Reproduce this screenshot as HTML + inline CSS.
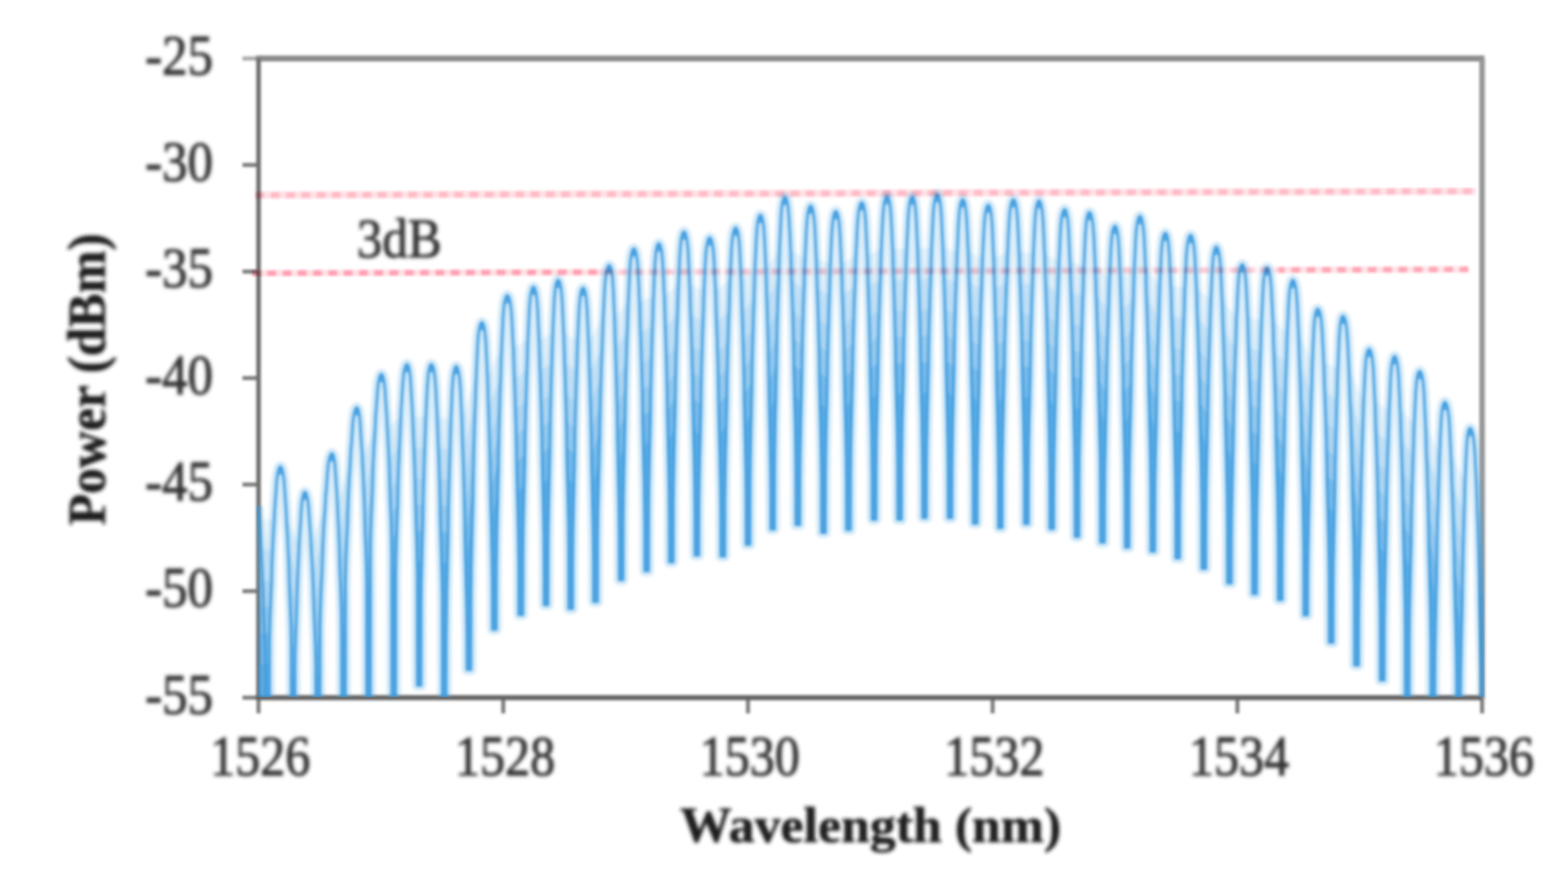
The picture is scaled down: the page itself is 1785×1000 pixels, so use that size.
<!DOCTYPE html>
<html><head><meta charset="utf-8"><title>Spectrum</title>
<style>
html,body{margin:0;padding:0;background:#fff;}
body{width:1785px;height:1000px;overflow:hidden;}
svg{display:block;}
text{font-family:"Liberation Serif",serif;fill:#333;stroke:#333;stroke-width:1px;stroke-linejoin:round;}
.b{font-weight:bold;fill:#1c1c1c;stroke:#1c1c1c;stroke-width:0.6px;}
</style></head><body>
<svg width="1785" height="1000" viewBox="0 0 1785 1000">
<defs>
<clipPath id="cp"><rect x="292" y="60" width="1398" height="733.8"/></clipPath>
<filter id="bl" x="-5%" y="-5%" width="110%" height="110%"><feGaussianBlur stdDeviation="1.6"/></filter>
<filter id="bw" x="-5%" y="-5%" width="110%" height="110%"><feGaussianBlur stdDeviation="1.5"/></filter>
<filter id="br" x="-5%" y="-50%" width="110%" height="200%" filterUnits="objectBoundingBox"><feGaussianBlur stdDeviation="1.6"/></filter>
<filter id="bt" x="-5%" y="-20%" width="110%" height="140%"><feGaussianBlur stdDeviation="2.0"/></filter>
</defs>
<rect width="1785" height="1000" fill="#fff"/>

<g filter="url(#bl)" fill="none" stroke-linecap="butt">
<line x1="276" x2="294.3" y1="794.6" y2="794.6" stroke="#7a7a7a" stroke-width="4.5"/>
<line x1="276" x2="294.3" y1="673.3" y2="673.3" stroke="#7a7a7a" stroke-width="4.5"/>
<line x1="276" x2="294.3" y1="551.9" y2="551.9" stroke="#7a7a7a" stroke-width="4.5"/>
<line x1="276" x2="294.3" y1="430.6" y2="430.6" stroke="#7a7a7a" stroke-width="4.5"/>
<line x1="276" x2="294.3" y1="309.3" y2="309.3" stroke="#7a7a7a" stroke-width="4.5"/>
<line x1="276" x2="294.3" y1="187.9" y2="187.9" stroke="#7a7a7a" stroke-width="4.5"/>
<line x1="276" x2="294.3" y1="66.6" y2="66.6" stroke="#a8a8a8" stroke-width="4.5"/>
<line x1="294.3" x2="294.3" y1="794.6" y2="812.5" stroke="#7a7a7a" stroke-width="4.5"/>
<line x1="572.9" x2="572.9" y1="794.6" y2="812.5" stroke="#7a7a7a" stroke-width="4.5"/>
<line x1="851.5" x2="851.5" y1="794.6" y2="812.5" stroke="#7a7a7a" stroke-width="4.5"/>
<line x1="1130.0" x2="1130.0" y1="794.6" y2="812.5" stroke="#7a7a7a" stroke-width="4.5"/>
<line x1="1408.6" x2="1408.6" y1="794.6" y2="812.5" stroke="#7a7a7a" stroke-width="4.5"/>
<line x1="1687.2" x2="1687.2" y1="794.6" y2="812.5" stroke="#7a7a7a" stroke-width="4.5"/>
<line x1="291.3" x2="1689.8" y1="66.6" y2="66.6" stroke="#8a8a8a" stroke-width="6.6"/>
<line x1="1687.2" x2="1687.2" y1="66.6" y2="796.6" stroke="#969696" stroke-width="6.4"/>
<line x1="294.3" x2="294.3" y1="66.6" y2="796.6" stroke="#6e6e6e" stroke-width="5.2"/>
<line x1="291.3" x2="1687.2" y1="794.6" y2="794.6" stroke="#626262" stroke-width="5.6"/>
</g>
<g clip-path="url(#cp)"><g filter="url(#bw)" fill="none" stroke-linejoin="round" stroke-linecap="butt"><path d="M294.0 576.5 L294.3 584.0 L295.0 593.5 L295.8 605.7 L296.7 617.7 L297.4 633.3 L298.3 649.5 L299.2 669.3 L299.7 681.9 L300.1 700.5 L300.8 717.3 L301.5 733.5 L302.0 748.5 L302.3 766.5 L302.4 828.0 L306.8 828.0 L306.9 729.5 L307.3 711.5 L307.8 696.5 L308.5 680.3 L309.2 663.5 L309.6 644.9 L310.1 632.3 L311.0 612.5 L312.0 596.3 L312.7 580.7 L313.6 568.7 L314.4 556.5 L315.1 547.0 L316.0 540.5 L317.0 535.5 L318.1 532.5 L319.2 531.5 L320.3 532.5 L321.4 535.5 L322.4 540.5 L323.3 547.0 L324.0 556.5 L324.8 568.7 L325.7 580.7 L326.4 596.3 L327.4 612.5 L328.3 632.3 L328.8 644.9 L329.2 663.5 L329.9 680.3 L330.6 696.5 L331.1 711.5 L331.5 729.5 L331.6 828.0 L335.8 828.0 L335.9 758.5 L336.2 740.5 L336.7 725.5 L337.3 709.3 L337.9 692.5 L338.3 673.9 L338.8 661.3 L339.6 641.5 L340.4 625.3 L341.1 609.7 L342.0 597.7 L342.7 585.5 L343.3 576.0 L344.1 569.5 L345.0 564.5 L346.0 561.5 L347.0 560.5 L348.1 561.5 L349.3 564.5 L350.3 569.5 L351.1 576.0 L351.8 585.5 L352.7 597.7 L353.6 609.7 L354.3 625.3 L355.3 641.5 L356.2 661.3 L356.7 673.9 L357.2 692.5 L357.9 709.3 L358.6 725.5 L359.1 740.5 L359.4 758.5 L359.5 828.0 L364.3 828.0 L364.4 714.5 L364.8 696.5 L365.3 681.5 L366.0 665.3 L366.8 648.5 L367.3 629.9 L367.8 617.3 L368.8 597.5 L369.9 581.3 L370.7 565.7 L371.8 553.7 L372.6 541.5 L373.4 532.0 L374.3 525.5 L375.4 520.5 L376.7 517.5 L377.9 516.5 L378.9 517.5 L379.9 520.5 L380.8 525.5 L381.5 532.0 L382.1 541.5 L382.9 553.7 L383.7 565.7 L384.4 581.3 L385.2 597.5 L386.0 617.3 L386.4 629.9 L386.8 648.5 L387.5 665.3 L388.1 681.5 L388.5 696.5 L388.8 714.5 L388.9 828.0 L393.2 828.0 L393.3 662.3 L393.7 644.3 L394.2 629.3 L394.9 613.1 L395.7 596.3 L396.2 577.7 L396.6 565.1 L397.6 545.3 L398.6 529.1 L399.4 513.5 L400.4 501.5 L401.2 489.3 L401.9 479.8 L402.8 473.3 L403.9 468.3 L405.0 465.3 L406.2 464.3 L407.2 465.3 L408.2 468.3 L409.1 473.3 L409.9 479.8 L410.5 489.3 L411.2 501.5 L412.1 513.5 L412.8 529.1 L413.6 545.3 L414.4 565.1 L414.9 577.7 L415.3 596.3 L415.9 613.1 L416.5 629.3 L417.0 644.3 L417.3 662.3 L417.4 828.0 L421.7 828.0 L421.8 624.2 L422.1 606.2 L422.6 591.2 L423.3 575.0 L424.0 558.2 L424.5 539.6 L424.9 527.0 L425.9 507.2 L426.9 491.0 L427.6 475.4 L428.5 463.4 L429.4 451.2 L430.1 441.7 L430.9 435.2 L431.9 430.2 L433.1 427.2 L434.2 426.2 L435.3 427.2 L436.3 430.2 L437.3 435.2 L438.1 441.7 L438.7 451.2 L439.5 463.4 L440.4 475.4 L441.1 491.0 L442.0 507.2 L442.9 527.0 L443.3 539.6 L443.8 558.2 L444.4 575.0 L445.1 591.2 L445.5 606.2 L445.9 624.2 L446.0 803.0 L450.4 803.0 L450.5 655.0 L450.9 632.5 L451.4 613.8 L452.1 593.5 L452.9 572.5 L453.3 549.2 L453.8 533.5 L454.8 508.8 L455.8 488.5 L456.5 469.0 L457.5 454.0 L458.3 440.0 L459.1 430.5 L459.9 424.0 L461.0 419.0 L462.1 416.0 L463.3 415.0 L464.4 416.0 L465.4 419.0 L466.4 424.0 L467.2 430.5 L467.8 440.0 L468.6 454.0 L469.5 469.0 L470.2 488.5 L471.1 508.8 L472.0 533.5 L472.4 549.2 L472.9 572.5 L473.5 593.5 L474.2 613.8 L474.6 632.5 L475.0 655.0 L475.1 780.6 L479.3 780.6 L479.4 691.4 L479.7 665.0 L480.2 643.0 L480.8 619.2 L481.5 594.6 L481.9 567.3 L482.4 548.8 L483.2 519.8 L484.1 496.0 L484.9 473.2 L485.7 455.6 L486.5 440.0 L487.2 430.5 L487.9 424.0 L488.9 419.0 L489.9 416.0 L491.0 415.0 L492.1 416.0 L493.3 419.0 L494.3 424.0 L495.1 430.5 L495.9 440.0 L496.7 455.6 L497.6 473.2 L498.4 496.0 L499.4 519.8 L500.3 548.8 L500.8 567.3 L501.2 594.6 L502.0 619.2 L502.6 643.0 L503.2 665.0 L503.5 691.4 L503.6 808.0 L507.9 808.0 L508.0 727.2 L508.4 697.2 L508.8 672.2 L509.4 645.2 L510.1 617.2 L510.5 586.2 L510.9 565.2 L511.8 532.2 L512.6 505.2 L513.3 479.2 L514.2 459.2 L514.9 442.2 L515.6 432.7 L516.3 426.2 L517.3 421.2 L518.3 418.2 L519.3 417.2 L520.4 418.2 L521.5 421.2 L522.5 426.2 L523.4 432.7 L524.1 442.2 L524.9 459.2 L525.8 479.2 L526.5 505.2 L527.5 532.2 L528.4 565.2 L528.9 586.2 L529.3 617.2 L530.0 645.2 L530.7 672.2 L531.2 697.2 L531.6 727.2 L531.7 762.7 L536.1 762.7 L536.2 677.2 L536.6 647.2 L537.1 622.2 L537.8 595.2 L538.5 567.2 L539.0 536.2 L539.4 515.2 L540.3 482.2 L541.3 455.2 L542.1 429.2 L543.0 409.2 L543.8 392.2 L544.5 382.7 L545.3 376.2 L546.4 371.2 L547.5 368.2 L548.6 367.2 L549.7 368.2 L550.8 371.2 L551.8 376.2 L552.5 382.7 L553.2 392.2 L554.0 409.2 L554.9 429.2 L555.7 455.2 L556.6 482.2 L557.5 515.2 L557.9 536.2 L558.4 567.2 L559.1 595.2 L559.7 622.2 L560.2 647.2 L560.5 677.2 L560.6 716.8 L565.0 716.8 L565.1 646.5 L565.5 616.5 L566.0 591.5 L566.7 564.5 L567.4 536.5 L567.9 505.5 L568.3 484.5 L569.2 451.5 L570.2 424.5 L571.0 398.5 L571.9 378.5 L572.7 361.5 L573.4 352.0 L574.2 345.5 L575.3 340.5 L576.4 337.5 L577.5 336.5 L578.7 337.5 L579.9 340.5 L580.9 345.5 L581.8 352.0 L582.6 361.5 L583.4 378.5 L584.4 398.5 L585.2 424.5 L586.2 451.5 L587.2 484.5 L587.7 505.5 L588.2 536.5 L588.9 564.5 L589.6 591.5 L590.1 616.5 L590.5 646.5 L590.6 700.0 L595.2 700.0 L595.3 636.9 L595.6 606.9 L596.1 581.9 L596.8 554.9 L597.5 526.9 L597.9 495.9 L598.4 474.9 L599.3 441.9 L600.2 414.9 L600.9 388.9 L601.8 368.9 L602.6 351.9 L603.3 342.4 L604.1 335.9 L605.1 330.9 L606.2 327.9 L607.3 326.9 L608.4 327.9 L609.5 330.9 L610.5 335.9 L611.3 342.4 L612.0 351.9 L612.8 368.9 L613.7 388.9 L614.5 414.9 L615.4 441.9 L616.3 474.9 L616.8 495.9 L617.2 526.9 L617.9 554.9 L618.6 581.9 L619.1 606.9 L619.4 636.9 L619.5 688.8 L623.8 688.8 L623.9 629.0 L624.2 599.0 L624.7 574.0 L625.3 547.0 L626.0 519.0 L626.4 488.0 L626.8 467.0 L627.6 434.0 L628.5 407.0 L629.3 381.0 L630.1 361.0 L630.9 344.0 L631.5 334.5 L632.3 328.0 L633.2 323.0 L634.3 320.0 L635.3 319.0 L636.4 320.0 L637.5 323.0 L638.5 328.0 L639.3 334.5 L640.0 344.0 L640.8 361.0 L641.7 381.0 L642.5 407.0 L643.4 434.0 L644.3 467.0 L644.8 488.0 L645.2 519.0 L645.9 547.0 L646.6 574.0 L647.1 599.0 L647.4 629.0 L647.5 693.2 L651.9 693.2 L652.0 638.0 L652.3 608.0 L652.8 583.0 L653.4 556.0 L654.1 528.0 L654.5 497.0 L655.0 476.0 L655.9 443.0 L656.8 416.0 L657.5 390.0 L658.4 370.0 L659.2 353.0 L659.9 343.5 L660.7 337.0 L661.6 332.0 L662.7 329.0 L663.8 328.0 L664.9 329.0 L665.9 332.0 L666.9 337.0 L667.7 343.5 L668.4 353.0 L669.1 370.0 L670.0 390.0 L670.8 416.0 L671.7 443.0 L672.5 476.0 L673.0 497.0 L673.4 528.0 L674.1 556.0 L674.7 583.0 L675.2 608.0 L675.6 638.0 L675.7 685.2 L680.2 685.2 L680.3 612.2 L680.7 582.2 L681.3 557.2 L682.0 530.2 L682.7 502.2 L683.2 471.2 L683.7 450.2 L684.7 417.2 L685.8 390.2 L686.6 364.2 L687.6 344.2 L688.4 327.2 L689.2 317.7 L690.1 311.2 L691.2 306.2 L692.4 303.2 L693.6 302.2 L694.6 303.2 L695.7 306.2 L696.6 311.2 L697.4 317.7 L698.0 327.2 L698.8 344.2 L699.6 364.2 L700.3 390.2 L701.2 417.2 L702.0 450.2 L702.5 471.2 L702.9 502.2 L703.5 530.2 L704.1 557.2 L704.6 582.2 L704.9 612.2 L705.0 660.3 L709.3 660.3 L709.4 593.2 L709.8 563.2 L710.3 538.2 L710.9 511.2 L711.6 483.2 L712.1 452.2 L712.5 431.2 L713.4 398.2 L714.4 371.2 L715.2 345.2 L716.1 325.2 L716.9 308.2 L717.6 298.7 L718.4 292.2 L719.4 287.2 L720.5 284.2 L721.6 283.2 L722.7 284.2 L723.8 287.2 L724.8 292.2 L725.7 298.7 L726.4 308.2 L727.2 325.2 L728.1 345.2 L728.8 371.2 L729.8 398.2 L730.7 431.2 L731.2 452.2 L731.6 483.2 L732.3 511.2 L733.0 538.2 L733.5 563.2 L733.9 593.2 L734.0 650.2 L738.3 650.2 L738.4 587.5 L738.7 557.5 L739.2 532.5 L739.8 505.5 L740.5 477.5 L740.9 446.5 L741.4 425.5 L742.2 392.5 L743.1 365.5 L743.9 339.5 L744.7 319.5 L745.5 302.5 L746.2 293.0 L746.9 286.5 L747.9 281.5 L748.9 278.5 L750.0 277.5 L751.1 278.5 L752.2 281.5 L753.2 286.5 L753.9 293.0 L754.6 302.5 L755.4 319.5 L756.3 339.5 L757.1 365.5 L758.0 392.5 L758.9 425.5 L759.3 446.5 L759.8 477.5 L760.5 505.5 L761.1 532.5 L761.6 557.5 L761.9 587.5 L762.0 640.1 L766.4 640.1 L766.5 574.1 L766.9 544.1 L767.4 519.1 L768.0 492.1 L768.7 464.1 L769.2 433.1 L769.6 412.1 L770.5 379.1 L771.5 352.1 L772.3 326.1 L773.2 306.1 L774.0 289.1 L774.7 279.6 L775.5 273.1 L776.5 268.1 L777.6 265.1 L778.7 264.1 L779.8 265.1 L780.9 268.1 L781.9 273.1 L782.8 279.6 L783.5 289.1 L784.3 306.1 L785.2 326.1 L785.9 352.1 L786.9 379.1 L787.8 412.1 L788.3 433.1 L788.7 464.1 L789.4 492.1 L790.1 519.1 L790.6 544.1 L791.0 574.1 L791.1 632.3 L795.5 632.3 L795.6 580.8 L796.0 550.8 L796.5 525.8 L797.2 498.8 L797.9 470.8 L798.3 439.8 L798.8 418.8 L799.7 385.8 L800.7 358.8 L801.4 332.8 L802.3 312.8 L803.1 295.8 L803.8 286.3 L804.7 279.8 L805.7 274.8 L806.8 271.8 L807.9 270.8 L809.0 271.8 L810.2 274.8 L811.2 279.8 L812.1 286.3 L812.8 295.8 L813.6 312.8 L814.6 332.8 L815.3 358.8 L816.3 385.8 L817.3 418.8 L817.7 439.8 L818.2 470.8 L818.9 498.8 L819.6 525.8 L820.1 550.8 L820.5 580.8 L820.6 633.4 L825.1 633.4 L825.2 569.5 L825.6 539.5 L826.1 514.5 L826.8 487.5 L827.5 459.5 L827.9 428.5 L828.4 407.5 L829.3 374.5 L830.3 347.5 L831.0 321.5 L831.9 301.5 L832.7 284.5 L833.4 275.0 L834.3 268.5 L835.3 263.5 L836.4 260.5 L837.5 259.5 L838.6 260.5 L839.7 263.5 L840.6 268.5 L841.4 275.0 L842.1 284.5 L842.9 301.5 L843.8 321.5 L844.5 347.5 L845.4 374.5 L846.3 407.5 L846.8 428.5 L847.2 459.5 L847.9 487.5 L848.5 514.5 L849.0 539.5 L849.3 569.5 L849.4 620.0 L853.8 620.0 L853.9 555.1 L854.2 525.1 L854.7 500.1 L855.3 473.1 L856.0 445.1 L856.4 414.1 L856.9 393.1 L857.8 360.1 L858.7 333.1 L859.4 307.1 L860.3 287.1 L861.1 270.1 L861.8 260.6 L862.6 254.1 L863.5 249.1 L864.6 246.1 L865.7 245.1 L866.8 246.1 L867.8 249.1 L868.8 254.1 L869.6 260.6 L870.2 270.1 L871.0 287.1 L871.9 307.1 L872.6 333.1 L873.5 360.1 L874.4 393.1 L874.8 414.1 L875.3 445.1 L875.9 473.1 L876.6 500.1 L877.0 525.1 L877.4 555.1 L877.5 602.7 L881.7 602.7 L881.8 534.5 L882.2 504.5 L882.6 479.5 L883.3 452.5 L883.9 424.5 L884.4 393.5 L884.8 372.5 L885.7 339.5 L886.6 312.5 L887.3 286.5 L888.2 266.5 L889.0 249.5 L889.6 240.0 L890.4 233.5 L891.4 228.5 L892.4 225.5 L893.5 224.5 L894.6 225.5 L895.8 228.5 L896.8 233.5 L897.6 240.0 L898.3 249.5 L899.2 266.5 L900.1 286.5 L900.8 312.5 L901.8 339.5 L902.8 372.5 L903.2 393.5 L903.7 424.5 L904.4 452.5 L905.1 479.5 L905.6 504.5 L905.9 534.5 L906.0 597.6 L910.5 597.6 L910.6 544.5 L911.0 514.5 L911.5 489.5 L912.1 462.5 L912.8 434.5 L913.3 403.5 L913.7 382.5 L914.6 349.5 L915.6 322.5 L916.4 296.5 L917.3 276.5 L918.1 259.5 L918.8 250.0 L919.6 243.5 L920.6 238.5 L921.7 235.5 L922.8 234.5 L923.9 235.5 L925.0 238.5 L926.0 243.5 L926.9 250.0 L927.6 259.5 L928.4 276.5 L929.3 296.5 L930.0 322.5 L931.0 349.5 L931.9 382.5 L932.4 403.5 L932.8 434.5 L933.5 462.5 L934.2 489.5 L934.7 514.5 L935.1 544.5 L935.2 606.5 L939.6 606.5 L939.7 550.8 L940.0 520.8 L940.5 495.8 L941.1 468.8 L941.8 440.8 L942.2 409.8 L942.7 388.8 L943.6 355.8 L944.5 328.8 L945.2 302.8 L946.1 282.8 L946.9 265.8 L947.6 256.3 L948.4 249.8 L949.3 244.8 L950.4 241.8 L951.5 240.8 L952.6 241.8 L953.7 244.8 L954.7 249.8 L955.5 256.3 L956.2 265.8 L957.0 282.8 L957.9 302.8 L958.6 328.8 L959.6 355.8 L960.5 388.8 L960.9 409.8 L961.4 440.8 L962.1 468.8 L962.8 495.8 L963.2 520.8 L963.6 550.8 L963.7 603.2 L968.2 603.2 L968.3 540.7 L968.7 510.7 L969.2 485.7 L969.9 458.7 L970.6 430.7 L971.1 399.7 L971.6 378.7 L972.5 345.7 L973.6 318.7 L974.3 292.7 L975.3 272.7 L976.1 255.7 L976.9 246.2 L977.7 239.7 L978.8 234.7 L979.9 231.7 L981.1 230.7 L982.2 231.7 L983.2 234.7 L984.2 239.7 L985.0 246.2 L985.6 255.7 L986.4 272.7 L987.3 292.7 L988.0 318.7 L988.9 345.7 L989.8 378.7 L990.2 399.7 L990.7 430.7 L991.3 458.7 L992.0 485.7 L992.4 510.7 L992.8 540.7 L992.9 591.5 L997.3 591.5 L997.4 533.5 L997.7 503.5 L998.2 478.5 L998.9 451.5 L999.6 423.5 L1000.1 392.5 L1000.5 371.5 L1001.5 338.5 L1002.5 311.5 L1003.2 285.5 L1004.1 265.5 L1005.0 248.5 L1005.7 239.0 L1006.5 232.5 L1007.5 227.5 L1008.7 224.5 L1009.8 223.5 L1010.9 224.5 L1012.0 227.5 L1013.0 232.5 L1013.8 239.0 L1014.5 248.5 L1015.3 265.5 L1016.2 285.5 L1016.9 311.5 L1017.8 338.5 L1018.7 371.5 L1019.2 392.5 L1019.6 423.5 L1020.3 451.5 L1021.0 478.5 L1021.5 503.5 L1021.8 533.5 L1021.9 591.5 L1026.3 591.5 L1026.4 534.0 L1026.8 504.0 L1027.2 479.0 L1027.9 452.0 L1028.6 424.0 L1029.0 393.0 L1029.5 372.0 L1030.4 339.0 L1031.3 312.0 L1032.1 286.0 L1033.0 266.0 L1033.8 249.0 L1034.5 239.5 L1035.3 233.0 L1036.3 228.0 L1037.4 225.0 L1038.5 224.0 L1039.6 225.0 L1040.6 228.0 L1041.6 233.0 L1042.4 239.5 L1043.0 249.0 L1043.8 266.0 L1044.7 286.0 L1045.4 312.0 L1046.3 339.0 L1047.2 372.0 L1047.6 393.0 L1048.1 424.0 L1048.7 452.0 L1049.4 479.0 L1049.8 504.0 L1050.2 534.0 L1050.3 589.5 L1054.6 589.5 L1054.7 531.5 L1055.1 501.5 L1055.6 476.5 L1056.3 449.5 L1057.0 421.5 L1057.4 390.5 L1057.9 369.5 L1058.8 336.5 L1059.8 309.5 L1060.5 283.5 L1061.4 263.5 L1062.2 246.5 L1062.9 237.0 L1063.8 230.5 L1064.8 225.5 L1065.9 222.5 L1067.0 221.5 L1068.1 222.5 L1069.2 225.5 L1070.2 230.5 L1071.0 237.0 L1071.7 246.5 L1072.5 263.5 L1073.4 283.5 L1074.2 309.5 L1075.2 336.5 L1076.1 369.5 L1076.5 390.5 L1077.0 421.5 L1077.7 449.5 L1078.3 476.5 L1078.8 501.5 L1079.2 531.5 L1079.3 589.7 L1083.7 589.7 L1083.8 537.3 L1084.2 507.3 L1084.7 482.3 L1085.3 455.3 L1086.0 427.3 L1086.5 396.3 L1086.9 375.3 L1087.8 342.3 L1088.8 315.3 L1089.6 289.3 L1090.5 269.3 L1091.3 252.3 L1092.0 242.8 L1092.8 236.3 L1093.8 231.3 L1094.9 228.3 L1096.0 227.3 L1097.1 228.3 L1098.2 231.3 L1099.1 236.3 L1099.9 242.8 L1100.6 252.3 L1101.4 269.3 L1102.3 289.3 L1103.0 315.3 L1103.9 342.3 L1104.8 375.3 L1105.3 396.3 L1105.7 427.3 L1106.4 455.3 L1107.0 482.3 L1107.5 507.3 L1107.8 537.3 L1107.9 596.0 L1112.4 596.0 L1112.5 543.6 L1112.9 513.6 L1113.4 488.6 L1114.1 461.6 L1114.8 433.6 L1115.3 402.6 L1115.8 381.6 L1116.7 348.6 L1117.7 321.6 L1118.5 295.6 L1119.4 275.6 L1120.3 258.6 L1121.0 249.1 L1121.8 242.6 L1122.9 237.6 L1124.0 234.6 L1125.2 233.6 L1126.2 234.6 L1127.2 237.6 L1128.2 242.6 L1128.9 249.1 L1129.6 258.6 L1130.3 275.6 L1131.2 295.6 L1131.9 321.6 L1132.7 348.6 L1133.6 381.6 L1134.0 402.6 L1134.4 433.6 L1135.1 461.6 L1135.7 488.6 L1136.1 513.6 L1136.5 543.6 L1136.6 601.0 L1140.9 601.0 L1141.0 537.3 L1141.4 507.3 L1141.9 482.3 L1142.6 455.3 L1143.3 427.3 L1143.8 396.3 L1144.3 375.3 L1145.2 342.3 L1146.2 315.3 L1147.0 289.3 L1147.9 269.3 L1148.8 252.3 L1149.5 242.8 L1150.3 236.3 L1151.4 231.3 L1152.5 228.3 L1153.7 227.3 L1154.8 228.3 L1155.9 231.3 L1157.0 236.3 L1157.8 242.8 L1158.5 252.3 L1159.3 269.3 L1160.2 289.3 L1161.0 315.3 L1162.0 342.3 L1162.9 375.3 L1163.3 396.3 L1163.8 427.3 L1164.5 455.3 L1165.2 482.3 L1165.7 507.3 L1166.1 537.3 L1166.2 596.4 L1170.6 596.4 L1170.7 538.5 L1171.0 508.5 L1171.5 483.5 L1172.2 456.5 L1172.9 428.5 L1173.4 397.5 L1173.8 376.5 L1174.7 343.5 L1175.7 316.5 L1176.4 290.5 L1177.3 270.5 L1178.1 253.5 L1178.8 244.0 L1179.6 237.5 L1180.6 232.5 L1181.7 229.5 L1182.8 228.5 L1183.9 229.5 L1185.0 232.5 L1186.0 237.5 L1186.8 244.0 L1187.5 253.5 L1188.3 270.5 L1189.2 290.5 L1190.0 316.5 L1191.0 343.5 L1191.9 376.5 L1192.3 397.5 L1192.8 428.5 L1193.5 456.5 L1194.1 483.5 L1194.6 508.5 L1195.0 538.5 L1195.1 602.0 L1199.5 602.0 L1199.6 548.5 L1200.0 518.5 L1200.5 493.5 L1201.2 466.5 L1201.9 438.5 L1202.4 407.5 L1202.8 386.5 L1203.7 353.5 L1204.7 326.5 L1205.5 300.5 L1206.4 280.5 L1207.2 263.5 L1207.9 254.0 L1208.7 247.5 L1209.8 242.5 L1210.9 239.5 L1212.0 238.5 L1213.1 239.5 L1214.1 242.5 L1215.1 247.5 L1215.9 254.0 L1216.6 263.5 L1217.3 280.5 L1218.2 300.5 L1219.0 326.5 L1219.9 353.5 L1220.8 386.5 L1221.2 407.5 L1221.6 438.5 L1222.3 466.5 L1222.9 493.5 L1223.4 518.5 L1223.8 548.5 L1223.9 611.0 L1228.2 611.0 L1228.3 551.9 L1228.6 521.9 L1229.1 496.9 L1229.7 469.9 L1230.4 441.9 L1230.9 410.9 L1231.3 389.9 L1232.2 356.9 L1233.1 329.9 L1233.9 303.9 L1234.8 283.9 L1235.6 266.9 L1236.3 257.4 L1237.0 250.9 L1238.0 245.9 L1239.1 242.9 L1240.2 241.9 L1241.3 242.9 L1242.5 245.9 L1243.5 250.9 L1244.3 257.4 L1245.1 266.9 L1245.9 283.9 L1246.8 303.9 L1247.6 329.9 L1248.6 356.9 L1249.5 389.9 L1250.0 410.9 L1250.4 441.9 L1251.2 469.9 L1251.8 496.9 L1252.4 521.9 L1252.7 551.9 L1252.8 617.7 L1257.3 617.7 L1257.4 567.5 L1257.7 537.5 L1258.2 512.5 L1258.8 485.5 L1259.5 457.5 L1260.0 426.5 L1260.4 405.5 L1261.3 372.5 L1262.2 345.5 L1263.0 319.5 L1263.9 299.5 L1264.7 282.5 L1265.4 273.0 L1266.1 266.5 L1267.1 261.5 L1268.2 258.5 L1269.3 257.5 L1270.4 258.5 L1271.4 261.5 L1272.4 266.5 L1273.1 273.0 L1273.8 282.5 L1274.6 299.5 L1275.4 319.5 L1276.2 345.5 L1277.1 372.5 L1277.9 405.5 L1278.4 426.5 L1278.8 457.5 L1279.5 485.5 L1280.1 512.5 L1280.6 537.5 L1280.9 567.5 L1281.0 623.3 L1285.3 623.3 L1285.4 556.2 L1285.8 526.2 L1286.3 501.2 L1287.0 474.2 L1287.7 446.2 L1288.1 415.2 L1288.6 394.2 L1289.5 361.2 L1290.5 334.2 L1291.2 308.2 L1292.1 288.2 L1292.9 271.2 L1293.6 261.7 L1294.5 255.2 L1295.5 250.2 L1296.6 247.2 L1297.7 246.2 L1298.8 247.2 L1299.9 250.2 L1300.9 255.2 L1301.8 261.7 L1302.5 271.2 L1303.3 288.2 L1304.2 308.2 L1304.9 334.2 L1305.9 361.2 L1306.8 394.2 L1307.3 415.2 L1307.7 446.2 L1308.4 474.2 L1309.1 501.2 L1309.6 526.2 L1310.0 556.2 L1310.1 627.8 L1314.5 627.8 L1314.6 575.5 L1314.9 545.5 L1315.4 520.5 L1316.1 493.5 L1316.8 465.5 L1317.2 434.5 L1317.7 413.5 L1318.6 380.5 L1319.5 353.5 L1320.2 327.5 L1321.1 307.5 L1321.9 290.5 L1322.6 281.0 L1323.4 274.5 L1324.4 269.5 L1325.5 266.5 L1326.6 265.5 L1327.7 266.5 L1328.8 269.5 L1329.7 274.5 L1330.5 281.0 L1331.2 290.5 L1332.0 307.5 L1332.9 327.5 L1333.6 353.5 L1334.5 380.5 L1335.4 413.5 L1335.9 434.5 L1336.3 465.5 L1337.0 493.5 L1337.6 520.5 L1338.1 545.5 L1338.4 575.5 L1338.5 635.6 L1342.9 635.6 L1343.0 577.9 L1343.4 547.9 L1343.9 522.9 L1344.6 495.9 L1345.3 467.9 L1345.7 436.9 L1346.2 415.9 L1347.1 382.9 L1348.1 355.9 L1348.8 329.9 L1349.7 309.9 L1350.5 292.9 L1351.2 283.4 L1352.1 276.9 L1353.1 271.9 L1354.2 268.9 L1355.3 267.9 L1356.5 268.9 L1357.6 271.9 L1358.7 276.9 L1359.5 283.4 L1360.3 292.9 L1361.1 309.9 L1362.1 329.9 L1362.8 355.9 L1363.8 382.9 L1364.8 415.9 L1365.3 436.9 L1365.8 467.9 L1366.5 495.9 L1367.2 522.9 L1367.7 547.9 L1368.1 577.9 L1368.2 647.5 L1372.7 647.5 L1372.8 591.3 L1373.1 561.3 L1373.6 536.3 L1374.2 509.3 L1374.9 481.3 L1375.4 450.3 L1375.8 429.3 L1376.7 396.3 L1377.6 369.3 L1378.4 343.3 L1379.3 323.3 L1380.1 306.3 L1380.8 296.8 L1381.5 290.3 L1382.5 285.3 L1383.6 282.3 L1384.7 281.3 L1385.8 282.3 L1387.0 285.3 L1388.0 290.3 L1388.8 296.8 L1389.6 306.3 L1390.4 323.3 L1391.3 343.3 L1392.1 369.3 L1393.1 396.3 L1394.0 429.3 L1394.5 450.3 L1394.9 481.3 L1395.7 509.3 L1396.3 536.3 L1396.9 561.3 L1397.2 591.3 L1397.3 664.0 L1401.8 664.0 L1401.9 611.3 L1402.3 581.3 L1402.8 556.3 L1403.4 529.3 L1404.1 501.3 L1404.6 470.3 L1405.0 449.3 L1405.9 416.3 L1406.9 389.3 L1407.7 363.3 L1408.6 343.3 L1409.4 326.3 L1410.1 316.8 L1410.9 310.3 L1411.9 305.3 L1413.0 302.3 L1414.1 301.3 L1415.2 302.3 L1416.3 305.3 L1417.2 310.3 L1418.0 316.8 L1418.7 326.3 L1419.5 343.3 L1420.4 363.3 L1421.1 389.3 L1422.0 416.3 L1422.9 449.3 L1423.4 470.3 L1423.8 501.3 L1424.5 529.3 L1425.1 556.3 L1425.6 581.3 L1425.9 611.3 L1426.0 676.2 L1430.4 676.2 L1430.5 614.9 L1430.8 584.9 L1431.3 559.9 L1431.9 532.9 L1432.6 504.9 L1433.1 473.9 L1433.5 452.9 L1434.4 419.9 L1435.3 392.9 L1436.1 366.9 L1437.0 346.9 L1437.8 329.9 L1438.5 320.4 L1439.2 313.9 L1440.2 308.9 L1441.3 305.9 L1442.4 304.9 L1443.5 305.9 L1444.7 308.9 L1445.7 313.9 L1446.6 320.4 L1447.3 329.9 L1448.1 346.9 L1449.1 366.9 L1449.8 392.9 L1450.8 419.9 L1451.8 452.9 L1452.2 473.9 L1452.7 504.9 L1453.4 532.9 L1454.1 559.9 L1454.6 584.9 L1455.0 614.9 L1455.1 683.0 L1459.6 683.0 L1459.7 629.0 L1460.0 599.0 L1460.5 574.0 L1461.2 547.0 L1461.9 519.0 L1462.4 488.0 L1462.8 467.0 L1463.7 434.0 L1464.7 407.0 L1465.4 381.0 L1466.3 361.0 L1467.1 344.0 L1467.8 334.5 L1468.6 328.0 L1469.6 323.0 L1470.7 320.0 L1471.8 319.0 L1472.9 320.0 L1474.0 323.0 L1475.1 328.0 L1475.9 334.5 L1476.6 344.0 L1477.4 361.0 L1478.3 381.0 L1479.1 407.0 L1480.1 434.0 L1481.0 467.0 L1481.4 488.0 L1481.9 519.0 L1482.6 547.0 L1483.3 574.0 L1483.8 599.0 L1484.2 629.0 L1484.3 700.4 L1488.6 700.4 L1488.7 661.9 L1489.0 631.9 L1489.5 606.9 L1490.1 579.9 L1490.7 551.9 L1491.1 520.9 L1491.6 499.9 L1492.4 466.9 L1493.3 439.9 L1494.0 413.9 L1494.8 393.9 L1495.6 376.9 L1496.2 367.4 L1497.0 360.9 L1497.9 355.9 L1499.0 352.9 L1500.0 351.9 L1501.2 352.9 L1502.4 355.9 L1503.5 360.9 L1504.3 367.4 L1505.1 376.9 L1506.0 393.9 L1506.9 413.9 L1507.7 439.9 L1508.8 466.9 L1509.8 499.9 L1510.2 520.9 L1510.7 551.9 L1511.5 579.9 L1512.2 606.9 L1512.7 631.9 L1513.1 661.9 L1513.2 731.7 L1517.6 731.7 L1517.7 670.1 L1518.0 640.1 L1518.5 615.1 L1519.1 588.1 L1519.7 560.1 L1520.1 529.1 L1520.5 508.1 L1521.4 475.1 L1522.2 448.1 L1522.9 422.1 L1523.8 402.1 L1524.5 385.1 L1525.1 375.6 L1525.9 369.1 L1526.8 364.1 L1527.8 361.1 L1528.8 360.1 L1530.0 361.1 L1531.2 364.1 L1532.3 369.1 L1533.1 375.6 L1533.9 385.1 L1534.8 402.1 L1535.7 422.1 L1536.5 448.1 L1537.6 475.1 L1538.5 508.1 L1539.0 529.1 L1539.5 560.1 L1540.3 588.1 L1541.0 615.1 L1541.5 640.1 L1541.9 670.1 L1542.0 757.5 L1546.6 757.5 L1546.7 707.8 L1547.0 677.8 L1547.5 652.8 L1548.1 625.8 L1548.8 597.8 L1549.3 566.8 L1549.7 545.8 L1550.6 512.8 L1551.5 485.8 L1552.3 459.8 L1553.2 439.8 L1554.0 422.8 L1554.7 413.3 L1555.4 406.8 L1556.4 401.8 L1557.5 398.8 L1558.6 397.8 L1559.7 398.8 L1560.9 401.8 L1561.9 406.8 L1562.8 413.3 L1563.5 422.8 L1564.3 439.8 L1565.3 459.8 L1566.0 485.8 L1567.0 512.8 L1568.0 545.8 L1568.4 566.8 L1568.9 597.8 L1569.6 625.8 L1570.3 652.8 L1570.8 677.8 L1571.2 707.8 L1571.3 774.6 L1575.7 774.6 L1575.8 715.9 L1576.2 685.9 L1576.7 660.9 L1577.3 633.9 L1578.0 605.9 L1578.4 574.9 L1578.8 553.9 L1579.7 520.9 L1580.6 493.9 L1581.4 467.9 L1582.3 447.9 L1583.0 430.9 L1583.7 421.4 L1584.5 414.9 L1585.5 409.9 L1586.5 406.9 L1587.6 405.9 L1588.7 406.9 L1589.8 409.9 L1590.8 414.9 L1591.6 421.4 L1592.3 430.9 L1593.1 447.9 L1594.0 467.9 L1594.8 493.9 L1595.7 520.9 L1596.6 553.9 L1597.0 574.9 L1597.5 605.9 L1598.2 633.9 L1598.8 660.9 L1599.3 685.9 L1599.7 715.9 L1599.8 813.0 L1604.2 813.0 L1604.3 732.8 L1604.6 702.8 L1605.1 677.8 L1605.7 650.8 L1606.4 622.8 L1606.9 591.8 L1607.3 570.8 L1608.2 537.8 L1609.1 510.8 L1609.9 484.8 L1610.8 464.8 L1611.6 447.8 L1612.3 438.3 L1613.0 431.8 L1614.0 426.8 L1615.1 423.8 L1616.2 422.8 L1617.3 423.8 L1618.5 426.8 L1619.5 431.8 L1620.4 438.3 L1621.1 447.8 L1621.9 464.8 L1622.9 484.8 L1623.6 510.8 L1624.6 537.8 L1625.6 570.8 L1626.0 591.8 L1626.5 622.8 L1627.2 650.8 L1627.9 677.8 L1628.4 702.8 L1628.8 732.8 L1628.9 828.0 L1633.3 828.0 L1633.4 768.1 L1633.7 738.1 L1634.2 713.1 L1634.8 686.1 L1635.5 658.1 L1635.9 627.1 L1636.3 606.1 L1637.2 573.1 L1638.0 546.1 L1638.8 520.1 L1639.6 500.1 L1640.4 483.1 L1641.0 473.6 L1641.8 467.1 L1642.7 462.1 L1643.8 459.1 L1644.8 458.1 L1646.0 459.1 L1647.2 462.1 L1648.3 467.1 L1649.2 473.6 L1650.0 483.1 L1650.8 500.1 L1651.8 520.1 L1652.6 546.1 L1653.7 573.1 L1654.7 606.1 L1655.2 627.1 L1655.7 658.1 L1656.4 686.1 L1657.1 713.1 L1657.7 738.1 L1658.1 768.1 L1658.2 828.0 L1662.6 828.0 L1662.7 797.8 L1663.0 767.8 L1663.4 742.8 L1664.0 715.8 L1664.7 687.8 L1665.1 656.8 L1665.5 635.8 L1666.3 602.8 L1667.1 575.8 L1667.8 549.8 L1668.6 529.8 L1669.4 512.8 L1670.0 503.3 L1670.7 496.8 L1671.6 491.8 L1672.6 488.8 L1673.6 487.8 L1674.8 488.8 L1676.0 491.8 L1677.1 496.8 L1678.0 503.3 L1678.8 512.8 L1679.7 529.8 L1680.7 549.8 L1681.5 575.8 L1682.5 602.8 L1683.5 635.8 L1684.0 656.8 L1684.5 687.8 L1685.3 715.8 L1686.0 742.8 L1686.6 767.8 L1687.0 797.8 L1687.1 828.0" stroke="#5aaee6" stroke-opacity="0.2" stroke-width="13"/><path d="M294.0 576.5 L294.3 584.0 L295.0 593.5 L295.8 605.7 L296.7 617.7 L297.4 633.3 L298.3 649.5 L299.2 669.3 L299.7 681.9 L300.1 700.5 L300.8 717.3 L301.5 733.5 L302.0 748.5 L302.3 766.5 L302.4 828.0 L306.8 828.0 L306.9 729.5 L307.3 711.5 L307.8 696.5 L308.5 680.3 L309.2 663.5 L309.6 644.9 L310.1 632.3 L311.0 612.5 L312.0 596.3 L312.7 580.7 L313.6 568.7 L314.4 556.5 L315.1 547.0 L316.0 540.5 L317.0 535.5 L318.1 532.5 L319.2 531.5 L320.3 532.5 L321.4 535.5 L322.4 540.5 L323.3 547.0 L324.0 556.5 L324.8 568.7 L325.7 580.7 L326.4 596.3 L327.4 612.5 L328.3 632.3 L328.8 644.9 L329.2 663.5 L329.9 680.3 L330.6 696.5 L331.1 711.5 L331.5 729.5 L331.6 828.0 L335.8 828.0 L335.9 758.5 L336.2 740.5 L336.7 725.5 L337.3 709.3 L337.9 692.5 L338.3 673.9 L338.8 661.3 L339.6 641.5 L340.4 625.3 L341.1 609.7 L342.0 597.7 L342.7 585.5 L343.3 576.0 L344.1 569.5 L345.0 564.5 L346.0 561.5 L347.0 560.5 L348.1 561.5 L349.3 564.5 L350.3 569.5 L351.1 576.0 L351.8 585.5 L352.7 597.7 L353.6 609.7 L354.3 625.3 L355.3 641.5 L356.2 661.3 L356.7 673.9 L357.2 692.5 L357.9 709.3 L358.6 725.5 L359.1 740.5 L359.4 758.5 L359.5 828.0 L364.3 828.0 L364.4 714.5 L364.8 696.5 L365.3 681.5 L366.0 665.3 L366.8 648.5 L367.3 629.9 L367.8 617.3 L368.8 597.5 L369.9 581.3 L370.7 565.7 L371.8 553.7 L372.6 541.5 L373.4 532.0 L374.3 525.5 L375.4 520.5 L376.7 517.5 L377.9 516.5 L378.9 517.5 L379.9 520.5 L380.8 525.5 L381.5 532.0 L382.1 541.5 L382.9 553.7 L383.7 565.7 L384.4 581.3 L385.2 597.5 L386.0 617.3 L386.4 629.9 L386.8 648.5 L387.5 665.3 L388.1 681.5 L388.5 696.5 L388.8 714.5 L388.9 828.0 L393.2 828.0 L393.3 662.3 L393.7 644.3 L394.2 629.3 L394.9 613.1 L395.7 596.3 L396.2 577.7 L396.6 565.1 L397.6 545.3 L398.6 529.1 L399.4 513.5 L400.4 501.5 L401.2 489.3 L401.9 479.8 L402.8 473.3 L403.9 468.3 L405.0 465.3 L406.2 464.3 L407.2 465.3 L408.2 468.3 L409.1 473.3 L409.9 479.8 L410.5 489.3 L411.2 501.5 L412.1 513.5 L412.8 529.1 L413.6 545.3 L414.4 565.1 L414.9 577.7 L415.3 596.3 L415.9 613.1 L416.5 629.3 L417.0 644.3 L417.3 662.3 L417.4 828.0 L421.7 828.0 L421.8 624.2 L422.1 606.2 L422.6 591.2 L423.3 575.0 L424.0 558.2 L424.5 539.6 L424.9 527.0 L425.9 507.2 L426.9 491.0 L427.6 475.4 L428.5 463.4 L429.4 451.2 L430.1 441.7 L430.9 435.2 L431.9 430.2 L433.1 427.2 L434.2 426.2 L435.3 427.2 L436.3 430.2 L437.3 435.2 L438.1 441.7 L438.7 451.2 L439.5 463.4 L440.4 475.4 L441.1 491.0 L442.0 507.2 L442.9 527.0 L443.3 539.6 L443.8 558.2 L444.4 575.0 L445.1 591.2 L445.5 606.2 L445.9 624.2 L446.0 803.0 L450.4 803.0 L450.5 655.0 L450.9 632.5 L451.4 613.8 L452.1 593.5 L452.9 572.5 L453.3 549.2 L453.8 533.5 L454.8 508.8 L455.8 488.5 L456.5 469.0 L457.5 454.0 L458.3 440.0 L459.1 430.5 L459.9 424.0 L461.0 419.0 L462.1 416.0 L463.3 415.0 L464.4 416.0 L465.4 419.0 L466.4 424.0 L467.2 430.5 L467.8 440.0 L468.6 454.0 L469.5 469.0 L470.2 488.5 L471.1 508.8 L472.0 533.5 L472.4 549.2 L472.9 572.5 L473.5 593.5 L474.2 613.8 L474.6 632.5 L475.0 655.0 L475.1 780.6 L479.3 780.6 L479.4 691.4 L479.7 665.0 L480.2 643.0 L480.8 619.2 L481.5 594.6 L481.9 567.3 L482.4 548.8 L483.2 519.8 L484.1 496.0 L484.9 473.2 L485.7 455.6 L486.5 440.0 L487.2 430.5 L487.9 424.0 L488.9 419.0 L489.9 416.0 L491.0 415.0 L492.1 416.0 L493.3 419.0 L494.3 424.0 L495.1 430.5 L495.9 440.0 L496.7 455.6 L497.6 473.2 L498.4 496.0 L499.4 519.8 L500.3 548.8 L500.8 567.3 L501.2 594.6 L502.0 619.2 L502.6 643.0 L503.2 665.0 L503.5 691.4 L503.6 808.0 L507.9 808.0 L508.0 727.2 L508.4 697.2 L508.8 672.2 L509.4 645.2 L510.1 617.2 L510.5 586.2 L510.9 565.2 L511.8 532.2 L512.6 505.2 L513.3 479.2 L514.2 459.2 L514.9 442.2 L515.6 432.7 L516.3 426.2 L517.3 421.2 L518.3 418.2 L519.3 417.2 L520.4 418.2 L521.5 421.2 L522.5 426.2 L523.4 432.7 L524.1 442.2 L524.9 459.2 L525.8 479.2 L526.5 505.2 L527.5 532.2 L528.4 565.2 L528.9 586.2 L529.3 617.2 L530.0 645.2 L530.7 672.2 L531.2 697.2 L531.6 727.2 L531.7 762.7 L536.1 762.7 L536.2 677.2 L536.6 647.2 L537.1 622.2 L537.8 595.2 L538.5 567.2 L539.0 536.2 L539.4 515.2 L540.3 482.2 L541.3 455.2 L542.1 429.2 L543.0 409.2 L543.8 392.2 L544.5 382.7 L545.3 376.2 L546.4 371.2 L547.5 368.2 L548.6 367.2 L549.7 368.2 L550.8 371.2 L551.8 376.2 L552.5 382.7 L553.2 392.2 L554.0 409.2 L554.9 429.2 L555.7 455.2 L556.6 482.2 L557.5 515.2 L557.9 536.2 L558.4 567.2 L559.1 595.2 L559.7 622.2 L560.2 647.2 L560.5 677.2 L560.6 716.8 L565.0 716.8 L565.1 646.5 L565.5 616.5 L566.0 591.5 L566.7 564.5 L567.4 536.5 L567.9 505.5 L568.3 484.5 L569.2 451.5 L570.2 424.5 L571.0 398.5 L571.9 378.5 L572.7 361.5 L573.4 352.0 L574.2 345.5 L575.3 340.5 L576.4 337.5 L577.5 336.5 L578.7 337.5 L579.9 340.5 L580.9 345.5 L581.8 352.0 L582.6 361.5 L583.4 378.5 L584.4 398.5 L585.2 424.5 L586.2 451.5 L587.2 484.5 L587.7 505.5 L588.2 536.5 L588.9 564.5 L589.6 591.5 L590.1 616.5 L590.5 646.5 L590.6 700.0 L595.2 700.0 L595.3 636.9 L595.6 606.9 L596.1 581.9 L596.8 554.9 L597.5 526.9 L597.9 495.9 L598.4 474.9 L599.3 441.9 L600.2 414.9 L600.9 388.9 L601.8 368.9 L602.6 351.9 L603.3 342.4 L604.1 335.9 L605.1 330.9 L606.2 327.9 L607.3 326.9 L608.4 327.9 L609.5 330.9 L610.5 335.9 L611.3 342.4 L612.0 351.9 L612.8 368.9 L613.7 388.9 L614.5 414.9 L615.4 441.9 L616.3 474.9 L616.8 495.9 L617.2 526.9 L617.9 554.9 L618.6 581.9 L619.1 606.9 L619.4 636.9 L619.5 688.8 L623.8 688.8 L623.9 629.0 L624.2 599.0 L624.7 574.0 L625.3 547.0 L626.0 519.0 L626.4 488.0 L626.8 467.0 L627.6 434.0 L628.5 407.0 L629.3 381.0 L630.1 361.0 L630.9 344.0 L631.5 334.5 L632.3 328.0 L633.2 323.0 L634.3 320.0 L635.3 319.0 L636.4 320.0 L637.5 323.0 L638.5 328.0 L639.3 334.5 L640.0 344.0 L640.8 361.0 L641.7 381.0 L642.5 407.0 L643.4 434.0 L644.3 467.0 L644.8 488.0 L645.2 519.0 L645.9 547.0 L646.6 574.0 L647.1 599.0 L647.4 629.0 L647.5 693.2 L651.9 693.2 L652.0 638.0 L652.3 608.0 L652.8 583.0 L653.4 556.0 L654.1 528.0 L654.5 497.0 L655.0 476.0 L655.9 443.0 L656.8 416.0 L657.5 390.0 L658.4 370.0 L659.2 353.0 L659.9 343.5 L660.7 337.0 L661.6 332.0 L662.7 329.0 L663.8 328.0 L664.9 329.0 L665.9 332.0 L666.9 337.0 L667.7 343.5 L668.4 353.0 L669.1 370.0 L670.0 390.0 L670.8 416.0 L671.7 443.0 L672.5 476.0 L673.0 497.0 L673.4 528.0 L674.1 556.0 L674.7 583.0 L675.2 608.0 L675.6 638.0 L675.7 685.2 L680.2 685.2 L680.3 612.2 L680.7 582.2 L681.3 557.2 L682.0 530.2 L682.7 502.2 L683.2 471.2 L683.7 450.2 L684.7 417.2 L685.8 390.2 L686.6 364.2 L687.6 344.2 L688.4 327.2 L689.2 317.7 L690.1 311.2 L691.2 306.2 L692.4 303.2 L693.6 302.2 L694.6 303.2 L695.7 306.2 L696.6 311.2 L697.4 317.7 L698.0 327.2 L698.8 344.2 L699.6 364.2 L700.3 390.2 L701.2 417.2 L702.0 450.2 L702.5 471.2 L702.9 502.2 L703.5 530.2 L704.1 557.2 L704.6 582.2 L704.9 612.2 L705.0 660.3 L709.3 660.3 L709.4 593.2 L709.8 563.2 L710.3 538.2 L710.9 511.2 L711.6 483.2 L712.1 452.2 L712.5 431.2 L713.4 398.2 L714.4 371.2 L715.2 345.2 L716.1 325.2 L716.9 308.2 L717.6 298.7 L718.4 292.2 L719.4 287.2 L720.5 284.2 L721.6 283.2 L722.7 284.2 L723.8 287.2 L724.8 292.2 L725.7 298.7 L726.4 308.2 L727.2 325.2 L728.1 345.2 L728.8 371.2 L729.8 398.2 L730.7 431.2 L731.2 452.2 L731.6 483.2 L732.3 511.2 L733.0 538.2 L733.5 563.2 L733.9 593.2 L734.0 650.2 L738.3 650.2 L738.4 587.5 L738.7 557.5 L739.2 532.5 L739.8 505.5 L740.5 477.5 L740.9 446.5 L741.4 425.5 L742.2 392.5 L743.1 365.5 L743.9 339.5 L744.7 319.5 L745.5 302.5 L746.2 293.0 L746.9 286.5 L747.9 281.5 L748.9 278.5 L750.0 277.5 L751.1 278.5 L752.2 281.5 L753.2 286.5 L753.9 293.0 L754.6 302.5 L755.4 319.5 L756.3 339.5 L757.1 365.5 L758.0 392.5 L758.9 425.5 L759.3 446.5 L759.8 477.5 L760.5 505.5 L761.1 532.5 L761.6 557.5 L761.9 587.5 L762.0 640.1 L766.4 640.1 L766.5 574.1 L766.9 544.1 L767.4 519.1 L768.0 492.1 L768.7 464.1 L769.2 433.1 L769.6 412.1 L770.5 379.1 L771.5 352.1 L772.3 326.1 L773.2 306.1 L774.0 289.1 L774.7 279.6 L775.5 273.1 L776.5 268.1 L777.6 265.1 L778.7 264.1 L779.8 265.1 L780.9 268.1 L781.9 273.1 L782.8 279.6 L783.5 289.1 L784.3 306.1 L785.2 326.1 L785.9 352.1 L786.9 379.1 L787.8 412.1 L788.3 433.1 L788.7 464.1 L789.4 492.1 L790.1 519.1 L790.6 544.1 L791.0 574.1 L791.1 632.3 L795.5 632.3 L795.6 580.8 L796.0 550.8 L796.5 525.8 L797.2 498.8 L797.9 470.8 L798.3 439.8 L798.8 418.8 L799.7 385.8 L800.7 358.8 L801.4 332.8 L802.3 312.8 L803.1 295.8 L803.8 286.3 L804.7 279.8 L805.7 274.8 L806.8 271.8 L807.9 270.8 L809.0 271.8 L810.2 274.8 L811.2 279.8 L812.1 286.3 L812.8 295.8 L813.6 312.8 L814.6 332.8 L815.3 358.8 L816.3 385.8 L817.3 418.8 L817.7 439.8 L818.2 470.8 L818.9 498.8 L819.6 525.8 L820.1 550.8 L820.5 580.8 L820.6 633.4 L825.1 633.4 L825.2 569.5 L825.6 539.5 L826.1 514.5 L826.8 487.5 L827.5 459.5 L827.9 428.5 L828.4 407.5 L829.3 374.5 L830.3 347.5 L831.0 321.5 L831.9 301.5 L832.7 284.5 L833.4 275.0 L834.3 268.5 L835.3 263.5 L836.4 260.5 L837.5 259.5 L838.6 260.5 L839.7 263.5 L840.6 268.5 L841.4 275.0 L842.1 284.5 L842.9 301.5 L843.8 321.5 L844.5 347.5 L845.4 374.5 L846.3 407.5 L846.8 428.5 L847.2 459.5 L847.9 487.5 L848.5 514.5 L849.0 539.5 L849.3 569.5 L849.4 620.0 L853.8 620.0 L853.9 555.1 L854.2 525.1 L854.7 500.1 L855.3 473.1 L856.0 445.1 L856.4 414.1 L856.9 393.1 L857.8 360.1 L858.7 333.1 L859.4 307.1 L860.3 287.1 L861.1 270.1 L861.8 260.6 L862.6 254.1 L863.5 249.1 L864.6 246.1 L865.7 245.1 L866.8 246.1 L867.8 249.1 L868.8 254.1 L869.6 260.6 L870.2 270.1 L871.0 287.1 L871.9 307.1 L872.6 333.1 L873.5 360.1 L874.4 393.1 L874.8 414.1 L875.3 445.1 L875.9 473.1 L876.6 500.1 L877.0 525.1 L877.4 555.1 L877.5 602.7 L881.7 602.7 L881.8 534.5 L882.2 504.5 L882.6 479.5 L883.3 452.5 L883.9 424.5 L884.4 393.5 L884.8 372.5 L885.7 339.5 L886.6 312.5 L887.3 286.5 L888.2 266.5 L889.0 249.5 L889.6 240.0 L890.4 233.5 L891.4 228.5 L892.4 225.5 L893.5 224.5 L894.6 225.5 L895.8 228.5 L896.8 233.5 L897.6 240.0 L898.3 249.5 L899.2 266.5 L900.1 286.5 L900.8 312.5 L901.8 339.5 L902.8 372.5 L903.2 393.5 L903.7 424.5 L904.4 452.5 L905.1 479.5 L905.6 504.5 L905.9 534.5 L906.0 597.6 L910.5 597.6 L910.6 544.5 L911.0 514.5 L911.5 489.5 L912.1 462.5 L912.8 434.5 L913.3 403.5 L913.7 382.5 L914.6 349.5 L915.6 322.5 L916.4 296.5 L917.3 276.5 L918.1 259.5 L918.8 250.0 L919.6 243.5 L920.6 238.5 L921.7 235.5 L922.8 234.5 L923.9 235.5 L925.0 238.5 L926.0 243.5 L926.9 250.0 L927.6 259.5 L928.4 276.5 L929.3 296.5 L930.0 322.5 L931.0 349.5 L931.9 382.5 L932.4 403.5 L932.8 434.5 L933.5 462.5 L934.2 489.5 L934.7 514.5 L935.1 544.5 L935.2 606.5 L939.6 606.5 L939.7 550.8 L940.0 520.8 L940.5 495.8 L941.1 468.8 L941.8 440.8 L942.2 409.8 L942.7 388.8 L943.6 355.8 L944.5 328.8 L945.2 302.8 L946.1 282.8 L946.9 265.8 L947.6 256.3 L948.4 249.8 L949.3 244.8 L950.4 241.8 L951.5 240.8 L952.6 241.8 L953.7 244.8 L954.7 249.8 L955.5 256.3 L956.2 265.8 L957.0 282.8 L957.9 302.8 L958.6 328.8 L959.6 355.8 L960.5 388.8 L960.9 409.8 L961.4 440.8 L962.1 468.8 L962.8 495.8 L963.2 520.8 L963.6 550.8 L963.7 603.2 L968.2 603.2 L968.3 540.7 L968.7 510.7 L969.2 485.7 L969.9 458.7 L970.6 430.7 L971.1 399.7 L971.6 378.7 L972.5 345.7 L973.6 318.7 L974.3 292.7 L975.3 272.7 L976.1 255.7 L976.9 246.2 L977.7 239.7 L978.8 234.7 L979.9 231.7 L981.1 230.7 L982.2 231.7 L983.2 234.7 L984.2 239.7 L985.0 246.2 L985.6 255.7 L986.4 272.7 L987.3 292.7 L988.0 318.7 L988.9 345.7 L989.8 378.7 L990.2 399.7 L990.7 430.7 L991.3 458.7 L992.0 485.7 L992.4 510.7 L992.8 540.7 L992.9 591.5 L997.3 591.5 L997.4 533.5 L997.7 503.5 L998.2 478.5 L998.9 451.5 L999.6 423.5 L1000.1 392.5 L1000.5 371.5 L1001.5 338.5 L1002.5 311.5 L1003.2 285.5 L1004.1 265.5 L1005.0 248.5 L1005.7 239.0 L1006.5 232.5 L1007.5 227.5 L1008.7 224.5 L1009.8 223.5 L1010.9 224.5 L1012.0 227.5 L1013.0 232.5 L1013.8 239.0 L1014.5 248.5 L1015.3 265.5 L1016.2 285.5 L1016.9 311.5 L1017.8 338.5 L1018.7 371.5 L1019.2 392.5 L1019.6 423.5 L1020.3 451.5 L1021.0 478.5 L1021.5 503.5 L1021.8 533.5 L1021.9 591.5 L1026.3 591.5 L1026.4 534.0 L1026.8 504.0 L1027.2 479.0 L1027.9 452.0 L1028.6 424.0 L1029.0 393.0 L1029.5 372.0 L1030.4 339.0 L1031.3 312.0 L1032.1 286.0 L1033.0 266.0 L1033.8 249.0 L1034.5 239.5 L1035.3 233.0 L1036.3 228.0 L1037.4 225.0 L1038.5 224.0 L1039.6 225.0 L1040.6 228.0 L1041.6 233.0 L1042.4 239.5 L1043.0 249.0 L1043.8 266.0 L1044.7 286.0 L1045.4 312.0 L1046.3 339.0 L1047.2 372.0 L1047.6 393.0 L1048.1 424.0 L1048.7 452.0 L1049.4 479.0 L1049.8 504.0 L1050.2 534.0 L1050.3 589.5 L1054.6 589.5 L1054.7 531.5 L1055.1 501.5 L1055.6 476.5 L1056.3 449.5 L1057.0 421.5 L1057.4 390.5 L1057.9 369.5 L1058.8 336.5 L1059.8 309.5 L1060.5 283.5 L1061.4 263.5 L1062.2 246.5 L1062.9 237.0 L1063.8 230.5 L1064.8 225.5 L1065.9 222.5 L1067.0 221.5 L1068.1 222.5 L1069.2 225.5 L1070.2 230.5 L1071.0 237.0 L1071.7 246.5 L1072.5 263.5 L1073.4 283.5 L1074.2 309.5 L1075.2 336.5 L1076.1 369.5 L1076.5 390.5 L1077.0 421.5 L1077.7 449.5 L1078.3 476.5 L1078.8 501.5 L1079.2 531.5 L1079.3 589.7 L1083.7 589.7 L1083.8 537.3 L1084.2 507.3 L1084.7 482.3 L1085.3 455.3 L1086.0 427.3 L1086.5 396.3 L1086.9 375.3 L1087.8 342.3 L1088.8 315.3 L1089.6 289.3 L1090.5 269.3 L1091.3 252.3 L1092.0 242.8 L1092.8 236.3 L1093.8 231.3 L1094.9 228.3 L1096.0 227.3 L1097.1 228.3 L1098.2 231.3 L1099.1 236.3 L1099.9 242.8 L1100.6 252.3 L1101.4 269.3 L1102.3 289.3 L1103.0 315.3 L1103.9 342.3 L1104.8 375.3 L1105.3 396.3 L1105.7 427.3 L1106.4 455.3 L1107.0 482.3 L1107.5 507.3 L1107.8 537.3 L1107.9 596.0 L1112.4 596.0 L1112.5 543.6 L1112.9 513.6 L1113.4 488.6 L1114.1 461.6 L1114.8 433.6 L1115.3 402.6 L1115.8 381.6 L1116.7 348.6 L1117.7 321.6 L1118.5 295.6 L1119.4 275.6 L1120.3 258.6 L1121.0 249.1 L1121.8 242.6 L1122.9 237.6 L1124.0 234.6 L1125.2 233.6 L1126.2 234.6 L1127.2 237.6 L1128.2 242.6 L1128.9 249.1 L1129.6 258.6 L1130.3 275.6 L1131.2 295.6 L1131.9 321.6 L1132.7 348.6 L1133.6 381.6 L1134.0 402.6 L1134.4 433.6 L1135.1 461.6 L1135.7 488.6 L1136.1 513.6 L1136.5 543.6 L1136.6 601.0 L1140.9 601.0 L1141.0 537.3 L1141.4 507.3 L1141.9 482.3 L1142.6 455.3 L1143.3 427.3 L1143.8 396.3 L1144.3 375.3 L1145.2 342.3 L1146.2 315.3 L1147.0 289.3 L1147.9 269.3 L1148.8 252.3 L1149.5 242.8 L1150.3 236.3 L1151.4 231.3 L1152.5 228.3 L1153.7 227.3 L1154.8 228.3 L1155.9 231.3 L1157.0 236.3 L1157.8 242.8 L1158.5 252.3 L1159.3 269.3 L1160.2 289.3 L1161.0 315.3 L1162.0 342.3 L1162.9 375.3 L1163.3 396.3 L1163.8 427.3 L1164.5 455.3 L1165.2 482.3 L1165.7 507.3 L1166.1 537.3 L1166.2 596.4 L1170.6 596.4 L1170.7 538.5 L1171.0 508.5 L1171.5 483.5 L1172.2 456.5 L1172.9 428.5 L1173.4 397.5 L1173.8 376.5 L1174.7 343.5 L1175.7 316.5 L1176.4 290.5 L1177.3 270.5 L1178.1 253.5 L1178.8 244.0 L1179.6 237.5 L1180.6 232.5 L1181.7 229.5 L1182.8 228.5 L1183.9 229.5 L1185.0 232.5 L1186.0 237.5 L1186.8 244.0 L1187.5 253.5 L1188.3 270.5 L1189.2 290.5 L1190.0 316.5 L1191.0 343.5 L1191.9 376.5 L1192.3 397.5 L1192.8 428.5 L1193.5 456.5 L1194.1 483.5 L1194.6 508.5 L1195.0 538.5 L1195.1 602.0 L1199.5 602.0 L1199.6 548.5 L1200.0 518.5 L1200.5 493.5 L1201.2 466.5 L1201.9 438.5 L1202.4 407.5 L1202.8 386.5 L1203.7 353.5 L1204.7 326.5 L1205.5 300.5 L1206.4 280.5 L1207.2 263.5 L1207.9 254.0 L1208.7 247.5 L1209.8 242.5 L1210.9 239.5 L1212.0 238.5 L1213.1 239.5 L1214.1 242.5 L1215.1 247.5 L1215.9 254.0 L1216.6 263.5 L1217.3 280.5 L1218.2 300.5 L1219.0 326.5 L1219.9 353.5 L1220.8 386.5 L1221.2 407.5 L1221.6 438.5 L1222.3 466.5 L1222.9 493.5 L1223.4 518.5 L1223.8 548.5 L1223.9 611.0 L1228.2 611.0 L1228.3 551.9 L1228.6 521.9 L1229.1 496.9 L1229.7 469.9 L1230.4 441.9 L1230.9 410.9 L1231.3 389.9 L1232.2 356.9 L1233.1 329.9 L1233.9 303.9 L1234.8 283.9 L1235.6 266.9 L1236.3 257.4 L1237.0 250.9 L1238.0 245.9 L1239.1 242.9 L1240.2 241.9 L1241.3 242.9 L1242.5 245.9 L1243.5 250.9 L1244.3 257.4 L1245.1 266.9 L1245.9 283.9 L1246.8 303.9 L1247.6 329.9 L1248.6 356.9 L1249.5 389.9 L1250.0 410.9 L1250.4 441.9 L1251.2 469.9 L1251.8 496.9 L1252.4 521.9 L1252.7 551.9 L1252.8 617.7 L1257.3 617.7 L1257.4 567.5 L1257.7 537.5 L1258.2 512.5 L1258.8 485.5 L1259.5 457.5 L1260.0 426.5 L1260.4 405.5 L1261.3 372.5 L1262.2 345.5 L1263.0 319.5 L1263.9 299.5 L1264.7 282.5 L1265.4 273.0 L1266.1 266.5 L1267.1 261.5 L1268.2 258.5 L1269.3 257.5 L1270.4 258.5 L1271.4 261.5 L1272.4 266.5 L1273.1 273.0 L1273.8 282.5 L1274.6 299.5 L1275.4 319.5 L1276.2 345.5 L1277.1 372.5 L1277.9 405.5 L1278.4 426.5 L1278.8 457.5 L1279.5 485.5 L1280.1 512.5 L1280.6 537.5 L1280.9 567.5 L1281.0 623.3 L1285.3 623.3 L1285.4 556.2 L1285.8 526.2 L1286.3 501.2 L1287.0 474.2 L1287.7 446.2 L1288.1 415.2 L1288.6 394.2 L1289.5 361.2 L1290.5 334.2 L1291.2 308.2 L1292.1 288.2 L1292.9 271.2 L1293.6 261.7 L1294.5 255.2 L1295.5 250.2 L1296.6 247.2 L1297.7 246.2 L1298.8 247.2 L1299.9 250.2 L1300.9 255.2 L1301.8 261.7 L1302.5 271.2 L1303.3 288.2 L1304.2 308.2 L1304.9 334.2 L1305.9 361.2 L1306.8 394.2 L1307.3 415.2 L1307.7 446.2 L1308.4 474.2 L1309.1 501.2 L1309.6 526.2 L1310.0 556.2 L1310.1 627.8 L1314.5 627.8 L1314.6 575.5 L1314.9 545.5 L1315.4 520.5 L1316.1 493.5 L1316.8 465.5 L1317.2 434.5 L1317.7 413.5 L1318.6 380.5 L1319.5 353.5 L1320.2 327.5 L1321.1 307.5 L1321.9 290.5 L1322.6 281.0 L1323.4 274.5 L1324.4 269.5 L1325.5 266.5 L1326.6 265.5 L1327.7 266.5 L1328.8 269.5 L1329.7 274.5 L1330.5 281.0 L1331.2 290.5 L1332.0 307.5 L1332.9 327.5 L1333.6 353.5 L1334.5 380.5 L1335.4 413.5 L1335.9 434.5 L1336.3 465.5 L1337.0 493.5 L1337.6 520.5 L1338.1 545.5 L1338.4 575.5 L1338.5 635.6 L1342.9 635.6 L1343.0 577.9 L1343.4 547.9 L1343.9 522.9 L1344.6 495.9 L1345.3 467.9 L1345.7 436.9 L1346.2 415.9 L1347.1 382.9 L1348.1 355.9 L1348.8 329.9 L1349.7 309.9 L1350.5 292.9 L1351.2 283.4 L1352.1 276.9 L1353.1 271.9 L1354.2 268.9 L1355.3 267.9 L1356.5 268.9 L1357.6 271.9 L1358.7 276.9 L1359.5 283.4 L1360.3 292.9 L1361.1 309.9 L1362.1 329.9 L1362.8 355.9 L1363.8 382.9 L1364.8 415.9 L1365.3 436.9 L1365.8 467.9 L1366.5 495.9 L1367.2 522.9 L1367.7 547.9 L1368.1 577.9 L1368.2 647.5 L1372.7 647.5 L1372.8 591.3 L1373.1 561.3 L1373.6 536.3 L1374.2 509.3 L1374.9 481.3 L1375.4 450.3 L1375.8 429.3 L1376.7 396.3 L1377.6 369.3 L1378.4 343.3 L1379.3 323.3 L1380.1 306.3 L1380.8 296.8 L1381.5 290.3 L1382.5 285.3 L1383.6 282.3 L1384.7 281.3 L1385.8 282.3 L1387.0 285.3 L1388.0 290.3 L1388.8 296.8 L1389.6 306.3 L1390.4 323.3 L1391.3 343.3 L1392.1 369.3 L1393.1 396.3 L1394.0 429.3 L1394.5 450.3 L1394.9 481.3 L1395.7 509.3 L1396.3 536.3 L1396.9 561.3 L1397.2 591.3 L1397.3 664.0 L1401.8 664.0 L1401.9 611.3 L1402.3 581.3 L1402.8 556.3 L1403.4 529.3 L1404.1 501.3 L1404.6 470.3 L1405.0 449.3 L1405.9 416.3 L1406.9 389.3 L1407.7 363.3 L1408.6 343.3 L1409.4 326.3 L1410.1 316.8 L1410.9 310.3 L1411.9 305.3 L1413.0 302.3 L1414.1 301.3 L1415.2 302.3 L1416.3 305.3 L1417.2 310.3 L1418.0 316.8 L1418.7 326.3 L1419.5 343.3 L1420.4 363.3 L1421.1 389.3 L1422.0 416.3 L1422.9 449.3 L1423.4 470.3 L1423.8 501.3 L1424.5 529.3 L1425.1 556.3 L1425.6 581.3 L1425.9 611.3 L1426.0 676.2 L1430.4 676.2 L1430.5 614.9 L1430.8 584.9 L1431.3 559.9 L1431.9 532.9 L1432.6 504.9 L1433.1 473.9 L1433.5 452.9 L1434.4 419.9 L1435.3 392.9 L1436.1 366.9 L1437.0 346.9 L1437.8 329.9 L1438.5 320.4 L1439.2 313.9 L1440.2 308.9 L1441.3 305.9 L1442.4 304.9 L1443.5 305.9 L1444.7 308.9 L1445.7 313.9 L1446.6 320.4 L1447.3 329.9 L1448.1 346.9 L1449.1 366.9 L1449.8 392.9 L1450.8 419.9 L1451.8 452.9 L1452.2 473.9 L1452.7 504.9 L1453.4 532.9 L1454.1 559.9 L1454.6 584.9 L1455.0 614.9 L1455.1 683.0 L1459.6 683.0 L1459.7 629.0 L1460.0 599.0 L1460.5 574.0 L1461.2 547.0 L1461.9 519.0 L1462.4 488.0 L1462.8 467.0 L1463.7 434.0 L1464.7 407.0 L1465.4 381.0 L1466.3 361.0 L1467.1 344.0 L1467.8 334.5 L1468.6 328.0 L1469.6 323.0 L1470.7 320.0 L1471.8 319.0 L1472.9 320.0 L1474.0 323.0 L1475.1 328.0 L1475.9 334.5 L1476.6 344.0 L1477.4 361.0 L1478.3 381.0 L1479.1 407.0 L1480.1 434.0 L1481.0 467.0 L1481.4 488.0 L1481.9 519.0 L1482.6 547.0 L1483.3 574.0 L1483.8 599.0 L1484.2 629.0 L1484.3 700.4 L1488.6 700.4 L1488.7 661.9 L1489.0 631.9 L1489.5 606.9 L1490.1 579.9 L1490.7 551.9 L1491.1 520.9 L1491.6 499.9 L1492.4 466.9 L1493.3 439.9 L1494.0 413.9 L1494.8 393.9 L1495.6 376.9 L1496.2 367.4 L1497.0 360.9 L1497.9 355.9 L1499.0 352.9 L1500.0 351.9 L1501.2 352.9 L1502.4 355.9 L1503.5 360.9 L1504.3 367.4 L1505.1 376.9 L1506.0 393.9 L1506.9 413.9 L1507.7 439.9 L1508.8 466.9 L1509.8 499.9 L1510.2 520.9 L1510.7 551.9 L1511.5 579.9 L1512.2 606.9 L1512.7 631.9 L1513.1 661.9 L1513.2 731.7 L1517.6 731.7 L1517.7 670.1 L1518.0 640.1 L1518.5 615.1 L1519.1 588.1 L1519.7 560.1 L1520.1 529.1 L1520.5 508.1 L1521.4 475.1 L1522.2 448.1 L1522.9 422.1 L1523.8 402.1 L1524.5 385.1 L1525.1 375.6 L1525.9 369.1 L1526.8 364.1 L1527.8 361.1 L1528.8 360.1 L1530.0 361.1 L1531.2 364.1 L1532.3 369.1 L1533.1 375.6 L1533.9 385.1 L1534.8 402.1 L1535.7 422.1 L1536.5 448.1 L1537.6 475.1 L1538.5 508.1 L1539.0 529.1 L1539.5 560.1 L1540.3 588.1 L1541.0 615.1 L1541.5 640.1 L1541.9 670.1 L1542.0 757.5 L1546.6 757.5 L1546.7 707.8 L1547.0 677.8 L1547.5 652.8 L1548.1 625.8 L1548.8 597.8 L1549.3 566.8 L1549.7 545.8 L1550.6 512.8 L1551.5 485.8 L1552.3 459.8 L1553.2 439.8 L1554.0 422.8 L1554.7 413.3 L1555.4 406.8 L1556.4 401.8 L1557.5 398.8 L1558.6 397.8 L1559.7 398.8 L1560.9 401.8 L1561.9 406.8 L1562.8 413.3 L1563.5 422.8 L1564.3 439.8 L1565.3 459.8 L1566.0 485.8 L1567.0 512.8 L1568.0 545.8 L1568.4 566.8 L1568.9 597.8 L1569.6 625.8 L1570.3 652.8 L1570.8 677.8 L1571.2 707.8 L1571.3 774.6 L1575.7 774.6 L1575.8 715.9 L1576.2 685.9 L1576.7 660.9 L1577.3 633.9 L1578.0 605.9 L1578.4 574.9 L1578.8 553.9 L1579.7 520.9 L1580.6 493.9 L1581.4 467.9 L1582.3 447.9 L1583.0 430.9 L1583.7 421.4 L1584.5 414.9 L1585.5 409.9 L1586.5 406.9 L1587.6 405.9 L1588.7 406.9 L1589.8 409.9 L1590.8 414.9 L1591.6 421.4 L1592.3 430.9 L1593.1 447.9 L1594.0 467.9 L1594.8 493.9 L1595.7 520.9 L1596.6 553.9 L1597.0 574.9 L1597.5 605.9 L1598.2 633.9 L1598.8 660.9 L1599.3 685.9 L1599.7 715.9 L1599.8 813.0 L1604.2 813.0 L1604.3 732.8 L1604.6 702.8 L1605.1 677.8 L1605.7 650.8 L1606.4 622.8 L1606.9 591.8 L1607.3 570.8 L1608.2 537.8 L1609.1 510.8 L1609.9 484.8 L1610.8 464.8 L1611.6 447.8 L1612.3 438.3 L1613.0 431.8 L1614.0 426.8 L1615.1 423.8 L1616.2 422.8 L1617.3 423.8 L1618.5 426.8 L1619.5 431.8 L1620.4 438.3 L1621.1 447.8 L1621.9 464.8 L1622.9 484.8 L1623.6 510.8 L1624.6 537.8 L1625.6 570.8 L1626.0 591.8 L1626.5 622.8 L1627.2 650.8 L1627.9 677.8 L1628.4 702.8 L1628.8 732.8 L1628.9 828.0 L1633.3 828.0 L1633.4 768.1 L1633.7 738.1 L1634.2 713.1 L1634.8 686.1 L1635.5 658.1 L1635.9 627.1 L1636.3 606.1 L1637.2 573.1 L1638.0 546.1 L1638.8 520.1 L1639.6 500.1 L1640.4 483.1 L1641.0 473.6 L1641.8 467.1 L1642.7 462.1 L1643.8 459.1 L1644.8 458.1 L1646.0 459.1 L1647.2 462.1 L1648.3 467.1 L1649.2 473.6 L1650.0 483.1 L1650.8 500.1 L1651.8 520.1 L1652.6 546.1 L1653.7 573.1 L1654.7 606.1 L1655.2 627.1 L1655.7 658.1 L1656.4 686.1 L1657.1 713.1 L1657.7 738.1 L1658.1 768.1 L1658.2 828.0 L1662.6 828.0 L1662.7 797.8 L1663.0 767.8 L1663.4 742.8 L1664.0 715.8 L1664.7 687.8 L1665.1 656.8 L1665.5 635.8 L1666.3 602.8 L1667.1 575.8 L1667.8 549.8 L1668.6 529.8 L1669.4 512.8 L1670.0 503.3 L1670.7 496.8 L1671.6 491.8 L1672.6 488.8 L1673.6 487.8 L1674.8 488.8 L1676.0 491.8 L1677.1 496.8 L1678.0 503.3 L1678.8 512.8 L1679.7 529.8 L1680.7 549.8 L1681.5 575.8 L1682.5 602.8 L1683.5 635.8 L1684.0 656.8 L1684.5 687.8 L1685.3 715.8 L1686.0 742.8 L1686.6 767.8 L1687.0 797.8 L1687.1 828.0" stroke="#4fa8e2" stroke-opacity="0.18" stroke-width="7.5"/><path d="M316.0 540.5 L317.0 535.5 L318.1 532.5 L319.2 531.5 L320.3 532.5 L321.4 535.5 L322.4 540.5Z M344.1 569.5 L345.0 564.5 L346.0 561.5 L347.0 560.5 L348.1 561.5 L349.3 564.5 L350.3 569.5Z M374.3 525.5 L375.4 520.5 L376.7 517.5 L377.9 516.5 L378.9 517.5 L379.9 520.5 L380.8 525.5Z M402.8 473.3 L403.9 468.3 L405.0 465.3 L406.2 464.3 L407.2 465.3 L408.2 468.3 L409.1 473.3Z M430.9 435.2 L431.9 430.2 L433.1 427.2 L434.2 426.2 L435.3 427.2 L436.3 430.2 L437.3 435.2Z M459.9 424.0 L461.0 419.0 L462.1 416.0 L463.3 415.0 L464.4 416.0 L465.4 419.0 L466.4 424.0Z M487.9 424.0 L488.9 419.0 L489.9 416.0 L491.0 415.0 L492.1 416.0 L493.3 419.0 L494.3 424.0Z M516.3 426.2 L517.3 421.2 L518.3 418.2 L519.3 417.2 L520.4 418.2 L521.5 421.2 L522.5 426.2Z M545.3 376.2 L546.4 371.2 L547.5 368.2 L548.6 367.2 L549.7 368.2 L550.8 371.2 L551.8 376.2Z M574.2 345.5 L575.3 340.5 L576.4 337.5 L577.5 336.5 L578.7 337.5 L579.9 340.5 L580.9 345.5Z M604.1 335.9 L605.1 330.9 L606.2 327.9 L607.3 326.9 L608.4 327.9 L609.5 330.9 L610.5 335.9Z M632.3 328.0 L633.2 323.0 L634.3 320.0 L635.3 319.0 L636.4 320.0 L637.5 323.0 L638.5 328.0Z M660.7 337.0 L661.6 332.0 L662.7 329.0 L663.8 328.0 L664.9 329.0 L665.9 332.0 L666.9 337.0Z M690.1 311.2 L691.2 306.2 L692.4 303.2 L693.6 302.2 L694.6 303.2 L695.7 306.2 L696.6 311.2Z M718.4 292.2 L719.4 287.2 L720.5 284.2 L721.6 283.2 L722.7 284.2 L723.8 287.2 L724.8 292.2Z M746.9 286.5 L747.9 281.5 L748.9 278.5 L750.0 277.5 L751.1 278.5 L752.2 281.5 L753.2 286.5Z M775.5 273.1 L776.5 268.1 L777.6 265.1 L778.7 264.1 L779.8 265.1 L780.9 268.1 L781.9 273.1Z M804.7 279.8 L805.7 274.8 L806.8 271.8 L807.9 270.8 L809.0 271.8 L810.2 274.8 L811.2 279.8Z M834.3 268.5 L835.3 263.5 L836.4 260.5 L837.5 259.5 L838.6 260.5 L839.7 263.5 L840.6 268.5Z M862.6 254.1 L863.5 249.1 L864.6 246.1 L865.7 245.1 L866.8 246.1 L867.8 249.1 L868.8 254.1Z M890.4 233.5 L891.4 228.5 L892.4 225.5 L893.5 224.5 L894.6 225.5 L895.8 228.5 L896.8 233.5Z M919.6 243.5 L920.6 238.5 L921.7 235.5 L922.8 234.5 L923.9 235.5 L925.0 238.5 L926.0 243.5Z M948.4 249.8 L949.3 244.8 L950.4 241.8 L951.5 240.8 L952.6 241.8 L953.7 244.8 L954.7 249.8Z M977.7 239.7 L978.8 234.7 L979.9 231.7 L981.1 230.7 L982.2 231.7 L983.2 234.7 L984.2 239.7Z M1006.5 232.5 L1007.5 227.5 L1008.7 224.5 L1009.8 223.5 L1010.9 224.5 L1012.0 227.5 L1013.0 232.5Z M1035.3 233.0 L1036.3 228.0 L1037.4 225.0 L1038.5 224.0 L1039.6 225.0 L1040.6 228.0 L1041.6 233.0Z M1063.8 230.5 L1064.8 225.5 L1065.9 222.5 L1067.0 221.5 L1068.1 222.5 L1069.2 225.5 L1070.2 230.5Z M1092.8 236.3 L1093.8 231.3 L1094.9 228.3 L1096.0 227.3 L1097.1 228.3 L1098.2 231.3 L1099.1 236.3Z M1121.8 242.6 L1122.9 237.6 L1124.0 234.6 L1125.2 233.6 L1126.2 234.6 L1127.2 237.6 L1128.2 242.6Z M1150.3 236.3 L1151.4 231.3 L1152.5 228.3 L1153.7 227.3 L1154.8 228.3 L1155.9 231.3 L1157.0 236.3Z M1179.6 237.5 L1180.6 232.5 L1181.7 229.5 L1182.8 228.5 L1183.9 229.5 L1185.0 232.5 L1186.0 237.5Z M1208.7 247.5 L1209.8 242.5 L1210.9 239.5 L1212.0 238.5 L1213.1 239.5 L1214.1 242.5 L1215.1 247.5Z M1237.0 250.9 L1238.0 245.9 L1239.1 242.9 L1240.2 241.9 L1241.3 242.9 L1242.5 245.9 L1243.5 250.9Z M1266.1 266.5 L1267.1 261.5 L1268.2 258.5 L1269.3 257.5 L1270.4 258.5 L1271.4 261.5 L1272.4 266.5Z M1294.5 255.2 L1295.5 250.2 L1296.6 247.2 L1297.7 246.2 L1298.8 247.2 L1299.9 250.2 L1300.9 255.2Z M1323.4 274.5 L1324.4 269.5 L1325.5 266.5 L1326.6 265.5 L1327.7 266.5 L1328.8 269.5 L1329.7 274.5Z M1352.1 276.9 L1353.1 271.9 L1354.2 268.9 L1355.3 267.9 L1356.5 268.9 L1357.6 271.9 L1358.7 276.9Z M1381.5 290.3 L1382.5 285.3 L1383.6 282.3 L1384.7 281.3 L1385.8 282.3 L1387.0 285.3 L1388.0 290.3Z M1410.9 310.3 L1411.9 305.3 L1413.0 302.3 L1414.1 301.3 L1415.2 302.3 L1416.3 305.3 L1417.2 310.3Z M1439.2 313.9 L1440.2 308.9 L1441.3 305.9 L1442.4 304.9 L1443.5 305.9 L1444.7 308.9 L1445.7 313.9Z M1468.6 328.0 L1469.6 323.0 L1470.7 320.0 L1471.8 319.0 L1472.9 320.0 L1474.0 323.0 L1475.1 328.0Z M1497.0 360.9 L1497.9 355.9 L1499.0 352.9 L1500.0 351.9 L1501.2 352.9 L1502.4 355.9 L1503.5 360.9Z M1525.9 369.1 L1526.8 364.1 L1527.8 361.1 L1528.8 360.1 L1530.0 361.1 L1531.2 364.1 L1532.3 369.1Z M1555.4 406.8 L1556.4 401.8 L1557.5 398.8 L1558.6 397.8 L1559.7 398.8 L1560.9 401.8 L1561.9 406.8Z M1584.5 414.9 L1585.5 409.9 L1586.5 406.9 L1587.6 405.9 L1588.7 406.9 L1589.8 409.9 L1590.8 414.9Z M1613.0 431.8 L1614.0 426.8 L1615.1 423.8 L1616.2 422.8 L1617.3 423.8 L1618.5 426.8 L1619.5 431.8Z M1641.8 467.1 L1642.7 462.1 L1643.8 459.1 L1644.8 458.1 L1646.0 459.1 L1647.2 462.1 L1648.3 467.1Z M1670.7 496.8 L1671.6 491.8 L1672.6 488.8 L1673.6 487.8 L1674.8 488.8 L1676.0 491.8 L1677.1 496.8Z" fill="#3698de" fill-opacity="0.75" stroke="none"/>
<path d="M294.0 591.5 L294.0 828.0 L306.8 828.0 L306.9 729.5 L307.3 711.5 L307.8 696.5 L308.5 680.3 L309.2 663.5 L309.6 644.9 L310.1 632.3 L311.0 612.5 L312.0 596.3 L312.2 591.5Z M326.2 591.5 L326.4 596.3 L327.4 612.5 L328.3 632.3 L328.8 644.9 L329.2 663.5 L329.9 680.3 L330.6 696.5 L331.1 711.5 L331.5 729.5 L331.6 828.0 L335.8 828.0 L335.9 758.5 L336.2 740.5 L336.7 725.5 L337.3 709.3 L337.9 692.5 L338.3 673.9 L338.8 661.3 L339.6 641.5 L340.4 625.3 L340.7 620.5Z M354.1 620.5 L354.3 625.3 L355.3 641.5 L356.2 661.3 L356.7 673.9 L357.2 692.5 L357.9 709.3 L358.6 725.5 L359.1 740.5 L359.4 758.5 L359.5 828.0 L364.3 828.0 L364.4 714.5 L364.8 696.5 L365.3 681.5 L366.0 665.3 L366.8 648.5 L367.3 629.9 L367.8 617.3 L368.8 597.5 L369.9 581.3 L370.2 576.5Z M384.1 576.5 L384.4 581.3 L385.2 597.5 L386.0 617.3 L386.4 629.9 L386.8 648.5 L387.5 665.3 L388.1 681.5 L388.5 696.5 L388.8 714.5 L388.9 828.0 L393.2 828.0 L393.3 662.3 L393.7 644.3 L394.2 629.3 L394.9 613.1 L395.7 596.3 L396.2 577.7 L396.6 565.1 L397.6 545.3 L398.6 529.1 L398.8 524.3Z M412.5 524.3 L412.8 529.1 L413.6 545.3 L414.4 565.1 L414.9 577.7 L415.3 596.3 L415.9 613.1 L416.5 629.3 L417.0 644.3 L417.3 662.3 L417.4 828.0 L421.7 828.0 L421.8 624.2 L422.1 606.2 L422.6 591.2 L423.3 575.0 L424.0 558.2 L424.5 539.6 L424.9 527.0 L425.9 507.2 L426.9 491.0 L427.1 486.2Z M440.9 486.2 L441.1 491.0 L442.0 507.2 L442.9 527.0 L443.3 539.6 L443.8 558.2 L444.4 575.0 L445.1 591.2 L445.5 606.2 L445.9 624.2 L446.0 803.0 L450.4 803.0 L450.5 655.0 L450.9 632.5 L451.4 613.8 L452.1 593.5 L452.9 572.5 L453.3 549.2 L453.8 533.5 L454.8 508.8 L455.8 488.5 L456.3 475.0Z M469.7 475.0 L470.2 488.5 L471.1 508.8 L472.0 533.5 L472.4 549.2 L472.9 572.5 L473.5 593.5 L474.2 613.8 L474.6 632.5 L475.0 655.0 L475.1 780.6 L479.3 780.6 L479.4 691.4 L479.7 665.0 L480.2 643.0 L480.8 619.2 L481.5 594.6 L481.9 567.3 L482.4 548.8 L483.2 519.8 L484.1 496.0 L484.8 475.0Z M497.7 475.0 L498.4 496.0 L499.4 519.8 L500.3 548.8 L500.8 567.3 L501.2 594.6 L502.0 619.2 L502.6 643.0 L503.2 665.0 L503.5 691.4 L503.6 808.0 L507.9 808.0 L508.0 727.2 L508.4 697.2 L508.8 672.2 L509.4 645.2 L510.1 617.2 L510.5 586.2 L510.9 565.2 L511.8 532.2 L512.6 505.2 L513.3 479.2 L513.4 477.2Z M525.7 477.2 L525.8 479.2 L526.5 505.2 L527.5 532.2 L528.4 565.2 L528.9 586.2 L529.3 617.2 L530.0 645.2 L530.7 672.2 L531.2 697.2 L531.6 727.2 L531.7 762.7 L536.1 762.7 L536.2 677.2 L536.6 647.2 L537.1 622.2 L537.8 595.2 L538.5 567.2 L539.0 536.2 L539.4 515.2 L540.3 482.2 L541.3 455.2 L542.1 429.2 L542.2 427.2Z M554.8 427.2 L554.9 429.2 L555.7 455.2 L556.6 482.2 L557.5 515.2 L557.9 536.2 L558.4 567.2 L559.1 595.2 L559.7 622.2 L560.2 647.2 L560.5 677.2 L560.6 716.8 L565.0 716.8 L565.1 646.5 L565.5 616.5 L566.0 591.5 L566.7 564.5 L567.4 536.5 L567.9 505.5 L568.3 484.5 L569.2 451.5 L570.2 424.5 L571.0 398.5 L571.1 396.5Z M584.3 396.5 L584.4 398.5 L585.2 424.5 L586.2 451.5 L587.2 484.5 L587.7 505.5 L588.2 536.5 L588.9 564.5 L589.6 591.5 L590.1 616.5 L590.5 646.5 L590.6 700.0 L595.2 700.0 L595.3 636.9 L595.6 606.9 L596.1 581.9 L596.8 554.9 L597.5 526.9 L597.9 495.9 L598.4 474.9 L599.3 441.9 L600.2 414.9 L600.9 388.9 L601.0 386.9Z M613.6 386.9 L613.7 388.9 L614.5 414.9 L615.4 441.9 L616.3 474.9 L616.8 495.9 L617.2 526.9 L617.9 554.9 L618.6 581.9 L619.1 606.9 L619.4 636.9 L619.5 688.8 L623.8 688.8 L623.9 629.0 L624.2 599.0 L624.7 574.0 L625.3 547.0 L626.0 519.0 L626.4 488.0 L626.8 467.0 L627.6 434.0 L628.5 407.0 L629.3 381.0 L629.3 379.0Z M641.6 379.0 L641.7 381.0 L642.5 407.0 L643.4 434.0 L644.3 467.0 L644.8 488.0 L645.2 519.0 L645.9 547.0 L646.6 574.0 L647.1 599.0 L647.4 629.0 L647.5 693.2 L651.9 693.2 L652.0 638.0 L652.3 608.0 L652.8 583.0 L653.4 556.0 L654.1 528.0 L654.5 497.0 L655.0 476.0 L655.9 443.0 L656.8 416.0 L657.5 390.0 L657.6 388.0Z M669.9 388.0 L670.0 390.0 L670.8 416.0 L671.7 443.0 L672.5 476.0 L673.0 497.0 L673.4 528.0 L674.1 556.0 L674.7 583.0 L675.2 608.0 L675.6 638.0 L675.7 685.2 L680.2 685.2 L680.3 612.2 L680.7 582.2 L681.3 557.2 L682.0 530.2 L682.7 502.2 L683.2 471.2 L683.7 450.2 L684.7 417.2 L685.8 390.2 L686.6 364.2 L686.7 362.2Z M699.5 362.2 L699.6 364.2 L700.3 390.2 L701.2 417.2 L702.0 450.2 L702.5 471.2 L702.9 502.2 L703.5 530.2 L704.1 557.2 L704.6 582.2 L704.9 612.2 L705.0 660.3 L709.3 660.3 L709.4 593.2 L709.8 563.2 L710.3 538.2 L710.9 511.2 L711.6 483.2 L712.1 452.2 L712.5 431.2 L713.4 398.2 L714.4 371.2 L715.2 345.2 L715.2 343.2Z M728.0 343.2 L728.1 345.2 L728.8 371.2 L729.8 398.2 L730.7 431.2 L731.2 452.2 L731.6 483.2 L732.3 511.2 L733.0 538.2 L733.5 563.2 L733.9 593.2 L734.0 650.2 L738.3 650.2 L738.4 587.5 L738.7 557.5 L739.2 532.5 L739.8 505.5 L740.5 477.5 L740.9 446.5 L741.4 425.5 L742.2 392.5 L743.1 365.5 L743.9 339.5 L744.0 337.5Z M756.2 337.5 L756.3 339.5 L757.1 365.5 L758.0 392.5 L758.9 425.5 L759.3 446.5 L759.8 477.5 L760.5 505.5 L761.1 532.5 L761.6 557.5 L761.9 587.5 L762.0 640.1 L766.4 640.1 L766.5 574.1 L766.9 544.1 L767.4 519.1 L768.0 492.1 L768.7 464.1 L769.2 433.1 L769.6 412.1 L770.5 379.1 L771.5 352.1 L772.3 326.1 L772.3 324.1Z M785.1 324.1 L785.2 326.1 L785.9 352.1 L786.9 379.1 L787.8 412.1 L788.3 433.1 L788.7 464.1 L789.4 492.1 L790.1 519.1 L790.6 544.1 L791.0 574.1 L791.1 632.3 L795.5 632.3 L795.6 580.8 L796.0 550.8 L796.5 525.8 L797.2 498.8 L797.9 470.8 L798.3 439.8 L798.8 418.8 L799.7 385.8 L800.7 358.8 L801.4 332.8 L801.5 330.8Z M814.5 330.8 L814.6 332.8 L815.3 358.8 L816.3 385.8 L817.3 418.8 L817.7 439.8 L818.2 470.8 L818.9 498.8 L819.6 525.8 L820.1 550.8 L820.5 580.8 L820.6 633.4 L825.1 633.4 L825.2 569.5 L825.6 539.5 L826.1 514.5 L826.8 487.5 L827.5 459.5 L827.9 428.5 L828.4 407.5 L829.3 374.5 L830.3 347.5 L831.0 321.5 L831.1 319.5Z M843.7 319.5 L843.8 321.5 L844.5 347.5 L845.4 374.5 L846.3 407.5 L846.8 428.5 L847.2 459.5 L847.9 487.5 L848.5 514.5 L849.0 539.5 L849.3 569.5 L849.4 620.0 L853.8 620.0 L853.9 555.1 L854.2 525.1 L854.7 500.1 L855.3 473.1 L856.0 445.1 L856.4 414.1 L856.9 393.1 L857.8 360.1 L858.7 333.1 L859.4 307.1 L859.5 305.1Z M871.8 305.1 L871.9 307.1 L872.6 333.1 L873.5 360.1 L874.4 393.1 L874.8 414.1 L875.3 445.1 L875.9 473.1 L876.6 500.1 L877.0 525.1 L877.4 555.1 L877.5 602.7 L881.7 602.7 L881.8 534.5 L882.2 504.5 L882.6 479.5 L883.3 452.5 L883.9 424.5 L884.4 393.5 L884.8 372.5 L885.7 339.5 L886.6 312.5 L887.3 286.5 L887.4 284.5Z M900.0 284.5 L900.1 286.5 L900.8 312.5 L901.8 339.5 L902.8 372.5 L903.2 393.5 L903.7 424.5 L904.4 452.5 L905.1 479.5 L905.6 504.5 L905.9 534.5 L906.0 597.6 L910.5 597.6 L910.6 544.5 L911.0 514.5 L911.5 489.5 L912.1 462.5 L912.8 434.5 L913.3 403.5 L913.7 382.5 L914.6 349.5 L915.6 322.5 L916.4 296.5 L916.4 294.5Z M929.2 294.5 L929.3 296.5 L930.0 322.5 L931.0 349.5 L931.9 382.5 L932.4 403.5 L932.8 434.5 L933.5 462.5 L934.2 489.5 L934.7 514.5 L935.1 544.5 L935.2 606.5 L939.6 606.5 L939.7 550.8 L940.0 520.8 L940.5 495.8 L941.1 468.8 L941.8 440.8 L942.2 409.8 L942.7 388.8 L943.6 355.8 L944.5 328.8 L945.2 302.8 L945.3 300.8Z M957.8 300.8 L957.9 302.8 L958.6 328.8 L959.6 355.8 L960.5 388.8 L960.9 409.8 L961.4 440.8 L962.1 468.8 L962.8 495.8 L963.2 520.8 L963.6 550.8 L963.7 603.2 L968.2 603.2 L968.3 540.7 L968.7 510.7 L969.2 485.7 L969.9 458.7 L970.6 430.7 L971.1 399.7 L971.6 378.7 L972.5 345.7 L973.6 318.7 L974.3 292.7 L974.4 290.7Z M987.2 290.7 L987.3 292.7 L988.0 318.7 L988.9 345.7 L989.8 378.7 L990.2 399.7 L990.7 430.7 L991.3 458.7 L992.0 485.7 L992.4 510.7 L992.8 540.7 L992.9 591.5 L997.3 591.5 L997.4 533.5 L997.7 503.5 L998.2 478.5 L998.9 451.5 L999.6 423.5 L1000.1 392.5 L1000.5 371.5 L1001.5 338.5 L1002.5 311.5 L1003.2 285.5 L1003.3 283.5Z M1016.1 283.5 L1016.2 285.5 L1016.9 311.5 L1017.8 338.5 L1018.7 371.5 L1019.2 392.5 L1019.6 423.5 L1020.3 451.5 L1021.0 478.5 L1021.5 503.5 L1021.8 533.5 L1021.9 591.5 L1026.3 591.5 L1026.4 534.0 L1026.8 504.0 L1027.2 479.0 L1027.9 452.0 L1028.6 424.0 L1029.0 393.0 L1029.5 372.0 L1030.4 339.0 L1031.3 312.0 L1032.1 286.0 L1032.2 284.0Z M1044.6 284.0 L1044.7 286.0 L1045.4 312.0 L1046.3 339.0 L1047.2 372.0 L1047.6 393.0 L1048.1 424.0 L1048.7 452.0 L1049.4 479.0 L1049.8 504.0 L1050.2 534.0 L1050.3 589.5 L1054.6 589.5 L1054.7 531.5 L1055.1 501.5 L1055.6 476.5 L1056.3 449.5 L1057.0 421.5 L1057.4 390.5 L1057.9 369.5 L1058.8 336.5 L1059.8 309.5 L1060.5 283.5 L1060.6 281.5Z M1073.4 281.5 L1073.4 283.5 L1074.2 309.5 L1075.2 336.5 L1076.1 369.5 L1076.5 390.5 L1077.0 421.5 L1077.7 449.5 L1078.3 476.5 L1078.8 501.5 L1079.2 531.5 L1079.3 589.7 L1083.7 589.7 L1083.8 537.3 L1084.2 507.3 L1084.7 482.3 L1085.3 455.3 L1086.0 427.3 L1086.5 396.3 L1086.9 375.3 L1087.8 342.3 L1088.8 315.3 L1089.6 289.3 L1089.6 287.3Z M1102.2 287.3 L1102.3 289.3 L1103.0 315.3 L1103.9 342.3 L1104.8 375.3 L1105.3 396.3 L1105.7 427.3 L1106.4 455.3 L1107.0 482.3 L1107.5 507.3 L1107.8 537.3 L1107.9 596.0 L1112.4 596.0 L1112.5 543.6 L1112.9 513.6 L1113.4 488.6 L1114.1 461.6 L1114.8 433.6 L1115.3 402.6 L1115.8 381.6 L1116.7 348.6 L1117.7 321.6 L1118.5 295.6 L1118.6 293.6Z M1131.1 293.6 L1131.2 295.6 L1131.9 321.6 L1132.7 348.6 L1133.6 381.6 L1134.0 402.6 L1134.4 433.6 L1135.1 461.6 L1135.7 488.6 L1136.1 513.6 L1136.5 543.6 L1136.6 601.0 L1140.9 601.0 L1141.0 537.3 L1141.4 507.3 L1141.9 482.3 L1142.6 455.3 L1143.3 427.3 L1143.8 396.3 L1144.3 375.3 L1145.2 342.3 L1146.2 315.3 L1147.0 289.3 L1147.1 287.3Z M1160.1 287.3 L1160.2 289.3 L1161.0 315.3 L1162.0 342.3 L1162.9 375.3 L1163.3 396.3 L1163.8 427.3 L1164.5 455.3 L1165.2 482.3 L1165.7 507.3 L1166.1 537.3 L1166.2 596.4 L1170.6 596.4 L1170.7 538.5 L1171.0 508.5 L1171.5 483.5 L1172.2 456.5 L1172.9 428.5 L1173.4 397.5 L1173.8 376.5 L1174.7 343.5 L1175.7 316.5 L1176.4 290.5 L1176.5 288.5Z M1189.2 288.5 L1189.2 290.5 L1190.0 316.5 L1191.0 343.5 L1191.9 376.5 L1192.3 397.5 L1192.8 428.5 L1193.5 456.5 L1194.1 483.5 L1194.6 508.5 L1195.0 538.5 L1195.1 602.0 L1199.5 602.0 L1199.6 548.5 L1200.0 518.5 L1200.5 493.5 L1201.2 466.5 L1201.9 438.5 L1202.4 407.5 L1202.8 386.5 L1203.7 353.5 L1204.7 326.5 L1205.5 300.5 L1205.6 298.5Z M1218.1 298.5 L1218.2 300.5 L1219.0 326.5 L1219.9 353.5 L1220.8 386.5 L1221.2 407.5 L1221.6 438.5 L1222.3 466.5 L1222.9 493.5 L1223.4 518.5 L1223.8 548.5 L1223.9 611.0 L1228.2 611.0 L1228.3 551.9 L1228.6 521.9 L1229.1 496.9 L1229.7 469.9 L1230.4 441.9 L1230.9 410.9 L1231.3 389.9 L1232.2 356.9 L1233.1 329.9 L1233.9 303.9 L1234.0 301.9Z M1246.7 301.9 L1246.8 303.9 L1247.6 329.9 L1248.6 356.9 L1249.5 389.9 L1250.0 410.9 L1250.4 441.9 L1251.2 469.9 L1251.8 496.9 L1252.4 521.9 L1252.7 551.9 L1252.8 617.7 L1257.3 617.7 L1257.4 567.5 L1257.7 537.5 L1258.2 512.5 L1258.8 485.5 L1259.5 457.5 L1260.0 426.5 L1260.4 405.5 L1261.3 372.5 L1262.2 345.5 L1263.0 319.5 L1263.1 317.5Z M1275.3 317.5 L1275.4 319.5 L1276.2 345.5 L1277.1 372.5 L1277.9 405.5 L1278.4 426.5 L1278.8 457.5 L1279.5 485.5 L1280.1 512.5 L1280.6 537.5 L1280.9 567.5 L1281.0 623.3 L1285.3 623.3 L1285.4 556.2 L1285.8 526.2 L1286.3 501.2 L1287.0 474.2 L1287.7 446.2 L1288.1 415.2 L1288.6 394.2 L1289.5 361.2 L1290.5 334.2 L1291.2 308.2 L1291.3 306.2Z M1304.1 306.2 L1304.2 308.2 L1304.9 334.2 L1305.9 361.2 L1306.8 394.2 L1307.3 415.2 L1307.7 446.2 L1308.4 474.2 L1309.1 501.2 L1309.6 526.2 L1310.0 556.2 L1310.1 627.8 L1314.5 627.8 L1314.6 575.5 L1314.9 545.5 L1315.4 520.5 L1316.1 493.5 L1316.8 465.5 L1317.2 434.5 L1317.7 413.5 L1318.6 380.5 L1319.5 353.5 L1320.2 327.5 L1320.3 325.5Z M1332.8 325.5 L1332.9 327.5 L1333.6 353.5 L1334.5 380.5 L1335.4 413.5 L1335.9 434.5 L1336.3 465.5 L1337.0 493.5 L1337.6 520.5 L1338.1 545.5 L1338.4 575.5 L1338.5 635.6 L1342.9 635.6 L1343.0 577.9 L1343.4 547.9 L1343.9 522.9 L1344.6 495.9 L1345.3 467.9 L1345.7 436.9 L1346.2 415.9 L1347.1 382.9 L1348.1 355.9 L1348.8 329.9 L1348.9 327.9Z M1362.0 327.9 L1362.1 329.9 L1362.8 355.9 L1363.8 382.9 L1364.8 415.9 L1365.3 436.9 L1365.8 467.9 L1366.5 495.9 L1367.2 522.9 L1367.7 547.9 L1368.1 577.9 L1368.2 647.5 L1372.7 647.5 L1372.8 591.3 L1373.1 561.3 L1373.6 536.3 L1374.2 509.3 L1374.9 481.3 L1375.4 450.3 L1375.8 429.3 L1376.7 396.3 L1377.6 369.3 L1378.4 343.3 L1378.5 341.3Z M1391.2 341.3 L1391.3 343.3 L1392.1 369.3 L1393.1 396.3 L1394.0 429.3 L1394.5 450.3 L1394.9 481.3 L1395.7 509.3 L1396.3 536.3 L1396.9 561.3 L1397.2 591.3 L1397.3 664.0 L1401.8 664.0 L1401.9 611.3 L1402.3 581.3 L1402.8 556.3 L1403.4 529.3 L1404.1 501.3 L1404.6 470.3 L1405.0 449.3 L1405.9 416.3 L1406.9 389.3 L1407.7 363.3 L1407.7 361.3Z M1420.3 361.3 L1420.4 363.3 L1421.1 389.3 L1422.0 416.3 L1422.9 449.3 L1423.4 470.3 L1423.8 501.3 L1424.5 529.3 L1425.1 556.3 L1425.6 581.3 L1425.9 611.3 L1426.0 676.2 L1430.4 676.2 L1430.5 614.9 L1430.8 584.9 L1431.3 559.9 L1431.9 532.9 L1432.6 504.9 L1433.1 473.9 L1433.5 452.9 L1434.4 419.9 L1435.3 392.9 L1436.1 366.9 L1436.2 364.9Z M1449.0 364.9 L1449.1 366.9 L1449.8 392.9 L1450.8 419.9 L1451.8 452.9 L1452.2 473.9 L1452.7 504.9 L1453.4 532.9 L1454.1 559.9 L1454.6 584.9 L1455.0 614.9 L1455.1 683.0 L1459.6 683.0 L1459.7 629.0 L1460.0 599.0 L1460.5 574.0 L1461.2 547.0 L1461.9 519.0 L1462.4 488.0 L1462.8 467.0 L1463.7 434.0 L1464.7 407.0 L1465.4 381.0 L1465.5 379.0Z M1478.2 379.0 L1478.3 381.0 L1479.1 407.0 L1480.1 434.0 L1481.0 467.0 L1481.4 488.0 L1481.9 519.0 L1482.6 547.0 L1483.3 574.0 L1483.8 599.0 L1484.2 629.0 L1484.3 700.4 L1488.6 700.4 L1488.7 661.9 L1489.0 631.9 L1489.5 606.9 L1490.1 579.9 L1490.7 551.9 L1491.1 520.9 L1491.6 499.9 L1492.4 466.9 L1493.3 439.9 L1494.0 413.9 L1494.1 411.9Z M1506.8 411.9 L1506.9 413.9 L1507.7 439.9 L1508.8 466.9 L1509.8 499.9 L1510.2 520.9 L1510.7 551.9 L1511.5 579.9 L1512.2 606.9 L1512.7 631.9 L1513.1 661.9 L1513.2 731.7 L1517.6 731.7 L1517.7 670.1 L1518.0 640.1 L1518.5 615.1 L1519.1 588.1 L1519.7 560.1 L1520.1 529.1 L1520.5 508.1 L1521.4 475.1 L1522.2 448.1 L1522.9 422.1 L1523.0 420.1Z M1535.6 420.1 L1535.7 422.1 L1536.5 448.1 L1537.6 475.1 L1538.5 508.1 L1539.0 529.1 L1539.5 560.1 L1540.3 588.1 L1541.0 615.1 L1541.5 640.1 L1541.9 670.1 L1542.0 757.5 L1546.6 757.5 L1546.7 707.8 L1547.0 677.8 L1547.5 652.8 L1548.1 625.8 L1548.8 597.8 L1549.3 566.8 L1549.7 545.8 L1550.6 512.8 L1551.5 485.8 L1552.3 459.8 L1552.4 457.8Z M1565.2 457.8 L1565.3 459.8 L1566.0 485.8 L1567.0 512.8 L1568.0 545.8 L1568.4 566.8 L1568.9 597.8 L1569.6 625.8 L1570.3 652.8 L1570.8 677.8 L1571.2 707.8 L1571.3 774.6 L1575.7 774.6 L1575.8 715.9 L1576.2 685.9 L1576.7 660.9 L1577.3 633.9 L1578.0 605.9 L1578.4 574.9 L1578.8 553.9 L1579.7 520.9 L1580.6 493.9 L1581.4 467.9 L1581.5 465.9Z M1593.9 465.9 L1594.0 467.9 L1594.8 493.9 L1595.7 520.9 L1596.6 553.9 L1597.0 574.9 L1597.5 605.9 L1598.2 633.9 L1598.8 660.9 L1599.3 685.9 L1599.7 715.9 L1599.8 813.0 L1604.2 813.0 L1604.3 732.8 L1604.6 702.8 L1605.1 677.8 L1605.7 650.8 L1606.4 622.8 L1606.9 591.8 L1607.3 570.8 L1608.2 537.8 L1609.1 510.8 L1609.9 484.8 L1610.0 482.8Z M1622.8 482.8 L1622.9 484.8 L1623.6 510.8 L1624.6 537.8 L1625.6 570.8 L1626.0 591.8 L1626.5 622.8 L1627.2 650.8 L1627.9 677.8 L1628.4 702.8 L1628.8 732.8 L1628.9 828.0 L1633.3 828.0 L1633.4 768.1 L1633.7 738.1 L1634.2 713.1 L1634.8 686.1 L1635.5 658.1 L1635.9 627.1 L1636.3 606.1 L1637.2 573.1 L1638.0 546.1 L1638.8 520.1 L1638.8 518.1Z M1651.7 518.1 L1651.8 520.1 L1652.6 546.1 L1653.7 573.1 L1654.7 606.1 L1655.2 627.1 L1655.7 658.1 L1656.4 686.1 L1657.1 713.1 L1657.7 738.1 L1658.1 768.1 L1658.2 828.0 L1662.6 828.0 L1662.7 797.8 L1663.0 767.8 L1663.4 742.8 L1664.0 715.8 L1664.7 687.8 L1665.1 656.8 L1665.5 635.8 L1666.3 602.8 L1667.1 575.8 L1667.8 549.8 L1667.9 547.8Z M1680.6 547.8 L1680.7 549.8 L1681.5 575.8 L1682.5 602.8 L1683.5 635.8 L1684.0 656.8 L1684.5 687.8 L1685.3 715.8 L1686.0 742.8 L1686.6 767.8 L1687.0 797.8 L1687.1 828.0 L1689.0 828.0 L1689.0 547.8Z" fill="#3698de" fill-opacity="0.09" stroke="none"/>
<path d="M294.0 626.5 L294.0 828.0 L306.8 828.0 L306.9 729.5 L307.3 711.5 L307.8 696.5 L308.5 680.3 L309.2 663.5 L309.6 644.9 L310.1 632.3 L310.3 626.5Z M328.1 626.5 L328.3 632.3 L328.8 644.9 L329.2 663.5 L329.9 680.3 L330.6 696.5 L331.1 711.5 L331.5 729.5 L331.6 828.0 L335.8 828.0 L335.9 758.5 L336.2 740.5 L336.7 725.5 L337.3 709.3 L337.9 692.5 L338.3 673.9 L338.8 661.3 L339.0 655.5Z M356.0 655.5 L356.2 661.3 L356.7 673.9 L357.2 692.5 L357.9 709.3 L358.6 725.5 L359.1 740.5 L359.4 758.5 L359.5 828.0 L364.3 828.0 L364.4 714.5 L364.8 696.5 L365.3 681.5 L366.0 665.3 L366.8 648.5 L367.3 629.9 L367.8 617.3 L368.1 611.5Z M385.8 611.5 L386.0 617.3 L386.4 629.9 L386.8 648.5 L387.5 665.3 L388.1 681.5 L388.5 696.5 L388.8 714.5 L388.9 828.0 L393.2 828.0 L393.3 662.3 L393.7 644.3 L394.2 629.3 L394.9 613.1 L395.7 596.3 L396.2 577.7 L396.6 565.1 L396.9 559.3Z M414.2 559.3 L414.4 565.1 L414.9 577.7 L415.3 596.3 L415.9 613.1 L416.5 629.3 L417.0 644.3 L417.3 662.3 L417.4 828.0 L421.7 828.0 L421.8 624.2 L422.1 606.2 L422.6 591.2 L423.3 575.0 L424.0 558.2 L424.5 539.6 L424.9 527.0 L425.2 521.2Z M442.6 521.2 L442.9 527.0 L443.3 539.6 L443.8 558.2 L444.4 575.0 L445.1 591.2 L445.5 606.2 L445.9 624.2 L446.0 803.0 L450.4 803.0 L450.5 655.0 L450.9 632.5 L451.4 613.8 L452.1 593.5 L452.9 572.5 L453.3 549.2 L453.8 533.5 L454.7 510.0Z M471.2 510.0 L472.0 533.5 L472.4 549.2 L472.9 572.5 L473.5 593.5 L474.2 613.8 L474.6 632.5 L475.0 655.0 L475.1 780.6 L479.3 780.6 L479.4 691.4 L479.7 665.0 L480.2 643.0 L480.8 619.2 L481.5 594.6 L481.9 567.3 L482.4 548.8 L483.2 519.8 L483.6 510.0Z M499.0 510.0 L499.4 519.8 L500.3 548.8 L500.8 567.3 L501.2 594.6 L502.0 619.2 L502.6 643.0 L503.2 665.0 L503.5 691.4 L503.6 808.0 L507.9 808.0 L508.0 727.2 L508.4 697.2 L508.8 672.2 L509.4 645.2 L510.1 617.2 L510.5 586.2 L510.9 565.2 L511.8 532.2 L512.4 512.2Z M526.8 512.2 L527.5 532.2 L528.4 565.2 L528.9 586.2 L529.3 617.2 L530.0 645.2 L530.7 672.2 L531.2 697.2 L531.6 727.2 L531.7 762.7 L536.1 762.7 L536.2 677.2 L536.6 647.2 L537.1 622.2 L537.8 595.2 L538.5 567.2 L539.0 536.2 L539.4 515.2 L540.3 482.2 L541.0 462.2Z M555.9 462.2 L556.6 482.2 L557.5 515.2 L557.9 536.2 L558.4 567.2 L559.1 595.2 L559.7 622.2 L560.2 647.2 L560.5 677.2 L560.6 716.8 L565.0 716.8 L565.1 646.5 L565.5 616.5 L566.0 591.5 L566.7 564.5 L567.4 536.5 L567.9 505.5 L568.3 484.5 L569.2 451.5 L569.9 431.5Z M585.5 431.5 L586.2 451.5 L587.2 484.5 L587.7 505.5 L588.2 536.5 L588.9 564.5 L589.6 591.5 L590.1 616.5 L590.5 646.5 L590.6 700.0 L595.2 700.0 L595.3 636.9 L595.6 606.9 L596.1 581.9 L596.8 554.9 L597.5 526.9 L597.9 495.9 L598.4 474.9 L599.3 441.9 L600.0 421.9Z M614.7 421.9 L615.4 441.9 L616.3 474.9 L616.8 495.9 L617.2 526.9 L617.9 554.9 L618.6 581.9 L619.1 606.9 L619.4 636.9 L619.5 688.8 L623.8 688.8 L623.9 629.0 L624.2 599.0 L624.7 574.0 L625.3 547.0 L626.0 519.0 L626.4 488.0 L626.8 467.0 L627.6 434.0 L628.3 414.0Z M642.7 414.0 L643.4 434.0 L644.3 467.0 L644.8 488.0 L645.2 519.0 L645.9 547.0 L646.6 574.0 L647.1 599.0 L647.4 629.0 L647.5 693.2 L651.9 693.2 L652.0 638.0 L652.3 608.0 L652.8 583.0 L653.4 556.0 L654.1 528.0 L654.5 497.0 L655.0 476.0 L655.9 443.0 L656.6 423.0Z M671.0 423.0 L671.7 443.0 L672.5 476.0 L673.0 497.0 L673.4 528.0 L674.1 556.0 L674.7 583.0 L675.2 608.0 L675.6 638.0 L675.7 685.2 L680.2 685.2 L680.3 612.2 L680.7 582.2 L681.3 557.2 L682.0 530.2 L682.7 502.2 L683.2 471.2 L683.7 450.2 L684.7 417.2 L685.5 397.2Z M700.5 397.2 L701.2 417.2 L702.0 450.2 L702.5 471.2 L702.9 502.2 L703.5 530.2 L704.1 557.2 L704.6 582.2 L704.9 612.2 L705.0 660.3 L709.3 660.3 L709.4 593.2 L709.8 563.2 L710.3 538.2 L710.9 511.2 L711.6 483.2 L712.1 452.2 L712.5 431.2 L713.4 398.2 L714.2 378.2Z M729.1 378.2 L729.8 398.2 L730.7 431.2 L731.2 452.2 L731.6 483.2 L732.3 511.2 L733.0 538.2 L733.5 563.2 L733.9 593.2 L734.0 650.2 L738.3 650.2 L738.4 587.5 L738.7 557.5 L739.2 532.5 L739.8 505.5 L740.5 477.5 L740.9 446.5 L741.4 425.5 L742.2 392.5 L742.9 372.5Z M757.3 372.5 L758.0 392.5 L758.9 425.5 L759.3 446.5 L759.8 477.5 L760.5 505.5 L761.1 532.5 L761.6 557.5 L761.9 587.5 L762.0 640.1 L766.4 640.1 L766.5 574.1 L766.9 544.1 L767.4 519.1 L768.0 492.1 L768.7 464.1 L769.2 433.1 L769.6 412.1 L770.5 379.1 L771.3 359.1Z M786.2 359.1 L786.9 379.1 L787.8 412.1 L788.3 433.1 L788.7 464.1 L789.4 492.1 L790.1 519.1 L790.6 544.1 L791.0 574.1 L791.1 632.3 L795.5 632.3 L795.6 580.8 L796.0 550.8 L796.5 525.8 L797.2 498.8 L797.9 470.8 L798.3 439.8 L798.8 418.8 L799.7 385.8 L800.4 365.8Z M815.6 365.8 L816.3 385.8 L817.3 418.8 L817.7 439.8 L818.2 470.8 L818.9 498.8 L819.6 525.8 L820.1 550.8 L820.5 580.8 L820.6 633.4 L825.1 633.4 L825.2 569.5 L825.6 539.5 L826.1 514.5 L826.8 487.5 L827.5 459.5 L827.9 428.5 L828.4 407.5 L829.3 374.5 L830.0 354.5Z M844.7 354.5 L845.4 374.5 L846.3 407.5 L846.8 428.5 L847.2 459.5 L847.9 487.5 L848.5 514.5 L849.0 539.5 L849.3 569.5 L849.4 620.0 L853.8 620.0 L853.9 555.1 L854.2 525.1 L854.7 500.1 L855.3 473.1 L856.0 445.1 L856.4 414.1 L856.9 393.1 L857.8 360.1 L858.5 340.1Z M872.8 340.1 L873.5 360.1 L874.4 393.1 L874.8 414.1 L875.3 445.1 L875.9 473.1 L876.6 500.1 L877.0 525.1 L877.4 555.1 L877.5 602.7 L881.7 602.7 L881.8 534.5 L882.2 504.5 L882.6 479.5 L883.3 452.5 L883.9 424.5 L884.4 393.5 L884.8 372.5 L885.7 339.5 L886.4 319.5Z M901.1 319.5 L901.8 339.5 L902.8 372.5 L903.2 393.5 L903.7 424.5 L904.4 452.5 L905.1 479.5 L905.6 504.5 L905.9 534.5 L906.0 597.6 L910.5 597.6 L910.6 544.5 L911.0 514.5 L911.5 489.5 L912.1 462.5 L912.8 434.5 L913.3 403.5 L913.7 382.5 L914.6 349.5 L915.4 329.5Z M930.3 329.5 L931.0 349.5 L931.9 382.5 L932.4 403.5 L932.8 434.5 L933.5 462.5 L934.2 489.5 L934.7 514.5 L935.1 544.5 L935.2 606.5 L939.6 606.5 L939.7 550.8 L940.0 520.8 L940.5 495.8 L941.1 468.8 L941.8 440.8 L942.2 409.8 L942.7 388.8 L943.6 355.8 L944.3 335.8Z M958.9 335.8 L959.6 355.8 L960.5 388.8 L960.9 409.8 L961.4 440.8 L962.1 468.8 L962.8 495.8 L963.2 520.8 L963.6 550.8 L963.7 603.2 L968.2 603.2 L968.3 540.7 L968.7 510.7 L969.2 485.7 L969.9 458.7 L970.6 430.7 L971.1 399.7 L971.6 378.7 L972.5 345.7 L973.3 325.7Z M988.2 325.7 L988.9 345.7 L989.8 378.7 L990.2 399.7 L990.7 430.7 L991.3 458.7 L992.0 485.7 L992.4 510.7 L992.8 540.7 L992.9 591.5 L997.3 591.5 L997.4 533.5 L997.7 503.5 L998.2 478.5 L998.9 451.5 L999.6 423.5 L1000.1 392.5 L1000.5 371.5 L1001.5 338.5 L1002.2 318.5Z M1017.1 318.5 L1017.8 338.5 L1018.7 371.5 L1019.2 392.5 L1019.6 423.5 L1020.3 451.5 L1021.0 478.5 L1021.5 503.5 L1021.8 533.5 L1021.9 591.5 L1026.3 591.5 L1026.4 534.0 L1026.8 504.0 L1027.2 479.0 L1027.9 452.0 L1028.6 424.0 L1029.0 393.0 L1029.5 372.0 L1030.4 339.0 L1031.1 319.0Z M1045.6 319.0 L1046.3 339.0 L1047.2 372.0 L1047.6 393.0 L1048.1 424.0 L1048.7 452.0 L1049.4 479.0 L1049.8 504.0 L1050.2 534.0 L1050.3 589.5 L1054.6 589.5 L1054.7 531.5 L1055.1 501.5 L1055.6 476.5 L1056.3 449.5 L1057.0 421.5 L1057.4 390.5 L1057.9 369.5 L1058.8 336.5 L1059.5 316.5Z M1074.4 316.5 L1075.2 336.5 L1076.1 369.5 L1076.5 390.5 L1077.0 421.5 L1077.7 449.5 L1078.3 476.5 L1078.8 501.5 L1079.2 531.5 L1079.3 589.7 L1083.7 589.7 L1083.8 537.3 L1084.2 507.3 L1084.7 482.3 L1085.3 455.3 L1086.0 427.3 L1086.5 396.3 L1086.9 375.3 L1087.8 342.3 L1088.6 322.3Z M1103.2 322.3 L1103.9 342.3 L1104.8 375.3 L1105.3 396.3 L1105.7 427.3 L1106.4 455.3 L1107.0 482.3 L1107.5 507.3 L1107.8 537.3 L1107.9 596.0 L1112.4 596.0 L1112.5 543.6 L1112.9 513.6 L1113.4 488.6 L1114.1 461.6 L1114.8 433.6 L1115.3 402.6 L1115.8 381.6 L1116.7 348.6 L1117.4 328.6Z M1132.1 328.6 L1132.7 348.6 L1133.6 381.6 L1134.0 402.6 L1134.4 433.6 L1135.1 461.6 L1135.7 488.6 L1136.1 513.6 L1136.5 543.6 L1136.6 601.0 L1140.9 601.0 L1141.0 537.3 L1141.4 507.3 L1141.9 482.3 L1142.6 455.3 L1143.3 427.3 L1143.8 396.3 L1144.3 375.3 L1145.2 342.3 L1145.9 322.3Z M1161.3 322.3 L1162.0 342.3 L1162.9 375.3 L1163.3 396.3 L1163.8 427.3 L1164.5 455.3 L1165.2 482.3 L1165.7 507.3 L1166.1 537.3 L1166.2 596.4 L1170.6 596.4 L1170.7 538.5 L1171.0 508.5 L1171.5 483.5 L1172.2 456.5 L1172.9 428.5 L1173.4 397.5 L1173.8 376.5 L1174.7 343.5 L1175.4 323.5Z M1190.2 323.5 L1191.0 343.5 L1191.9 376.5 L1192.3 397.5 L1192.8 428.5 L1193.5 456.5 L1194.1 483.5 L1194.6 508.5 L1195.0 538.5 L1195.1 602.0 L1199.5 602.0 L1199.6 548.5 L1200.0 518.5 L1200.5 493.5 L1201.2 466.5 L1201.9 438.5 L1202.4 407.5 L1202.8 386.5 L1203.7 353.5 L1204.4 333.5Z M1219.2 333.5 L1219.9 353.5 L1220.8 386.5 L1221.2 407.5 L1221.6 438.5 L1222.3 466.5 L1222.9 493.5 L1223.4 518.5 L1223.8 548.5 L1223.9 611.0 L1228.2 611.0 L1228.3 551.9 L1228.6 521.9 L1229.1 496.9 L1229.7 469.9 L1230.4 441.9 L1230.9 410.9 L1231.3 389.9 L1232.2 356.9 L1232.9 336.9Z M1247.9 336.9 L1248.6 356.9 L1249.5 389.9 L1250.0 410.9 L1250.4 441.9 L1251.2 469.9 L1251.8 496.9 L1252.4 521.9 L1252.7 551.9 L1252.8 617.7 L1257.3 617.7 L1257.4 567.5 L1257.7 537.5 L1258.2 512.5 L1258.8 485.5 L1259.5 457.5 L1260.0 426.5 L1260.4 405.5 L1261.3 372.5 L1262.0 352.5Z M1276.4 352.5 L1277.1 372.5 L1277.9 405.5 L1278.4 426.5 L1278.8 457.5 L1279.5 485.5 L1280.1 512.5 L1280.6 537.5 L1280.9 567.5 L1281.0 623.3 L1285.3 623.3 L1285.4 556.2 L1285.8 526.2 L1286.3 501.2 L1287.0 474.2 L1287.7 446.2 L1288.1 415.2 L1288.6 394.2 L1289.5 361.2 L1290.2 341.2Z M1305.2 341.2 L1305.9 361.2 L1306.8 394.2 L1307.3 415.2 L1307.7 446.2 L1308.4 474.2 L1309.1 501.2 L1309.6 526.2 L1310.0 556.2 L1310.1 627.8 L1314.5 627.8 L1314.6 575.5 L1314.9 545.5 L1315.4 520.5 L1316.1 493.5 L1316.8 465.5 L1317.2 434.5 L1317.7 413.5 L1318.6 380.5 L1319.3 360.5Z M1333.8 360.5 L1334.5 380.5 L1335.4 413.5 L1335.9 434.5 L1336.3 465.5 L1337.0 493.5 L1337.6 520.5 L1338.1 545.5 L1338.4 575.5 L1338.5 635.6 L1342.9 635.6 L1343.0 577.9 L1343.4 547.9 L1343.9 522.9 L1344.6 495.9 L1345.3 467.9 L1345.7 436.9 L1346.2 415.9 L1347.1 382.9 L1347.8 362.9Z M1363.1 362.9 L1363.8 382.9 L1364.8 415.9 L1365.3 436.9 L1365.8 467.9 L1366.5 495.9 L1367.2 522.9 L1367.7 547.9 L1368.1 577.9 L1368.2 647.5 L1372.7 647.5 L1372.8 591.3 L1373.1 561.3 L1373.6 536.3 L1374.2 509.3 L1374.9 481.3 L1375.4 450.3 L1375.8 429.3 L1376.7 396.3 L1377.4 376.3Z M1392.4 376.3 L1393.1 396.3 L1394.0 429.3 L1394.5 450.3 L1394.9 481.3 L1395.7 509.3 L1396.3 536.3 L1396.9 561.3 L1397.2 591.3 L1397.3 664.0 L1401.8 664.0 L1401.9 611.3 L1402.3 581.3 L1402.8 556.3 L1403.4 529.3 L1404.1 501.3 L1404.6 470.3 L1405.0 449.3 L1405.9 416.3 L1406.7 396.3Z M1421.3 396.3 L1422.0 416.3 L1422.9 449.3 L1423.4 470.3 L1423.8 501.3 L1424.5 529.3 L1425.1 556.3 L1425.6 581.3 L1425.9 611.3 L1426.0 676.2 L1430.4 676.2 L1430.5 614.9 L1430.8 584.9 L1431.3 559.9 L1431.9 532.9 L1432.6 504.9 L1433.1 473.9 L1433.5 452.9 L1434.4 419.9 L1435.1 399.9Z M1450.1 399.9 L1450.8 419.9 L1451.8 452.9 L1452.2 473.9 L1452.7 504.9 L1453.4 532.9 L1454.1 559.9 L1454.6 584.9 L1455.0 614.9 L1455.1 683.0 L1459.6 683.0 L1459.7 629.0 L1460.0 599.0 L1460.5 574.0 L1461.2 547.0 L1461.9 519.0 L1462.4 488.0 L1462.8 467.0 L1463.7 434.0 L1464.4 414.0Z M1479.4 414.0 L1480.1 434.0 L1481.0 467.0 L1481.4 488.0 L1481.9 519.0 L1482.6 547.0 L1483.3 574.0 L1483.8 599.0 L1484.2 629.0 L1484.3 700.4 L1488.6 700.4 L1488.7 661.9 L1489.0 631.9 L1489.5 606.9 L1490.1 579.9 L1490.7 551.9 L1491.1 520.9 L1491.6 499.9 L1492.4 466.9 L1493.1 446.9Z M1508.0 446.9 L1508.8 466.9 L1509.8 499.9 L1510.2 520.9 L1510.7 551.9 L1511.5 579.9 L1512.2 606.9 L1512.7 631.9 L1513.1 661.9 L1513.2 731.7 L1517.6 731.7 L1517.7 670.1 L1518.0 640.1 L1518.5 615.1 L1519.1 588.1 L1519.7 560.1 L1520.1 529.1 L1520.5 508.1 L1521.4 475.1 L1522.0 455.1Z M1536.8 455.1 L1537.6 475.1 L1538.5 508.1 L1539.0 529.1 L1539.5 560.1 L1540.3 588.1 L1541.0 615.1 L1541.5 640.1 L1541.9 670.1 L1542.0 757.5 L1546.6 757.5 L1546.7 707.8 L1547.0 677.8 L1547.5 652.8 L1548.1 625.8 L1548.8 597.8 L1549.3 566.8 L1549.7 545.8 L1550.6 512.8 L1551.3 492.8Z M1566.3 492.8 L1567.0 512.8 L1568.0 545.8 L1568.4 566.8 L1568.9 597.8 L1569.6 625.8 L1570.3 652.8 L1570.8 677.8 L1571.2 707.8 L1571.3 774.6 L1575.7 774.6 L1575.8 715.9 L1576.2 685.9 L1576.7 660.9 L1577.3 633.9 L1578.0 605.9 L1578.4 574.9 L1578.8 553.9 L1579.7 520.9 L1580.4 500.9Z M1595.0 500.9 L1595.7 520.9 L1596.6 553.9 L1597.0 574.9 L1597.5 605.9 L1598.2 633.9 L1598.8 660.9 L1599.3 685.9 L1599.7 715.9 L1599.8 813.0 L1604.2 813.0 L1604.3 732.8 L1604.6 702.8 L1605.1 677.8 L1605.7 650.8 L1606.4 622.8 L1606.9 591.8 L1607.3 570.8 L1608.2 537.8 L1608.9 517.8Z M1623.9 517.8 L1624.6 537.8 L1625.6 570.8 L1626.0 591.8 L1626.5 622.8 L1627.2 650.8 L1627.9 677.8 L1628.4 702.8 L1628.8 732.8 L1628.9 828.0 L1633.3 828.0 L1633.4 768.1 L1633.7 738.1 L1634.2 713.1 L1634.8 686.1 L1635.5 658.1 L1635.9 627.1 L1636.3 606.1 L1637.2 573.1 L1637.8 553.1Z M1652.9 553.1 L1653.7 573.1 L1654.7 606.1 L1655.2 627.1 L1655.7 658.1 L1656.4 686.1 L1657.1 713.1 L1657.7 738.1 L1658.1 768.1 L1658.2 828.0 L1662.6 828.0 L1662.7 797.8 L1663.0 767.8 L1663.4 742.8 L1664.0 715.8 L1664.7 687.8 L1665.1 656.8 L1665.5 635.8 L1666.3 602.8 L1666.9 582.8Z M1681.8 582.8 L1682.5 602.8 L1683.5 635.8 L1684.0 656.8 L1684.5 687.8 L1685.3 715.8 L1686.0 742.8 L1686.6 767.8 L1687.0 797.8 L1687.1 828.0 L1689.0 828.0 L1689.0 582.8Z" fill="#3698de" fill-opacity="0.1" stroke="none"/>
<path d="M294.0 661.5 L294.0 828.0 L306.8 828.0 L306.9 729.5 L307.3 711.5 L307.8 696.5 L308.5 680.3 L309.2 663.5 L309.2 661.5Z M329.2 661.5 L329.2 663.5 L329.9 680.3 L330.6 696.5 L331.1 711.5 L331.5 729.5 L331.6 828.0 L335.8 828.0 L335.9 758.5 L336.2 740.5 L336.7 725.5 L337.3 709.3 L337.9 692.5 L338.0 690.5Z M357.1 690.5 L357.2 692.5 L357.9 709.3 L358.6 725.5 L359.1 740.5 L359.4 758.5 L359.5 828.0 L364.3 828.0 L364.4 714.5 L364.8 696.5 L365.3 681.5 L366.0 665.3 L366.8 648.5 L366.9 646.5Z M386.8 646.5 L386.8 648.5 L387.5 665.3 L388.1 681.5 L388.5 696.5 L388.8 714.5 L388.9 828.0 L393.2 828.0 L393.3 662.3 L393.7 644.3 L394.2 629.3 L394.9 613.1 L395.7 596.3 L395.7 594.3Z M415.2 594.3 L415.3 596.3 L415.9 613.1 L416.5 629.3 L417.0 644.3 L417.3 662.3 L417.4 828.0 L421.7 828.0 L421.8 624.2 L422.1 606.2 L422.6 591.2 L423.3 575.0 L424.0 558.2 L424.1 556.2Z M443.7 556.2 L443.8 558.2 L444.4 575.0 L445.1 591.2 L445.5 606.2 L445.9 624.2 L446.0 803.0 L450.4 803.0 L450.5 655.0 L450.9 632.5 L451.4 613.8 L452.1 593.5 L452.9 572.5 L453.3 549.2 L453.5 545.0Z M472.3 545.0 L472.4 549.2 L472.9 572.5 L473.5 593.5 L474.2 613.8 L474.6 632.5 L475.0 655.0 L475.1 780.6 L479.3 780.6 L479.4 691.4 L479.7 665.0 L480.2 643.0 L480.8 619.2 L481.5 594.6 L481.9 567.3 L482.4 548.8 L482.5 545.0Z M500.2 545.0 L500.3 548.8 L500.8 567.3 L501.2 594.6 L502.0 619.2 L502.6 643.0 L503.2 665.0 L503.5 691.4 L503.6 808.0 L507.9 808.0 L508.0 727.2 L508.4 697.2 L508.8 672.2 L509.4 645.2 L510.1 617.2 L510.5 586.2 L510.9 565.2 L511.4 547.2Z M527.9 547.2 L528.4 565.2 L528.9 586.2 L529.3 617.2 L530.0 645.2 L530.7 672.2 L531.2 697.2 L531.6 727.2 L531.7 762.7 L536.1 762.7 L536.2 677.2 L536.6 647.2 L537.1 622.2 L537.8 595.2 L538.5 567.2 L539.0 536.2 L539.4 515.2 L539.9 497.2Z M557.0 497.2 L557.5 515.2 L557.9 536.2 L558.4 567.2 L559.1 595.2 L559.7 622.2 L560.2 647.2 L560.5 677.2 L560.6 716.8 L565.0 716.8 L565.1 646.5 L565.5 616.5 L566.0 591.5 L566.7 564.5 L567.4 536.5 L567.9 505.5 L568.3 484.5 L568.8 466.5Z M586.7 466.5 L587.2 484.5 L587.7 505.5 L588.2 536.5 L588.9 564.5 L589.6 591.5 L590.1 616.5 L590.5 646.5 L590.6 700.0 L595.2 700.0 L595.3 636.9 L595.6 606.9 L596.1 581.9 L596.8 554.9 L597.5 526.9 L597.9 495.9 L598.4 474.9 L598.9 456.9Z M615.8 456.9 L616.3 474.9 L616.8 495.9 L617.2 526.9 L617.9 554.9 L618.6 581.9 L619.1 606.9 L619.4 636.9 L619.5 688.8 L623.8 688.8 L623.9 629.0 L624.2 599.0 L624.7 574.0 L625.3 547.0 L626.0 519.0 L626.4 488.0 L626.8 467.0 L627.3 449.0Z M643.8 449.0 L644.3 467.0 L644.8 488.0 L645.2 519.0 L645.9 547.0 L646.6 574.0 L647.1 599.0 L647.4 629.0 L647.5 693.2 L651.9 693.2 L652.0 638.0 L652.3 608.0 L652.8 583.0 L653.4 556.0 L654.1 528.0 L654.5 497.0 L655.0 476.0 L655.5 458.0Z M672.1 458.0 L672.5 476.0 L673.0 497.0 L673.4 528.0 L674.1 556.0 L674.7 583.0 L675.2 608.0 L675.6 638.0 L675.7 685.2 L680.2 685.2 L680.3 612.2 L680.7 582.2 L681.3 557.2 L682.0 530.2 L682.7 502.2 L683.2 471.2 L683.7 450.2 L684.3 432.2Z M701.6 432.2 L702.0 450.2 L702.5 471.2 L702.9 502.2 L703.5 530.2 L704.1 557.2 L704.6 582.2 L704.9 612.2 L705.0 660.3 L709.3 660.3 L709.4 593.2 L709.8 563.2 L710.3 538.2 L710.9 511.2 L711.6 483.2 L712.1 452.2 L712.5 431.2 L713.0 413.2Z M730.2 413.2 L730.7 431.2 L731.2 452.2 L731.6 483.2 L732.3 511.2 L733.0 538.2 L733.5 563.2 L733.9 593.2 L734.0 650.2 L738.3 650.2 L738.4 587.5 L738.7 557.5 L739.2 532.5 L739.8 505.5 L740.5 477.5 L740.9 446.5 L741.4 425.5 L741.8 407.5Z M758.4 407.5 L758.9 425.5 L759.3 446.5 L759.8 477.5 L760.5 505.5 L761.1 532.5 L761.6 557.5 L761.9 587.5 L762.0 640.1 L766.4 640.1 L766.5 574.1 L766.9 544.1 L767.4 519.1 L768.0 492.1 L768.7 464.1 L769.2 433.1 L769.6 412.1 L770.1 394.1Z M787.3 394.1 L787.8 412.1 L788.3 433.1 L788.7 464.1 L789.4 492.1 L790.1 519.1 L790.6 544.1 L791.0 574.1 L791.1 632.3 L795.5 632.3 L795.6 580.8 L796.0 550.8 L796.5 525.8 L797.2 498.8 L797.9 470.8 L798.3 439.8 L798.8 418.8 L799.3 400.8Z M816.8 400.8 L817.3 418.8 L817.7 439.8 L818.2 470.8 L818.9 498.8 L819.6 525.8 L820.1 550.8 L820.5 580.8 L820.6 633.4 L825.1 633.4 L825.2 569.5 L825.6 539.5 L826.1 514.5 L826.8 487.5 L827.5 459.5 L827.9 428.5 L828.4 407.5 L828.9 389.5Z M845.8 389.5 L846.3 407.5 L846.8 428.5 L847.2 459.5 L847.9 487.5 L848.5 514.5 L849.0 539.5 L849.3 569.5 L849.4 620.0 L853.8 620.0 L853.9 555.1 L854.2 525.1 L854.7 500.1 L855.3 473.1 L856.0 445.1 L856.4 414.1 L856.9 393.1 L857.4 375.1Z M873.9 375.1 L874.4 393.1 L874.8 414.1 L875.3 445.1 L875.9 473.1 L876.6 500.1 L877.0 525.1 L877.4 555.1 L877.5 602.7 L881.7 602.7 L881.8 534.5 L882.2 504.5 L882.6 479.5 L883.3 452.5 L883.9 424.5 L884.4 393.5 L884.8 372.5 L885.3 354.5Z M902.2 354.5 L902.8 372.5 L903.2 393.5 L903.7 424.5 L904.4 452.5 L905.1 479.5 L905.6 504.5 L905.9 534.5 L906.0 597.6 L910.5 597.6 L910.6 544.5 L911.0 514.5 L911.5 489.5 L912.1 462.5 L912.8 434.5 L913.3 403.5 L913.7 382.5 L914.2 364.5Z M931.4 364.5 L931.9 382.5 L932.4 403.5 L932.8 434.5 L933.5 462.5 L934.2 489.5 L934.7 514.5 L935.1 544.5 L935.2 606.5 L939.6 606.5 L939.7 550.8 L940.0 520.8 L940.5 495.8 L941.1 468.8 L941.8 440.8 L942.2 409.8 L942.7 388.8 L943.2 370.8Z M960.0 370.8 L960.5 388.8 L960.9 409.8 L961.4 440.8 L962.1 468.8 L962.8 495.8 L963.2 520.8 L963.6 550.8 L963.7 603.2 L968.2 603.2 L968.3 540.7 L968.7 510.7 L969.2 485.7 L969.9 458.7 L970.6 430.7 L971.1 399.7 L971.6 378.7 L972.1 360.7Z M989.3 360.7 L989.8 378.7 L990.2 399.7 L990.7 430.7 L991.3 458.7 L992.0 485.7 L992.4 510.7 L992.8 540.7 L992.9 591.5 L997.3 591.5 L997.4 533.5 L997.7 503.5 L998.2 478.5 L998.9 451.5 L999.6 423.5 L1000.1 392.5 L1000.5 371.5 L1001.1 353.5Z M1018.2 353.5 L1018.7 371.5 L1019.2 392.5 L1019.6 423.5 L1020.3 451.5 L1021.0 478.5 L1021.5 503.5 L1021.8 533.5 L1021.9 591.5 L1026.3 591.5 L1026.4 534.0 L1026.8 504.0 L1027.2 479.0 L1027.9 452.0 L1028.6 424.0 L1029.0 393.0 L1029.5 372.0 L1030.0 354.0Z M1046.7 354.0 L1047.2 372.0 L1047.6 393.0 L1048.1 424.0 L1048.7 452.0 L1049.4 479.0 L1049.8 504.0 L1050.2 534.0 L1050.3 589.5 L1054.6 589.5 L1054.7 531.5 L1055.1 501.5 L1055.6 476.5 L1056.3 449.5 L1057.0 421.5 L1057.4 390.5 L1057.9 369.5 L1058.4 351.5Z M1075.6 351.5 L1076.1 369.5 L1076.5 390.5 L1077.0 421.5 L1077.7 449.5 L1078.3 476.5 L1078.8 501.5 L1079.2 531.5 L1079.3 589.7 L1083.7 589.7 L1083.8 537.3 L1084.2 507.3 L1084.7 482.3 L1085.3 455.3 L1086.0 427.3 L1086.5 396.3 L1086.9 375.3 L1087.4 357.3Z M1104.3 357.3 L1104.8 375.3 L1105.3 396.3 L1105.7 427.3 L1106.4 455.3 L1107.0 482.3 L1107.5 507.3 L1107.8 537.3 L1107.9 596.0 L1112.4 596.0 L1112.5 543.6 L1112.9 513.6 L1113.4 488.6 L1114.1 461.6 L1114.8 433.6 L1115.3 402.6 L1115.8 381.6 L1116.3 363.6Z M1133.1 363.6 L1133.6 381.6 L1134.0 402.6 L1134.4 433.6 L1135.1 461.6 L1135.7 488.6 L1136.1 513.6 L1136.5 543.6 L1136.6 601.0 L1140.9 601.0 L1141.0 537.3 L1141.4 507.3 L1141.9 482.3 L1142.6 455.3 L1143.3 427.3 L1143.8 396.3 L1144.3 375.3 L1144.8 357.3Z M1162.4 357.3 L1162.9 375.3 L1163.3 396.3 L1163.8 427.3 L1164.5 455.3 L1165.2 482.3 L1165.7 507.3 L1166.1 537.3 L1166.2 596.4 L1170.6 596.4 L1170.7 538.5 L1171.0 508.5 L1171.5 483.5 L1172.2 456.5 L1172.9 428.5 L1173.4 397.5 L1173.8 376.5 L1174.3 358.5Z M1191.4 358.5 L1191.9 376.5 L1192.3 397.5 L1192.8 428.5 L1193.5 456.5 L1194.1 483.5 L1194.6 508.5 L1195.0 538.5 L1195.1 602.0 L1199.5 602.0 L1199.6 548.5 L1200.0 518.5 L1200.5 493.5 L1201.2 466.5 L1201.9 438.5 L1202.4 407.5 L1202.8 386.5 L1203.3 368.5Z M1220.3 368.5 L1220.8 386.5 L1221.2 407.5 L1221.6 438.5 L1222.3 466.5 L1222.9 493.5 L1223.4 518.5 L1223.8 548.5 L1223.9 611.0 L1228.2 611.0 L1228.3 551.9 L1228.6 521.9 L1229.1 496.9 L1229.7 469.9 L1230.4 441.9 L1230.9 410.9 L1231.3 389.9 L1231.8 371.9Z M1249.0 371.9 L1249.5 389.9 L1250.0 410.9 L1250.4 441.9 L1251.2 469.9 L1251.8 496.9 L1252.4 521.9 L1252.7 551.9 L1252.8 617.7 L1257.3 617.7 L1257.4 567.5 L1257.7 537.5 L1258.2 512.5 L1258.8 485.5 L1259.5 457.5 L1260.0 426.5 L1260.4 405.5 L1260.9 387.5Z M1277.5 387.5 L1277.9 405.5 L1278.4 426.5 L1278.8 457.5 L1279.5 485.5 L1280.1 512.5 L1280.6 537.5 L1280.9 567.5 L1281.0 623.3 L1285.3 623.3 L1285.4 556.2 L1285.8 526.2 L1286.3 501.2 L1287.0 474.2 L1287.7 446.2 L1288.1 415.2 L1288.6 394.2 L1289.1 376.2Z M1306.3 376.2 L1306.8 394.2 L1307.3 415.2 L1307.7 446.2 L1308.4 474.2 L1309.1 501.2 L1309.6 526.2 L1310.0 556.2 L1310.1 627.8 L1314.5 627.8 L1314.6 575.5 L1314.9 545.5 L1315.4 520.5 L1316.1 493.5 L1316.8 465.5 L1317.2 434.5 L1317.7 413.5 L1318.1 395.5Z M1334.9 395.5 L1335.4 413.5 L1335.9 434.5 L1336.3 465.5 L1337.0 493.5 L1337.6 520.5 L1338.1 545.5 L1338.4 575.5 L1338.5 635.6 L1342.9 635.6 L1343.0 577.9 L1343.4 547.9 L1343.9 522.9 L1344.6 495.9 L1345.3 467.9 L1345.7 436.9 L1346.2 415.9 L1346.7 397.9Z M1364.3 397.9 L1364.8 415.9 L1365.3 436.9 L1365.8 467.9 L1366.5 495.9 L1367.2 522.9 L1367.7 547.9 L1368.1 577.9 L1368.2 647.5 L1372.7 647.5 L1372.8 591.3 L1373.1 561.3 L1373.6 536.3 L1374.2 509.3 L1374.9 481.3 L1375.4 450.3 L1375.8 429.3 L1376.3 411.3Z M1393.5 411.3 L1394.0 429.3 L1394.5 450.3 L1394.9 481.3 L1395.7 509.3 L1396.3 536.3 L1396.9 561.3 L1397.2 591.3 L1397.3 664.0 L1401.8 664.0 L1401.9 611.3 L1402.3 581.3 L1402.8 556.3 L1403.4 529.3 L1404.1 501.3 L1404.6 470.3 L1405.0 449.3 L1405.5 431.3Z M1422.4 431.3 L1422.9 449.3 L1423.4 470.3 L1423.8 501.3 L1424.5 529.3 L1425.1 556.3 L1425.6 581.3 L1425.9 611.3 L1426.0 676.2 L1430.4 676.2 L1430.5 614.9 L1430.8 584.9 L1431.3 559.9 L1431.9 532.9 L1432.6 504.9 L1433.1 473.9 L1433.5 452.9 L1434.0 434.9Z M1451.3 434.9 L1451.8 452.9 L1452.2 473.9 L1452.7 504.9 L1453.4 532.9 L1454.1 559.9 L1454.6 584.9 L1455.0 614.9 L1455.1 683.0 L1459.6 683.0 L1459.7 629.0 L1460.0 599.0 L1460.5 574.0 L1461.2 547.0 L1461.9 519.0 L1462.4 488.0 L1462.8 467.0 L1463.3 449.0Z M1480.5 449.0 L1481.0 467.0 L1481.4 488.0 L1481.9 519.0 L1482.6 547.0 L1483.3 574.0 L1483.8 599.0 L1484.2 629.0 L1484.3 700.4 L1488.6 700.4 L1488.7 661.9 L1489.0 631.9 L1489.5 606.9 L1490.1 579.9 L1490.7 551.9 L1491.1 520.9 L1491.6 499.9 L1492.0 481.9Z M1509.2 481.9 L1509.8 499.9 L1510.2 520.9 L1510.7 551.9 L1511.5 579.9 L1512.2 606.9 L1512.7 631.9 L1513.1 661.9 L1513.2 731.7 L1517.6 731.7 L1517.7 670.1 L1518.0 640.1 L1518.5 615.1 L1519.1 588.1 L1519.7 560.1 L1520.1 529.1 L1520.5 508.1 L1521.0 490.1Z M1538.0 490.1 L1538.5 508.1 L1539.0 529.1 L1539.5 560.1 L1540.3 588.1 L1541.0 615.1 L1541.5 640.1 L1541.9 670.1 L1542.0 757.5 L1546.6 757.5 L1546.7 707.8 L1547.0 677.8 L1547.5 652.8 L1548.1 625.8 L1548.8 597.8 L1549.3 566.8 L1549.7 545.8 L1550.2 527.8Z M1567.5 527.8 L1568.0 545.8 L1568.4 566.8 L1568.9 597.8 L1569.6 625.8 L1570.3 652.8 L1570.8 677.8 L1571.2 707.8 L1571.3 774.6 L1575.7 774.6 L1575.8 715.9 L1576.2 685.9 L1576.7 660.9 L1577.3 633.9 L1578.0 605.9 L1578.4 574.9 L1578.8 553.9 L1579.3 535.9Z M1596.1 535.9 L1596.6 553.9 L1597.0 574.9 L1597.5 605.9 L1598.2 633.9 L1598.8 660.9 L1599.3 685.9 L1599.7 715.9 L1599.8 813.0 L1604.2 813.0 L1604.3 732.8 L1604.6 702.8 L1605.1 677.8 L1605.7 650.8 L1606.4 622.8 L1606.9 591.8 L1607.3 570.8 L1607.8 552.8Z M1625.1 552.8 L1625.6 570.8 L1626.0 591.8 L1626.5 622.8 L1627.2 650.8 L1627.9 677.8 L1628.4 702.8 L1628.8 732.8 L1628.9 828.0 L1633.3 828.0 L1633.4 768.1 L1633.7 738.1 L1634.2 713.1 L1634.8 686.1 L1635.5 658.1 L1635.9 627.1 L1636.3 606.1 L1636.8 588.1Z M1654.1 588.1 L1654.7 606.1 L1655.2 627.1 L1655.7 658.1 L1656.4 686.1 L1657.1 713.1 L1657.7 738.1 L1658.1 768.1 L1658.2 828.0 L1662.6 828.0 L1662.7 797.8 L1663.0 767.8 L1663.4 742.8 L1664.0 715.8 L1664.7 687.8 L1665.1 656.8 L1665.5 635.8 L1665.9 617.8Z M1683.0 617.8 L1683.5 635.8 L1684.0 656.8 L1684.5 687.8 L1685.3 715.8 L1686.0 742.8 L1686.6 767.8 L1687.0 797.8 L1687.1 828.0 L1689.0 828.0 L1689.0 617.8Z" fill="#3698de" fill-opacity="0.12" stroke="none"/>
<path d="M294.0 691.5 L294.0 828.0 L306.8 828.0 L306.9 729.5 L307.3 711.5 L307.8 696.5 L308.0 691.5Z M330.4 691.5 L330.6 696.5 L331.1 711.5 L331.5 729.5 L331.6 828.0 L335.8 828.0 L335.9 758.5 L336.2 740.5 L336.7 725.5 L336.9 720.5Z M358.4 720.5 L358.6 725.5 L359.1 740.5 L359.4 758.5 L359.5 828.0 L364.3 828.0 L364.4 714.5 L364.8 696.5 L365.3 681.5 L365.5 676.5Z M387.9 676.5 L388.1 681.5 L388.5 696.5 L388.8 714.5 L388.9 828.0 L393.2 828.0 L393.3 662.3 L393.7 644.3 L394.2 629.3 L394.5 624.3Z M416.3 624.3 L416.5 629.3 L417.0 644.3 L417.3 662.3 L417.4 828.0 L421.7 828.0 L421.8 624.2 L422.1 606.2 L422.6 591.2 L422.8 586.2Z M444.9 586.2 L445.1 591.2 L445.5 606.2 L445.9 624.2 L446.0 803.0 L450.4 803.0 L450.5 655.0 L450.9 632.5 L451.4 613.8 L452.1 593.5 L452.8 575.0Z M472.9 575.0 L473.5 593.5 L474.2 613.8 L474.6 632.5 L475.0 655.0 L475.1 780.6 L479.3 780.6 L479.4 691.4 L479.7 665.0 L480.2 643.0 L480.8 619.2 L481.5 594.6 L481.8 575.0Z M500.9 575.0 L501.2 594.6 L502.0 619.2 L502.6 643.0 L503.2 665.0 L503.5 691.4 L503.6 808.0 L507.9 808.0 L508.0 727.2 L508.4 697.2 L508.8 672.2 L509.4 645.2 L510.1 617.2 L510.5 586.2 L510.7 577.2Z M528.7 577.2 L528.9 586.2 L529.3 617.2 L530.0 645.2 L530.7 672.2 L531.2 697.2 L531.6 727.2 L531.7 762.7 L536.1 762.7 L536.2 677.2 L536.6 647.2 L537.1 622.2 L537.8 595.2 L538.5 567.2 L539.0 536.2 L539.1 527.2Z M557.7 527.2 L557.9 536.2 L558.4 567.2 L559.1 595.2 L559.7 622.2 L560.2 647.2 L560.5 677.2 L560.6 716.8 L565.0 716.8 L565.1 646.5 L565.5 616.5 L566.0 591.5 L566.7 564.5 L567.4 536.5 L567.9 505.5 L568.0 496.5Z M587.5 496.5 L587.7 505.5 L588.2 536.5 L588.9 564.5 L589.6 591.5 L590.1 616.5 L590.5 646.5 L590.6 700.0 L595.2 700.0 L595.3 636.9 L595.6 606.9 L596.1 581.9 L596.8 554.9 L597.5 526.9 L597.9 495.9 L598.1 486.9Z M616.6 486.9 L616.8 495.9 L617.2 526.9 L617.9 554.9 L618.6 581.9 L619.1 606.9 L619.4 636.9 L619.5 688.8 L623.8 688.8 L623.9 629.0 L624.2 599.0 L624.7 574.0 L625.3 547.0 L626.0 519.0 L626.4 488.0 L626.6 479.0Z M644.6 479.0 L644.8 488.0 L645.2 519.0 L645.9 547.0 L646.6 574.0 L647.1 599.0 L647.4 629.0 L647.5 693.2 L651.9 693.2 L652.0 638.0 L652.3 608.0 L652.8 583.0 L653.4 556.0 L654.1 528.0 L654.5 497.0 L654.7 488.0Z M672.8 488.0 L673.0 497.0 L673.4 528.0 L674.1 556.0 L674.7 583.0 L675.2 608.0 L675.6 638.0 L675.7 685.2 L680.2 685.2 L680.3 612.2 L680.7 582.2 L681.3 557.2 L682.0 530.2 L682.7 502.2 L683.2 471.2 L683.4 462.2Z M702.3 462.2 L702.5 471.2 L702.9 502.2 L703.5 530.2 L704.1 557.2 L704.6 582.2 L704.9 612.2 L705.0 660.3 L709.3 660.3 L709.4 593.2 L709.8 563.2 L710.3 538.2 L710.9 511.2 L711.6 483.2 L712.1 452.2 L712.3 443.2Z M731.0 443.2 L731.2 452.2 L731.6 483.2 L732.3 511.2 L733.0 538.2 L733.5 563.2 L733.9 593.2 L734.0 650.2 L738.3 650.2 L738.4 587.5 L738.7 557.5 L739.2 532.5 L739.8 505.5 L740.5 477.5 L740.9 446.5 L741.1 437.5Z M759.1 437.5 L759.3 446.5 L759.8 477.5 L760.5 505.5 L761.1 532.5 L761.6 557.5 L761.9 587.5 L762.0 640.1 L766.4 640.1 L766.5 574.1 L766.9 544.1 L767.4 519.1 L768.0 492.1 L768.7 464.1 L769.2 433.1 L769.4 424.1Z M788.1 424.1 L788.3 433.1 L788.7 464.1 L789.4 492.1 L790.1 519.1 L790.6 544.1 L791.0 574.1 L791.1 632.3 L795.5 632.3 L795.6 580.8 L796.0 550.8 L796.5 525.8 L797.2 498.8 L797.9 470.8 L798.3 439.8 L798.5 430.8Z M817.5 430.8 L817.7 439.8 L818.2 470.8 L818.9 498.8 L819.6 525.8 L820.1 550.8 L820.5 580.8 L820.6 633.4 L825.1 633.4 L825.2 569.5 L825.6 539.5 L826.1 514.5 L826.8 487.5 L827.5 459.5 L827.9 428.5 L828.1 419.5Z M846.6 419.5 L846.8 428.5 L847.2 459.5 L847.9 487.5 L848.5 514.5 L849.0 539.5 L849.3 569.5 L849.4 620.0 L853.8 620.0 L853.9 555.1 L854.2 525.1 L854.7 500.1 L855.3 473.1 L856.0 445.1 L856.4 414.1 L856.6 405.1Z M874.6 405.1 L874.8 414.1 L875.3 445.1 L875.9 473.1 L876.6 500.1 L877.0 525.1 L877.4 555.1 L877.5 602.7 L881.7 602.7 L881.8 534.5 L882.2 504.5 L882.6 479.5 L883.3 452.5 L883.9 424.5 L884.4 393.5 L884.6 384.5Z M903.0 384.5 L903.2 393.5 L903.7 424.5 L904.4 452.5 L905.1 479.5 L905.6 504.5 L905.9 534.5 L906.0 597.6 L910.5 597.6 L910.6 544.5 L911.0 514.5 L911.5 489.5 L912.1 462.5 L912.8 434.5 L913.3 403.5 L913.5 394.5Z M932.2 394.5 L932.4 403.5 L932.8 434.5 L933.5 462.5 L934.2 489.5 L934.7 514.5 L935.1 544.5 L935.2 606.5 L939.6 606.5 L939.7 550.8 L940.0 520.8 L940.5 495.8 L941.1 468.8 L941.8 440.8 L942.2 409.8 L942.4 400.8Z M960.8 400.8 L960.9 409.8 L961.4 440.8 L962.1 468.8 L962.8 495.8 L963.2 520.8 L963.6 550.8 L963.7 603.2 L968.2 603.2 L968.3 540.7 L968.7 510.7 L969.2 485.7 L969.9 458.7 L970.6 430.7 L971.1 399.7 L971.3 390.7Z M990.0 390.7 L990.2 399.7 L990.7 430.7 L991.3 458.7 L992.0 485.7 L992.4 510.7 L992.8 540.7 L992.9 591.5 L997.3 591.5 L997.4 533.5 L997.7 503.5 L998.2 478.5 L998.9 451.5 L999.6 423.5 L1000.1 392.5 L1000.3 383.5Z M1019.0 383.5 L1019.2 392.5 L1019.6 423.5 L1020.3 451.5 L1021.0 478.5 L1021.5 503.5 L1021.8 533.5 L1021.9 591.5 L1026.3 591.5 L1026.4 534.0 L1026.8 504.0 L1027.2 479.0 L1027.9 452.0 L1028.6 424.0 L1029.0 393.0 L1029.2 384.0Z M1047.4 384.0 L1047.6 393.0 L1048.1 424.0 L1048.7 452.0 L1049.4 479.0 L1049.8 504.0 L1050.2 534.0 L1050.3 589.5 L1054.6 589.5 L1054.7 531.5 L1055.1 501.5 L1055.6 476.5 L1056.3 449.5 L1057.0 421.5 L1057.4 390.5 L1057.6 381.5Z M1076.3 381.5 L1076.5 390.5 L1077.0 421.5 L1077.7 449.5 L1078.3 476.5 L1078.8 501.5 L1079.2 531.5 L1079.3 589.7 L1083.7 589.7 L1083.8 537.3 L1084.2 507.3 L1084.7 482.3 L1085.3 455.3 L1086.0 427.3 L1086.5 396.3 L1086.7 387.3Z M1105.1 387.3 L1105.3 396.3 L1105.7 427.3 L1106.4 455.3 L1107.0 482.3 L1107.5 507.3 L1107.8 537.3 L1107.9 596.0 L1112.4 596.0 L1112.5 543.6 L1112.9 513.6 L1113.4 488.6 L1114.1 461.6 L1114.8 433.6 L1115.3 402.6 L1115.5 393.6Z M1133.8 393.6 L1134.0 402.6 L1134.4 433.6 L1135.1 461.6 L1135.7 488.6 L1136.1 513.6 L1136.5 543.6 L1136.6 601.0 L1140.9 601.0 L1141.0 537.3 L1141.4 507.3 L1141.9 482.3 L1142.6 455.3 L1143.3 427.3 L1143.8 396.3 L1144.0 387.3Z M1163.2 387.3 L1163.3 396.3 L1163.8 427.3 L1164.5 455.3 L1165.2 482.3 L1165.7 507.3 L1166.1 537.3 L1166.2 596.4 L1170.6 596.4 L1170.7 538.5 L1171.0 508.5 L1171.5 483.5 L1172.2 456.5 L1172.9 428.5 L1173.4 397.5 L1173.5 388.5Z M1192.1 388.5 L1192.3 397.5 L1192.8 428.5 L1193.5 456.5 L1194.1 483.5 L1194.6 508.5 L1195.0 538.5 L1195.1 602.0 L1199.5 602.0 L1199.6 548.5 L1200.0 518.5 L1200.5 493.5 L1201.2 466.5 L1201.9 438.5 L1202.4 407.5 L1202.5 398.5Z M1221.0 398.5 L1221.2 407.5 L1221.6 438.5 L1222.3 466.5 L1222.9 493.5 L1223.4 518.5 L1223.8 548.5 L1223.9 611.0 L1228.2 611.0 L1228.3 551.9 L1228.6 521.9 L1229.1 496.9 L1229.7 469.9 L1230.4 441.9 L1230.9 410.9 L1231.1 401.9Z M1249.8 401.9 L1250.0 410.9 L1250.4 441.9 L1251.2 469.9 L1251.8 496.9 L1252.4 521.9 L1252.7 551.9 L1252.8 617.7 L1257.3 617.7 L1257.4 567.5 L1257.7 537.5 L1258.2 512.5 L1258.8 485.5 L1259.5 457.5 L1260.0 426.5 L1260.2 417.5Z M1278.2 417.5 L1278.4 426.5 L1278.8 457.5 L1279.5 485.5 L1280.1 512.5 L1280.6 537.5 L1280.9 567.5 L1281.0 623.3 L1285.3 623.3 L1285.4 556.2 L1285.8 526.2 L1286.3 501.2 L1287.0 474.2 L1287.7 446.2 L1288.1 415.2 L1288.3 406.2Z M1307.1 406.2 L1307.3 415.2 L1307.7 446.2 L1308.4 474.2 L1309.1 501.2 L1309.6 526.2 L1310.0 556.2 L1310.1 627.8 L1314.5 627.8 L1314.6 575.5 L1314.9 545.5 L1315.4 520.5 L1316.1 493.5 L1316.8 465.5 L1317.2 434.5 L1317.4 425.5Z M1335.7 425.5 L1335.9 434.5 L1336.3 465.5 L1337.0 493.5 L1337.6 520.5 L1338.1 545.5 L1338.4 575.5 L1338.5 635.6 L1342.9 635.6 L1343.0 577.9 L1343.4 547.9 L1343.9 522.9 L1344.6 495.9 L1345.3 467.9 L1345.7 436.9 L1345.9 427.9Z M1365.1 427.9 L1365.3 436.9 L1365.8 467.9 L1366.5 495.9 L1367.2 522.9 L1367.7 547.9 L1368.1 577.9 L1368.2 647.5 L1372.7 647.5 L1372.8 591.3 L1373.1 561.3 L1373.6 536.3 L1374.2 509.3 L1374.9 481.3 L1375.4 450.3 L1375.6 441.3Z M1394.3 441.3 L1394.5 450.3 L1394.9 481.3 L1395.7 509.3 L1396.3 536.3 L1396.9 561.3 L1397.2 591.3 L1397.3 664.0 L1401.8 664.0 L1401.9 611.3 L1402.3 581.3 L1402.8 556.3 L1403.4 529.3 L1404.1 501.3 L1404.6 470.3 L1404.8 461.3Z M1423.2 461.3 L1423.4 470.3 L1423.8 501.3 L1424.5 529.3 L1425.1 556.3 L1425.6 581.3 L1425.9 611.3 L1426.0 676.2 L1430.4 676.2 L1430.5 614.9 L1430.8 584.9 L1431.3 559.9 L1431.9 532.9 L1432.6 504.9 L1433.1 473.9 L1433.3 464.9Z M1452.0 464.9 L1452.2 473.9 L1452.7 504.9 L1453.4 532.9 L1454.1 559.9 L1454.6 584.9 L1455.0 614.9 L1455.1 683.0 L1459.6 683.0 L1459.7 629.0 L1460.0 599.0 L1460.5 574.0 L1461.2 547.0 L1461.9 519.0 L1462.4 488.0 L1462.5 479.0Z M1481.2 479.0 L1481.4 488.0 L1481.9 519.0 L1482.6 547.0 L1483.3 574.0 L1483.8 599.0 L1484.2 629.0 L1484.3 700.4 L1488.6 700.4 L1488.7 661.9 L1489.0 631.9 L1489.5 606.9 L1490.1 579.9 L1490.7 551.9 L1491.1 520.9 L1491.3 511.9Z M1510.0 511.9 L1510.2 520.9 L1510.7 551.9 L1511.5 579.9 L1512.2 606.9 L1512.7 631.9 L1513.1 661.9 L1513.2 731.7 L1517.6 731.7 L1517.7 670.1 L1518.0 640.1 L1518.5 615.1 L1519.1 588.1 L1519.7 560.1 L1520.1 529.1 L1520.3 520.1Z M1538.8 520.1 L1539.0 529.1 L1539.5 560.1 L1540.3 588.1 L1541.0 615.1 L1541.5 640.1 L1541.9 670.1 L1542.0 757.5 L1546.6 757.5 L1546.7 707.8 L1547.0 677.8 L1547.5 652.8 L1548.1 625.8 L1548.8 597.8 L1549.3 566.8 L1549.5 557.8Z M1568.2 557.8 L1568.4 566.8 L1568.9 597.8 L1569.6 625.8 L1570.3 652.8 L1570.8 677.8 L1571.2 707.8 L1571.3 774.6 L1575.7 774.6 L1575.8 715.9 L1576.2 685.9 L1576.7 660.9 L1577.3 633.9 L1578.0 605.9 L1578.4 574.9 L1578.6 565.9Z M1596.9 565.9 L1597.0 574.9 L1597.5 605.9 L1598.2 633.9 L1598.8 660.9 L1599.3 685.9 L1599.7 715.9 L1599.8 813.0 L1604.2 813.0 L1604.3 732.8 L1604.6 702.8 L1605.1 677.8 L1605.7 650.8 L1606.4 622.8 L1606.9 591.8 L1607.1 582.8Z M1625.8 582.8 L1626.0 591.8 L1626.5 622.8 L1627.2 650.8 L1627.9 677.8 L1628.4 702.8 L1628.8 732.8 L1628.9 828.0 L1633.3 828.0 L1633.4 768.1 L1633.7 738.1 L1634.2 713.1 L1634.8 686.1 L1635.5 658.1 L1635.9 627.1 L1636.1 618.1Z M1655.0 618.1 L1655.2 627.1 L1655.7 658.1 L1656.4 686.1 L1657.1 713.1 L1657.7 738.1 L1658.1 768.1 L1658.2 828.0 L1662.6 828.0 L1662.7 797.8 L1663.0 767.8 L1663.4 742.8 L1664.0 715.8 L1664.7 687.8 L1665.1 656.8 L1665.2 647.8Z M1683.8 647.8 L1684.0 656.8 L1684.5 687.8 L1685.3 715.8 L1686.0 742.8 L1686.6 767.8 L1687.0 797.8 L1687.1 828.0 L1689.0 828.0 L1689.0 647.8Z" fill="#3698de" fill-opacity="0.18" stroke="none"/>
<path d="M294.0 721.5 L294.0 828.0 L306.8 828.0 L306.9 729.5 L307.1 721.5Z M331.3 721.5 L331.5 729.5 L331.6 828.0 L335.8 828.0 L335.9 758.5 L336.1 750.5Z M359.3 750.5 L359.4 758.5 L359.5 828.0 L364.3 828.0 L364.4 714.5 L364.5 706.5Z M388.7 706.5 L388.8 714.5 L388.9 828.0 L393.2 828.0 L393.3 662.3 L393.5 654.3Z M417.1 654.3 L417.3 662.3 L417.4 828.0 L421.7 828.0 L421.8 624.2 L421.9 616.2Z M445.7 616.2 L445.9 624.2 L446.0 803.0 L450.4 803.0 L450.5 655.0 L450.9 632.5 L451.4 613.8 L451.7 605.0Z M473.9 605.0 L474.2 613.8 L474.6 632.5 L475.0 655.0 L475.1 780.6 L479.3 780.6 L479.4 691.4 L479.7 665.0 L480.2 643.0 L480.8 619.2 L481.2 605.0Z M501.5 605.0 L502.0 619.2 L502.6 643.0 L503.2 665.0 L503.5 691.4 L503.6 808.0 L507.9 808.0 L508.0 727.2 L508.4 697.2 L508.8 672.2 L509.4 645.2 L510.1 617.2 L510.2 607.2Z M529.2 607.2 L529.3 617.2 L530.0 645.2 L530.7 672.2 L531.2 697.2 L531.6 727.2 L531.7 762.7 L536.1 762.7 L536.2 677.2 L536.6 647.2 L537.1 622.2 L537.8 595.2 L538.5 567.2 L538.6 557.2Z M558.2 557.2 L558.4 567.2 L559.1 595.2 L559.7 622.2 L560.2 647.2 L560.5 677.2 L560.6 716.8 L565.0 716.8 L565.1 646.5 L565.5 616.5 L566.0 591.5 L566.7 564.5 L567.4 536.5 L567.5 526.5Z M588.0 526.5 L588.2 536.5 L588.9 564.5 L589.6 591.5 L590.1 616.5 L590.5 646.5 L590.6 700.0 L595.2 700.0 L595.3 636.9 L595.6 606.9 L596.1 581.9 L596.8 554.9 L597.5 526.9 L597.6 516.9Z M617.1 516.9 L617.2 526.9 L617.9 554.9 L618.6 581.9 L619.1 606.9 L619.4 636.9 L619.5 688.8 L623.8 688.8 L623.9 629.0 L624.2 599.0 L624.7 574.0 L625.3 547.0 L626.0 519.0 L626.1 509.0Z M645.1 509.0 L645.2 519.0 L645.9 547.0 L646.6 574.0 L647.1 599.0 L647.4 629.0 L647.5 693.2 L651.9 693.2 L652.0 638.0 L652.3 608.0 L652.8 583.0 L653.4 556.0 L654.1 528.0 L654.2 518.0Z M673.3 518.0 L673.4 528.0 L674.1 556.0 L674.7 583.0 L675.2 608.0 L675.6 638.0 L675.7 685.2 L680.2 685.2 L680.3 612.2 L680.7 582.2 L681.3 557.2 L682.0 530.2 L682.7 502.2 L682.9 492.2Z M702.7 492.2 L702.9 502.2 L703.5 530.2 L704.1 557.2 L704.6 582.2 L704.9 612.2 L705.0 660.3 L709.3 660.3 L709.4 593.2 L709.8 563.2 L710.3 538.2 L710.9 511.2 L711.6 483.2 L711.8 473.2Z M731.5 473.2 L731.6 483.2 L732.3 511.2 L733.0 538.2 L733.5 563.2 L733.9 593.2 L734.0 650.2 L738.3 650.2 L738.4 587.5 L738.7 557.5 L739.2 532.5 L739.8 505.5 L740.5 477.5 L740.7 467.5Z M759.6 467.5 L759.8 477.5 L760.5 505.5 L761.1 532.5 L761.6 557.5 L761.9 587.5 L762.0 640.1 L766.4 640.1 L766.5 574.1 L766.9 544.1 L767.4 519.1 L768.0 492.1 L768.7 464.1 L768.9 454.1Z M788.6 454.1 L788.7 464.1 L789.4 492.1 L790.1 519.1 L790.6 544.1 L791.0 574.1 L791.1 632.3 L795.5 632.3 L795.6 580.8 L796.0 550.8 L796.5 525.8 L797.2 498.8 L797.9 470.8 L798.0 460.8Z M818.1 460.8 L818.2 470.8 L818.9 498.8 L819.6 525.8 L820.1 550.8 L820.5 580.8 L820.6 633.4 L825.1 633.4 L825.2 569.5 L825.6 539.5 L826.1 514.5 L826.8 487.5 L827.5 459.5 L827.6 449.5Z M847.1 449.5 L847.2 459.5 L847.9 487.5 L848.5 514.5 L849.0 539.5 L849.3 569.5 L849.4 620.0 L853.8 620.0 L853.9 555.1 L854.2 525.1 L854.7 500.1 L855.3 473.1 L856.0 445.1 L856.1 435.1Z M875.1 435.1 L875.3 445.1 L875.9 473.1 L876.6 500.1 L877.0 525.1 L877.4 555.1 L877.5 602.7 L881.7 602.7 L881.8 534.5 L882.2 504.5 L882.6 479.5 L883.3 452.5 L883.9 424.5 L884.1 414.5Z M903.5 414.5 L903.7 424.5 L904.4 452.5 L905.1 479.5 L905.6 504.5 L905.9 534.5 L906.0 597.6 L910.5 597.6 L910.6 544.5 L911.0 514.5 L911.5 489.5 L912.1 462.5 L912.8 434.5 L913.0 424.5Z M932.7 424.5 L932.8 434.5 L933.5 462.5 L934.2 489.5 L934.7 514.5 L935.1 544.5 L935.2 606.5 L939.6 606.5 L939.7 550.8 L940.0 520.8 L940.5 495.8 L941.1 468.8 L941.8 440.8 L941.9 430.8Z M961.3 430.8 L961.4 440.8 L962.1 468.8 L962.8 495.8 L963.2 520.8 L963.6 550.8 L963.7 603.2 L968.2 603.2 L968.3 540.7 L968.7 510.7 L969.2 485.7 L969.9 458.7 L970.6 430.7 L970.8 420.7Z M990.5 420.7 L990.7 430.7 L991.3 458.7 L992.0 485.7 L992.4 510.7 L992.8 540.7 L992.9 591.5 L997.3 591.5 L997.4 533.5 L997.7 503.5 L998.2 478.5 L998.9 451.5 L999.6 423.5 L999.8 413.5Z M1019.5 413.5 L1019.6 423.5 L1020.3 451.5 L1021.0 478.5 L1021.5 503.5 L1021.8 533.5 L1021.9 591.5 L1026.3 591.5 L1026.4 534.0 L1026.8 504.0 L1027.2 479.0 L1027.9 452.0 L1028.6 424.0 L1028.7 414.0Z M1047.9 414.0 L1048.1 424.0 L1048.7 452.0 L1049.4 479.0 L1049.8 504.0 L1050.2 534.0 L1050.3 589.5 L1054.6 589.5 L1054.7 531.5 L1055.1 501.5 L1055.6 476.5 L1056.3 449.5 L1057.0 421.5 L1057.1 411.5Z M1076.8 411.5 L1077.0 421.5 L1077.7 449.5 L1078.3 476.5 L1078.8 501.5 L1079.2 531.5 L1079.3 589.7 L1083.7 589.7 L1083.8 537.3 L1084.2 507.3 L1084.7 482.3 L1085.3 455.3 L1086.0 427.3 L1086.2 417.3Z M1105.6 417.3 L1105.7 427.3 L1106.4 455.3 L1107.0 482.3 L1107.5 507.3 L1107.8 537.3 L1107.9 596.0 L1112.4 596.0 L1112.5 543.6 L1112.9 513.6 L1113.4 488.6 L1114.1 461.6 L1114.8 433.6 L1115.0 423.6Z M1134.3 423.6 L1134.4 433.6 L1135.1 461.6 L1135.7 488.6 L1136.1 513.6 L1136.5 543.6 L1136.6 601.0 L1140.9 601.0 L1141.0 537.3 L1141.4 507.3 L1141.9 482.3 L1142.6 455.3 L1143.3 427.3 L1143.5 417.3Z M1163.7 417.3 L1163.8 427.3 L1164.5 455.3 L1165.2 482.3 L1165.7 507.3 L1166.1 537.3 L1166.2 596.4 L1170.6 596.4 L1170.7 538.5 L1171.0 508.5 L1171.5 483.5 L1172.2 456.5 L1172.9 428.5 L1173.0 418.5Z M1192.6 418.5 L1192.8 428.5 L1193.5 456.5 L1194.1 483.5 L1194.6 508.5 L1195.0 538.5 L1195.1 602.0 L1199.5 602.0 L1199.6 548.5 L1200.0 518.5 L1200.5 493.5 L1201.2 466.5 L1201.9 438.5 L1202.0 428.5Z M1221.5 428.5 L1221.6 438.5 L1222.3 466.5 L1222.9 493.5 L1223.4 518.5 L1223.8 548.5 L1223.9 611.0 L1228.2 611.0 L1228.3 551.9 L1228.6 521.9 L1229.1 496.9 L1229.7 469.9 L1230.4 441.9 L1230.6 431.9Z M1250.3 431.9 L1250.4 441.9 L1251.2 469.9 L1251.8 496.9 L1252.4 521.9 L1252.7 551.9 L1252.8 617.7 L1257.3 617.7 L1257.4 567.5 L1257.7 537.5 L1258.2 512.5 L1258.8 485.5 L1259.5 457.5 L1259.7 447.5Z M1278.6 447.5 L1278.8 457.5 L1279.5 485.5 L1280.1 512.5 L1280.6 537.5 L1280.9 567.5 L1281.0 623.3 L1285.3 623.3 L1285.4 556.2 L1285.8 526.2 L1286.3 501.2 L1287.0 474.2 L1287.7 446.2 L1287.8 436.2Z M1307.6 436.2 L1307.7 446.2 L1308.4 474.2 L1309.1 501.2 L1309.6 526.2 L1310.0 556.2 L1310.1 627.8 L1314.5 627.8 L1314.6 575.5 L1314.9 545.5 L1315.4 520.5 L1316.1 493.5 L1316.8 465.5 L1316.9 455.5Z M1336.2 455.5 L1336.3 465.5 L1337.0 493.5 L1337.6 520.5 L1338.1 545.5 L1338.4 575.5 L1338.5 635.6 L1342.9 635.6 L1343.0 577.9 L1343.4 547.9 L1343.9 522.9 L1344.6 495.9 L1345.3 467.9 L1345.4 457.9Z M1365.6 457.9 L1365.8 467.9 L1366.5 495.9 L1367.2 522.9 L1367.7 547.9 L1368.1 577.9 L1368.2 647.5 L1372.7 647.5 L1372.8 591.3 L1373.1 561.3 L1373.6 536.3 L1374.2 509.3 L1374.9 481.3 L1375.1 471.3Z M1394.8 471.3 L1394.9 481.3 L1395.7 509.3 L1396.3 536.3 L1396.9 561.3 L1397.2 591.3 L1397.3 664.0 L1401.8 664.0 L1401.9 611.3 L1402.3 581.3 L1402.8 556.3 L1403.4 529.3 L1404.1 501.3 L1404.3 491.3Z M1423.7 491.3 L1423.8 501.3 L1424.5 529.3 L1425.1 556.3 L1425.6 581.3 L1425.9 611.3 L1426.0 676.2 L1430.4 676.2 L1430.5 614.9 L1430.8 584.9 L1431.3 559.9 L1431.9 532.9 L1432.6 504.9 L1432.8 494.9Z M1452.6 494.9 L1452.7 504.9 L1453.4 532.9 L1454.1 559.9 L1454.6 584.9 L1455.0 614.9 L1455.1 683.0 L1459.6 683.0 L1459.7 629.0 L1460.0 599.0 L1460.5 574.0 L1461.2 547.0 L1461.9 519.0 L1462.0 509.0Z M1481.8 509.0 L1481.9 519.0 L1482.6 547.0 L1483.3 574.0 L1483.8 599.0 L1484.2 629.0 L1484.3 700.4 L1488.6 700.4 L1488.7 661.9 L1489.0 631.9 L1489.5 606.9 L1490.1 579.9 L1490.7 551.9 L1490.9 541.9Z M1510.6 541.9 L1510.7 551.9 L1511.5 579.9 L1512.2 606.9 L1512.7 631.9 L1513.1 661.9 L1513.2 731.7 L1517.6 731.7 L1517.7 670.1 L1518.0 640.1 L1518.5 615.1 L1519.1 588.1 L1519.7 560.1 L1519.9 550.1Z M1539.4 550.1 L1539.5 560.1 L1540.3 588.1 L1541.0 615.1 L1541.5 640.1 L1541.9 670.1 L1542.0 757.5 L1546.6 757.5 L1546.7 707.8 L1547.0 677.8 L1547.5 652.8 L1548.1 625.8 L1548.8 597.8 L1549.0 587.8Z M1568.8 587.8 L1568.9 597.8 L1569.6 625.8 L1570.3 652.8 L1570.8 677.8 L1571.2 707.8 L1571.3 774.6 L1575.7 774.6 L1575.8 715.9 L1576.2 685.9 L1576.7 660.9 L1577.3 633.9 L1578.0 605.9 L1578.1 595.9Z M1597.4 595.9 L1597.5 605.9 L1598.2 633.9 L1598.8 660.9 L1599.3 685.9 L1599.7 715.9 L1599.8 813.0 L1604.2 813.0 L1604.3 732.8 L1604.6 702.8 L1605.1 677.8 L1605.7 650.8 L1606.4 622.8 L1606.6 612.8Z M1626.4 612.8 L1626.5 622.8 L1627.2 650.8 L1627.9 677.8 L1628.4 702.8 L1628.8 732.8 L1628.9 828.0 L1633.3 828.0 L1633.4 768.1 L1633.7 738.1 L1634.2 713.1 L1634.8 686.1 L1635.5 658.1 L1635.6 648.1Z M1655.5 648.1 L1655.7 658.1 L1656.4 686.1 L1657.1 713.1 L1657.7 738.1 L1658.1 768.1 L1658.2 828.0 L1662.6 828.0 L1662.7 797.8 L1663.0 767.8 L1663.4 742.8 L1664.0 715.8 L1664.7 687.8 L1664.8 677.8Z M1684.4 677.8 L1684.5 687.8 L1685.3 715.8 L1686.0 742.8 L1686.6 767.8 L1687.0 797.8 L1687.1 828.0 L1689.0 828.0 L1689.0 677.8Z" fill="#3698de" fill-opacity="0.3" stroke="none"/>
<path d="M294.0 756.5 L294.0 828.0 L306.8 828.0 L306.9 756.5Z M331.5 756.5 L331.6 828.0 L335.8 828.0 L335.9 785.5Z M359.5 785.5 L359.5 828.0 L364.3 828.0 L364.3 741.5Z M388.8 741.5 L388.9 828.0 L393.2 828.0 L393.3 689.3Z M417.3 689.3 L417.4 828.0 L421.7 828.0 L421.8 651.2Z M445.9 651.2 L446.0 803.0 L450.4 803.0 L450.5 655.0 L450.8 640.0Z M474.8 640.0 L475.0 655.0 L475.1 780.6 L479.3 780.6 L479.4 691.4 L479.7 665.0 L480.2 643.0 L480.3 640.0Z M502.6 640.0 L502.6 643.0 L503.2 665.0 L503.5 691.4 L503.6 808.0 L507.9 808.0 L508.0 727.2 L508.4 697.2 L508.8 672.2 L509.4 645.2 L509.5 642.2Z M530.0 642.2 L530.0 645.2 L530.7 672.2 L531.2 697.2 L531.6 727.2 L531.7 762.7 L536.1 762.7 L536.2 677.2 L536.6 647.2 L537.1 622.2 L537.8 595.2 L537.9 592.2Z M559.0 592.2 L559.1 595.2 L559.7 622.2 L560.2 647.2 L560.5 677.2 L560.6 716.8 L565.0 716.8 L565.1 646.5 L565.5 616.5 L566.0 591.5 L566.7 564.5 L566.8 561.5Z M588.8 561.5 L588.9 564.5 L589.6 591.5 L590.1 616.5 L590.5 646.5 L590.6 700.0 L595.2 700.0 L595.3 636.9 L595.6 606.9 L596.1 581.9 L596.8 554.9 L596.8 551.9Z M617.8 551.9 L617.9 554.9 L618.6 581.9 L619.1 606.9 L619.4 636.9 L619.5 688.8 L623.8 688.8 L623.9 629.0 L624.2 599.0 L624.7 574.0 L625.3 547.0 L625.4 544.0Z M645.8 544.0 L645.9 547.0 L646.6 574.0 L647.1 599.0 L647.4 629.0 L647.5 693.2 L651.9 693.2 L652.0 638.0 L652.3 608.0 L652.8 583.0 L653.4 556.0 L653.5 553.0Z M674.0 553.0 L674.1 556.0 L674.7 583.0 L675.2 608.0 L675.6 638.0 L675.7 685.2 L680.2 685.2 L680.3 612.2 L680.7 582.2 L681.3 557.2 L682.0 530.2 L682.1 527.2Z M703.5 527.2 L703.5 530.2 L704.1 557.2 L704.6 582.2 L704.9 612.2 L705.0 660.3 L709.3 660.3 L709.4 593.2 L709.8 563.2 L710.3 538.2 L710.9 511.2 L711.0 508.2Z M732.3 508.2 L732.3 511.2 L733.0 538.2 L733.5 563.2 L733.9 593.2 L734.0 650.2 L738.3 650.2 L738.4 587.5 L738.7 557.5 L739.2 532.5 L739.8 505.5 L739.9 502.5Z M760.4 502.5 L760.5 505.5 L761.1 532.5 L761.6 557.5 L761.9 587.5 L762.0 640.1 L766.4 640.1 L766.5 574.1 L766.9 544.1 L767.4 519.1 L768.0 492.1 L768.1 489.1Z M789.4 489.1 L789.4 492.1 L790.1 519.1 L790.6 544.1 L791.0 574.1 L791.1 632.3 L795.5 632.3 L795.6 580.8 L796.0 550.8 L796.5 525.8 L797.2 498.8 L797.2 495.8Z M818.9 495.8 L818.9 498.8 L819.6 525.8 L820.1 550.8 L820.5 580.8 L820.6 633.4 L825.1 633.4 L825.2 569.5 L825.6 539.5 L826.1 514.5 L826.8 487.5 L826.8 484.5Z M847.8 484.5 L847.9 487.5 L848.5 514.5 L849.0 539.5 L849.3 569.5 L849.4 620.0 L853.8 620.0 L853.9 555.1 L854.2 525.1 L854.7 500.1 L855.3 473.1 L855.4 470.1Z M875.9 470.1 L875.9 473.1 L876.6 500.1 L877.0 525.1 L877.4 555.1 L877.5 602.7 L881.7 602.7 L881.8 534.5 L882.2 504.5 L882.6 479.5 L883.3 452.5 L883.3 449.5Z M904.3 449.5 L904.4 452.5 L905.1 479.5 L905.6 504.5 L905.9 534.5 L906.0 597.6 L910.5 597.6 L910.6 544.5 L911.0 514.5 L911.5 489.5 L912.1 462.5 L912.2 459.5Z M933.5 459.5 L933.5 462.5 L934.2 489.5 L934.7 514.5 L935.1 544.5 L935.2 606.5 L939.6 606.5 L939.7 550.8 L940.0 520.8 L940.5 495.8 L941.1 468.8 L941.2 465.8Z M962.0 465.8 L962.1 468.8 L962.8 495.8 L963.2 520.8 L963.6 550.8 L963.7 603.2 L968.2 603.2 L968.3 540.7 L968.7 510.7 L969.2 485.7 L969.9 458.7 L970.0 455.7Z M991.3 455.7 L991.3 458.7 L992.0 485.7 L992.4 510.7 L992.8 540.7 L992.9 591.5 L997.3 591.5 L997.4 533.5 L997.7 503.5 L998.2 478.5 L998.9 451.5 L999.0 448.5Z M1020.3 448.5 L1020.3 451.5 L1021.0 478.5 L1021.5 503.5 L1021.8 533.5 L1021.9 591.5 L1026.3 591.5 L1026.4 534.0 L1026.8 504.0 L1027.2 479.0 L1027.9 452.0 L1028.0 449.0Z M1048.7 449.0 L1048.7 452.0 L1049.4 479.0 L1049.8 504.0 L1050.2 534.0 L1050.3 589.5 L1054.6 589.5 L1054.7 531.5 L1055.1 501.5 L1055.6 476.5 L1056.3 449.5 L1056.3 446.5Z M1077.6 446.5 L1077.7 449.5 L1078.3 476.5 L1078.8 501.5 L1079.2 531.5 L1079.3 589.7 L1083.7 589.7 L1083.8 537.3 L1084.2 507.3 L1084.7 482.3 L1085.3 455.3 L1085.4 452.3Z M1106.3 452.3 L1106.4 455.3 L1107.0 482.3 L1107.5 507.3 L1107.8 537.3 L1107.9 596.0 L1112.4 596.0 L1112.5 543.6 L1112.9 513.6 L1113.4 488.6 L1114.1 461.6 L1114.2 458.6Z M1135.0 458.6 L1135.1 461.6 L1135.7 488.6 L1136.1 513.6 L1136.5 543.6 L1136.6 601.0 L1140.9 601.0 L1141.0 537.3 L1141.4 507.3 L1141.9 482.3 L1142.6 455.3 L1142.7 452.3Z M1164.4 452.3 L1164.5 455.3 L1165.2 482.3 L1165.7 507.3 L1166.1 537.3 L1166.2 596.4 L1170.6 596.4 L1170.7 538.5 L1171.0 508.5 L1171.5 483.5 L1172.2 456.5 L1172.3 453.5Z M1193.4 453.5 L1193.5 456.5 L1194.1 483.5 L1194.6 508.5 L1195.0 538.5 L1195.1 602.0 L1199.5 602.0 L1199.6 548.5 L1200.0 518.5 L1200.5 493.5 L1201.2 466.5 L1201.3 463.5Z M1222.2 463.5 L1222.3 466.5 L1222.9 493.5 L1223.4 518.5 L1223.8 548.5 L1223.9 611.0 L1228.2 611.0 L1228.3 551.9 L1228.6 521.9 L1229.1 496.9 L1229.7 469.9 L1229.8 466.9Z M1251.1 466.9 L1251.2 469.9 L1251.8 496.9 L1252.4 521.9 L1252.7 551.9 L1252.8 617.7 L1257.3 617.7 L1257.4 567.5 L1257.7 537.5 L1258.2 512.5 L1258.8 485.5 L1258.9 482.5Z M1279.4 482.5 L1279.5 485.5 L1280.1 512.5 L1280.6 537.5 L1280.9 567.5 L1281.0 623.3 L1285.3 623.3 L1285.4 556.2 L1285.8 526.2 L1286.3 501.2 L1287.0 474.2 L1287.0 471.2Z M1308.4 471.2 L1308.4 474.2 L1309.1 501.2 L1309.6 526.2 L1310.0 556.2 L1310.1 627.8 L1314.5 627.8 L1314.6 575.5 L1314.9 545.5 L1315.4 520.5 L1316.1 493.5 L1316.1 490.5Z M1336.9 490.5 L1337.0 493.5 L1337.6 520.5 L1338.1 545.5 L1338.4 575.5 L1338.5 635.6 L1342.9 635.6 L1343.0 577.9 L1343.4 547.9 L1343.9 522.9 L1344.6 495.9 L1344.6 492.9Z M1366.4 492.9 L1366.5 495.9 L1367.2 522.9 L1367.7 547.9 L1368.1 577.9 L1368.2 647.5 L1372.7 647.5 L1372.8 591.3 L1373.1 561.3 L1373.6 536.3 L1374.2 509.3 L1374.3 506.3Z M1395.6 506.3 L1395.7 509.3 L1396.3 536.3 L1396.9 561.3 L1397.2 591.3 L1397.3 664.0 L1401.8 664.0 L1401.9 611.3 L1402.3 581.3 L1402.8 556.3 L1403.4 529.3 L1403.5 526.3Z M1424.4 526.3 L1424.5 529.3 L1425.1 556.3 L1425.6 581.3 L1425.9 611.3 L1426.0 676.2 L1430.4 676.2 L1430.5 614.9 L1430.8 584.9 L1431.3 559.9 L1431.9 532.9 L1432.0 529.9Z M1453.4 529.9 L1453.4 532.9 L1454.1 559.9 L1454.6 584.9 L1455.0 614.9 L1455.1 683.0 L1459.6 683.0 L1459.7 629.0 L1460.0 599.0 L1460.5 574.0 L1461.2 547.0 L1461.3 544.0Z M1482.5 544.0 L1482.6 547.0 L1483.3 574.0 L1483.8 599.0 L1484.2 629.0 L1484.3 700.4 L1488.6 700.4 L1488.7 661.9 L1489.0 631.9 L1489.5 606.9 L1490.1 579.9 L1490.1 576.9Z M1511.4 576.9 L1511.5 579.9 L1512.2 606.9 L1512.7 631.9 L1513.1 661.9 L1513.2 731.7 L1517.6 731.7 L1517.7 670.1 L1518.0 640.1 L1518.5 615.1 L1519.1 588.1 L1519.2 585.1Z M1540.2 585.1 L1540.3 588.1 L1541.0 615.1 L1541.5 640.1 L1541.9 670.1 L1542.0 757.5 L1546.6 757.5 L1546.7 707.8 L1547.0 677.8 L1547.5 652.8 L1548.1 625.8 L1548.2 622.8Z M1569.6 622.8 L1569.6 625.8 L1570.3 652.8 L1570.8 677.8 L1571.2 707.8 L1571.3 774.6 L1575.7 774.6 L1575.8 715.9 L1576.2 685.9 L1576.7 660.9 L1577.3 633.9 L1577.4 630.9Z M1598.1 630.9 L1598.2 633.9 L1598.8 660.9 L1599.3 685.9 L1599.7 715.9 L1599.8 813.0 L1604.2 813.0 L1604.3 732.8 L1604.6 702.8 L1605.1 677.8 L1605.7 650.8 L1605.8 647.8Z M1627.2 647.8 L1627.2 650.8 L1627.9 677.8 L1628.4 702.8 L1628.8 732.8 L1628.9 828.0 L1633.3 828.0 L1633.4 768.1 L1633.7 738.1 L1634.2 713.1 L1634.8 686.1 L1634.9 683.1Z M1656.3 683.1 L1656.4 686.1 L1657.1 713.1 L1657.7 738.1 L1658.1 768.1 L1658.2 828.0 L1662.6 828.0 L1662.7 797.8 L1663.0 767.8 L1663.4 742.8 L1664.0 715.8 L1664.1 712.8Z M1685.2 712.8 L1685.3 715.8 L1686.0 742.8 L1686.6 767.8 L1687.0 797.8 L1687.1 828.0 L1689.0 828.0 L1689.0 712.8Z" fill="#3698de" fill-opacity="0.35" stroke="none"/>
<path d="M294.0 576.5 L294.3 584.0 L295.0 593.5 L295.8 605.7 L296.7 617.7 L297.4 633.3 L298.3 649.5 L299.2 669.3 L299.7 681.9 L300.1 700.5 L300.8 717.3 L301.5 733.5 L302.0 748.5 L302.3 766.5 L302.4 828.0 L306.8 828.0 L306.9 729.5 L307.3 711.5 L307.8 696.5 L308.5 680.3 L309.2 663.5 L309.6 644.9 L310.1 632.3 L311.0 612.5 L312.0 596.3 L312.7 580.7 L313.6 568.7 L314.4 556.5 L315.1 547.0 L316.0 540.5 L317.0 535.5 L318.1 532.5 L319.2 531.5 L320.3 532.5 L321.4 535.5 L322.4 540.5 L323.3 547.0 L324.0 556.5 L324.8 568.7 L325.7 580.7 L326.4 596.3 L327.4 612.5 L328.3 632.3 L328.8 644.9 L329.2 663.5 L329.9 680.3 L330.6 696.5 L331.1 711.5 L331.5 729.5 L331.6 828.0 L335.8 828.0 L335.9 758.5 L336.2 740.5 L336.7 725.5 L337.3 709.3 L337.9 692.5 L338.3 673.9 L338.8 661.3 L339.6 641.5 L340.4 625.3 L341.1 609.7 L342.0 597.7 L342.7 585.5 L343.3 576.0 L344.1 569.5 L345.0 564.5 L346.0 561.5 L347.0 560.5 L348.1 561.5 L349.3 564.5 L350.3 569.5 L351.1 576.0 L351.8 585.5 L352.7 597.7 L353.6 609.7 L354.3 625.3 L355.3 641.5 L356.2 661.3 L356.7 673.9 L357.2 692.5 L357.9 709.3 L358.6 725.5 L359.1 740.5 L359.4 758.5 L359.5 828.0 L364.3 828.0 L364.4 714.5 L364.8 696.5 L365.3 681.5 L366.0 665.3 L366.8 648.5 L367.3 629.9 L367.8 617.3 L368.8 597.5 L369.9 581.3 L370.7 565.7 L371.8 553.7 L372.6 541.5 L373.4 532.0 L374.3 525.5 L375.4 520.5 L376.7 517.5 L377.9 516.5 L378.9 517.5 L379.9 520.5 L380.8 525.5 L381.5 532.0 L382.1 541.5 L382.9 553.7 L383.7 565.7 L384.4 581.3 L385.2 597.5 L386.0 617.3 L386.4 629.9 L386.8 648.5 L387.5 665.3 L388.1 681.5 L388.5 696.5 L388.8 714.5 L388.9 828.0 L393.2 828.0 L393.3 662.3 L393.7 644.3 L394.2 629.3 L394.9 613.1 L395.7 596.3 L396.2 577.7 L396.6 565.1 L397.6 545.3 L398.6 529.1 L399.4 513.5 L400.4 501.5 L401.2 489.3 L401.9 479.8 L402.8 473.3 L403.9 468.3 L405.0 465.3 L406.2 464.3 L407.2 465.3 L408.2 468.3 L409.1 473.3 L409.9 479.8 L410.5 489.3 L411.2 501.5 L412.1 513.5 L412.8 529.1 L413.6 545.3 L414.4 565.1 L414.9 577.7 L415.3 596.3 L415.9 613.1 L416.5 629.3 L417.0 644.3 L417.3 662.3 L417.4 828.0 L421.7 828.0 L421.8 624.2 L422.1 606.2 L422.6 591.2 L423.3 575.0 L424.0 558.2 L424.5 539.6 L424.9 527.0 L425.9 507.2 L426.9 491.0 L427.6 475.4 L428.5 463.4 L429.4 451.2 L430.1 441.7 L430.9 435.2 L431.9 430.2 L433.1 427.2 L434.2 426.2 L435.3 427.2 L436.3 430.2 L437.3 435.2 L438.1 441.7 L438.7 451.2 L439.5 463.4 L440.4 475.4 L441.1 491.0 L442.0 507.2 L442.9 527.0 L443.3 539.6 L443.8 558.2 L444.4 575.0 L445.1 591.2 L445.5 606.2 L445.9 624.2 L446.0 803.0 L450.4 803.0 L450.5 655.0 L450.9 632.5 L451.4 613.8 L452.1 593.5 L452.9 572.5 L453.3 549.2 L453.8 533.5 L454.8 508.8 L455.8 488.5 L456.5 469.0 L457.5 454.0 L458.3 440.0 L459.1 430.5 L459.9 424.0 L461.0 419.0 L462.1 416.0 L463.3 415.0 L464.4 416.0 L465.4 419.0 L466.4 424.0 L467.2 430.5 L467.8 440.0 L468.6 454.0 L469.5 469.0 L470.2 488.5 L471.1 508.8 L472.0 533.5 L472.4 549.2 L472.9 572.5 L473.5 593.5 L474.2 613.8 L474.6 632.5 L475.0 655.0 L475.1 780.6 L479.3 780.6 L479.4 691.4 L479.7 665.0 L480.2 643.0 L480.8 619.2 L481.5 594.6 L481.9 567.3 L482.4 548.8 L483.2 519.8 L484.1 496.0 L484.9 473.2 L485.7 455.6 L486.5 440.0 L487.2 430.5 L487.9 424.0 L488.9 419.0 L489.9 416.0 L491.0 415.0 L492.1 416.0 L493.3 419.0 L494.3 424.0 L495.1 430.5 L495.9 440.0 L496.7 455.6 L497.6 473.2 L498.4 496.0 L499.4 519.8 L500.3 548.8 L500.8 567.3 L501.2 594.6 L502.0 619.2 L502.6 643.0 L503.2 665.0 L503.5 691.4 L503.6 808.0 L507.9 808.0 L508.0 727.2 L508.4 697.2 L508.8 672.2 L509.4 645.2 L510.1 617.2 L510.5 586.2 L510.9 565.2 L511.8 532.2 L512.6 505.2 L513.3 479.2 L514.2 459.2 L514.9 442.2 L515.6 432.7 L516.3 426.2 L517.3 421.2 L518.3 418.2 L519.3 417.2 L520.4 418.2 L521.5 421.2 L522.5 426.2 L523.4 432.7 L524.1 442.2 L524.9 459.2 L525.8 479.2 L526.5 505.2 L527.5 532.2 L528.4 565.2 L528.9 586.2 L529.3 617.2 L530.0 645.2 L530.7 672.2 L531.2 697.2 L531.6 727.2 L531.7 762.7 L536.1 762.7 L536.2 677.2 L536.6 647.2 L537.1 622.2 L537.8 595.2 L538.5 567.2 L539.0 536.2 L539.4 515.2 L540.3 482.2 L541.3 455.2 L542.1 429.2 L543.0 409.2 L543.8 392.2 L544.5 382.7 L545.3 376.2 L546.4 371.2 L547.5 368.2 L548.6 367.2 L549.7 368.2 L550.8 371.2 L551.8 376.2 L552.5 382.7 L553.2 392.2 L554.0 409.2 L554.9 429.2 L555.7 455.2 L556.6 482.2 L557.5 515.2 L557.9 536.2 L558.4 567.2 L559.1 595.2 L559.7 622.2 L560.2 647.2 L560.5 677.2 L560.6 716.8 L565.0 716.8 L565.1 646.5 L565.5 616.5 L566.0 591.5 L566.7 564.5 L567.4 536.5 L567.9 505.5 L568.3 484.5 L569.2 451.5 L570.2 424.5 L571.0 398.5 L571.9 378.5 L572.7 361.5 L573.4 352.0 L574.2 345.5 L575.3 340.5 L576.4 337.5 L577.5 336.5 L578.7 337.5 L579.9 340.5 L580.9 345.5 L581.8 352.0 L582.6 361.5 L583.4 378.5 L584.4 398.5 L585.2 424.5 L586.2 451.5 L587.2 484.5 L587.7 505.5 L588.2 536.5 L588.9 564.5 L589.6 591.5 L590.1 616.5 L590.5 646.5 L590.6 700.0 L595.2 700.0 L595.3 636.9 L595.6 606.9 L596.1 581.9 L596.8 554.9 L597.5 526.9 L597.9 495.9 L598.4 474.9 L599.3 441.9 L600.2 414.9 L600.9 388.9 L601.8 368.9 L602.6 351.9 L603.3 342.4 L604.1 335.9 L605.1 330.9 L606.2 327.9 L607.3 326.9 L608.4 327.9 L609.5 330.9 L610.5 335.9 L611.3 342.4 L612.0 351.9 L612.8 368.9 L613.7 388.9 L614.5 414.9 L615.4 441.9 L616.3 474.9 L616.8 495.9 L617.2 526.9 L617.9 554.9 L618.6 581.9 L619.1 606.9 L619.4 636.9 L619.5 688.8 L623.8 688.8 L623.9 629.0 L624.2 599.0 L624.7 574.0 L625.3 547.0 L626.0 519.0 L626.4 488.0 L626.8 467.0 L627.6 434.0 L628.5 407.0 L629.3 381.0 L630.1 361.0 L630.9 344.0 L631.5 334.5 L632.3 328.0 L633.2 323.0 L634.3 320.0 L635.3 319.0 L636.4 320.0 L637.5 323.0 L638.5 328.0 L639.3 334.5 L640.0 344.0 L640.8 361.0 L641.7 381.0 L642.5 407.0 L643.4 434.0 L644.3 467.0 L644.8 488.0 L645.2 519.0 L645.9 547.0 L646.6 574.0 L647.1 599.0 L647.4 629.0 L647.5 693.2 L651.9 693.2 L652.0 638.0 L652.3 608.0 L652.8 583.0 L653.4 556.0 L654.1 528.0 L654.5 497.0 L655.0 476.0 L655.9 443.0 L656.8 416.0 L657.5 390.0 L658.4 370.0 L659.2 353.0 L659.9 343.5 L660.7 337.0 L661.6 332.0 L662.7 329.0 L663.8 328.0 L664.9 329.0 L665.9 332.0 L666.9 337.0 L667.7 343.5 L668.4 353.0 L669.1 370.0 L670.0 390.0 L670.8 416.0 L671.7 443.0 L672.5 476.0 L673.0 497.0 L673.4 528.0 L674.1 556.0 L674.7 583.0 L675.2 608.0 L675.6 638.0 L675.7 685.2 L680.2 685.2 L680.3 612.2 L680.7 582.2 L681.3 557.2 L682.0 530.2 L682.7 502.2 L683.2 471.2 L683.7 450.2 L684.7 417.2 L685.8 390.2 L686.6 364.2 L687.6 344.2 L688.4 327.2 L689.2 317.7 L690.1 311.2 L691.2 306.2 L692.4 303.2 L693.6 302.2 L694.6 303.2 L695.7 306.2 L696.6 311.2 L697.4 317.7 L698.0 327.2 L698.8 344.2 L699.6 364.2 L700.3 390.2 L701.2 417.2 L702.0 450.2 L702.5 471.2 L702.9 502.2 L703.5 530.2 L704.1 557.2 L704.6 582.2 L704.9 612.2 L705.0 660.3 L709.3 660.3 L709.4 593.2 L709.8 563.2 L710.3 538.2 L710.9 511.2 L711.6 483.2 L712.1 452.2 L712.5 431.2 L713.4 398.2 L714.4 371.2 L715.2 345.2 L716.1 325.2 L716.9 308.2 L717.6 298.7 L718.4 292.2 L719.4 287.2 L720.5 284.2 L721.6 283.2 L722.7 284.2 L723.8 287.2 L724.8 292.2 L725.7 298.7 L726.4 308.2 L727.2 325.2 L728.1 345.2 L728.8 371.2 L729.8 398.2 L730.7 431.2 L731.2 452.2 L731.6 483.2 L732.3 511.2 L733.0 538.2 L733.5 563.2 L733.9 593.2 L734.0 650.2 L738.3 650.2 L738.4 587.5 L738.7 557.5 L739.2 532.5 L739.8 505.5 L740.5 477.5 L740.9 446.5 L741.4 425.5 L742.2 392.5 L743.1 365.5 L743.9 339.5 L744.7 319.5 L745.5 302.5 L746.2 293.0 L746.9 286.5 L747.9 281.5 L748.9 278.5 L750.0 277.5 L751.1 278.5 L752.2 281.5 L753.2 286.5 L753.9 293.0 L754.6 302.5 L755.4 319.5 L756.3 339.5 L757.1 365.5 L758.0 392.5 L758.9 425.5 L759.3 446.5 L759.8 477.5 L760.5 505.5 L761.1 532.5 L761.6 557.5 L761.9 587.5 L762.0 640.1 L766.4 640.1 L766.5 574.1 L766.9 544.1 L767.4 519.1 L768.0 492.1 L768.7 464.1 L769.2 433.1 L769.6 412.1 L770.5 379.1 L771.5 352.1 L772.3 326.1 L773.2 306.1 L774.0 289.1 L774.7 279.6 L775.5 273.1 L776.5 268.1 L777.6 265.1 L778.7 264.1 L779.8 265.1 L780.9 268.1 L781.9 273.1 L782.8 279.6 L783.5 289.1 L784.3 306.1 L785.2 326.1 L785.9 352.1 L786.9 379.1 L787.8 412.1 L788.3 433.1 L788.7 464.1 L789.4 492.1 L790.1 519.1 L790.6 544.1 L791.0 574.1 L791.1 632.3 L795.5 632.3 L795.6 580.8 L796.0 550.8 L796.5 525.8 L797.2 498.8 L797.9 470.8 L798.3 439.8 L798.8 418.8 L799.7 385.8 L800.7 358.8 L801.4 332.8 L802.3 312.8 L803.1 295.8 L803.8 286.3 L804.7 279.8 L805.7 274.8 L806.8 271.8 L807.9 270.8 L809.0 271.8 L810.2 274.8 L811.2 279.8 L812.1 286.3 L812.8 295.8 L813.6 312.8 L814.6 332.8 L815.3 358.8 L816.3 385.8 L817.3 418.8 L817.7 439.8 L818.2 470.8 L818.9 498.8 L819.6 525.8 L820.1 550.8 L820.5 580.8 L820.6 633.4 L825.1 633.4 L825.2 569.5 L825.6 539.5 L826.1 514.5 L826.8 487.5 L827.5 459.5 L827.9 428.5 L828.4 407.5 L829.3 374.5 L830.3 347.5 L831.0 321.5 L831.9 301.5 L832.7 284.5 L833.4 275.0 L834.3 268.5 L835.3 263.5 L836.4 260.5 L837.5 259.5 L838.6 260.5 L839.7 263.5 L840.6 268.5 L841.4 275.0 L842.1 284.5 L842.9 301.5 L843.8 321.5 L844.5 347.5 L845.4 374.5 L846.3 407.5 L846.8 428.5 L847.2 459.5 L847.9 487.5 L848.5 514.5 L849.0 539.5 L849.3 569.5 L849.4 620.0 L853.8 620.0 L853.9 555.1 L854.2 525.1 L854.7 500.1 L855.3 473.1 L856.0 445.1 L856.4 414.1 L856.9 393.1 L857.8 360.1 L858.7 333.1 L859.4 307.1 L860.3 287.1 L861.1 270.1 L861.8 260.6 L862.6 254.1 L863.5 249.1 L864.6 246.1 L865.7 245.1 L866.8 246.1 L867.8 249.1 L868.8 254.1 L869.6 260.6 L870.2 270.1 L871.0 287.1 L871.9 307.1 L872.6 333.1 L873.5 360.1 L874.4 393.1 L874.8 414.1 L875.3 445.1 L875.9 473.1 L876.6 500.1 L877.0 525.1 L877.4 555.1 L877.5 602.7 L881.7 602.7 L881.8 534.5 L882.2 504.5 L882.6 479.5 L883.3 452.5 L883.9 424.5 L884.4 393.5 L884.8 372.5 L885.7 339.5 L886.6 312.5 L887.3 286.5 L888.2 266.5 L889.0 249.5 L889.6 240.0 L890.4 233.5 L891.4 228.5 L892.4 225.5 L893.5 224.5 L894.6 225.5 L895.8 228.5 L896.8 233.5 L897.6 240.0 L898.3 249.5 L899.2 266.5 L900.1 286.5 L900.8 312.5 L901.8 339.5 L902.8 372.5 L903.2 393.5 L903.7 424.5 L904.4 452.5 L905.1 479.5 L905.6 504.5 L905.9 534.5 L906.0 597.6 L910.5 597.6 L910.6 544.5 L911.0 514.5 L911.5 489.5 L912.1 462.5 L912.8 434.5 L913.3 403.5 L913.7 382.5 L914.6 349.5 L915.6 322.5 L916.4 296.5 L917.3 276.5 L918.1 259.5 L918.8 250.0 L919.6 243.5 L920.6 238.5 L921.7 235.5 L922.8 234.5 L923.9 235.5 L925.0 238.5 L926.0 243.5 L926.9 250.0 L927.6 259.5 L928.4 276.5 L929.3 296.5 L930.0 322.5 L931.0 349.5 L931.9 382.5 L932.4 403.5 L932.8 434.5 L933.5 462.5 L934.2 489.5 L934.7 514.5 L935.1 544.5 L935.2 606.5 L939.6 606.5 L939.7 550.8 L940.0 520.8 L940.5 495.8 L941.1 468.8 L941.8 440.8 L942.2 409.8 L942.7 388.8 L943.6 355.8 L944.5 328.8 L945.2 302.8 L946.1 282.8 L946.9 265.8 L947.6 256.3 L948.4 249.8 L949.3 244.8 L950.4 241.8 L951.5 240.8 L952.6 241.8 L953.7 244.8 L954.7 249.8 L955.5 256.3 L956.2 265.8 L957.0 282.8 L957.9 302.8 L958.6 328.8 L959.6 355.8 L960.5 388.8 L960.9 409.8 L961.4 440.8 L962.1 468.8 L962.8 495.8 L963.2 520.8 L963.6 550.8 L963.7 603.2 L968.2 603.2 L968.3 540.7 L968.7 510.7 L969.2 485.7 L969.9 458.7 L970.6 430.7 L971.1 399.7 L971.6 378.7 L972.5 345.7 L973.6 318.7 L974.3 292.7 L975.3 272.7 L976.1 255.7 L976.9 246.2 L977.7 239.7 L978.8 234.7 L979.9 231.7 L981.1 230.7 L982.2 231.7 L983.2 234.7 L984.2 239.7 L985.0 246.2 L985.6 255.7 L986.4 272.7 L987.3 292.7 L988.0 318.7 L988.9 345.7 L989.8 378.7 L990.2 399.7 L990.7 430.7 L991.3 458.7 L992.0 485.7 L992.4 510.7 L992.8 540.7 L992.9 591.5 L997.3 591.5 L997.4 533.5 L997.7 503.5 L998.2 478.5 L998.9 451.5 L999.6 423.5 L1000.1 392.5 L1000.5 371.5 L1001.5 338.5 L1002.5 311.5 L1003.2 285.5 L1004.1 265.5 L1005.0 248.5 L1005.7 239.0 L1006.5 232.5 L1007.5 227.5 L1008.7 224.5 L1009.8 223.5 L1010.9 224.5 L1012.0 227.5 L1013.0 232.5 L1013.8 239.0 L1014.5 248.5 L1015.3 265.5 L1016.2 285.5 L1016.9 311.5 L1017.8 338.5 L1018.7 371.5 L1019.2 392.5 L1019.6 423.5 L1020.3 451.5 L1021.0 478.5 L1021.5 503.5 L1021.8 533.5 L1021.9 591.5 L1026.3 591.5 L1026.4 534.0 L1026.8 504.0 L1027.2 479.0 L1027.9 452.0 L1028.6 424.0 L1029.0 393.0 L1029.5 372.0 L1030.4 339.0 L1031.3 312.0 L1032.1 286.0 L1033.0 266.0 L1033.8 249.0 L1034.5 239.5 L1035.3 233.0 L1036.3 228.0 L1037.4 225.0 L1038.5 224.0 L1039.6 225.0 L1040.6 228.0 L1041.6 233.0 L1042.4 239.5 L1043.0 249.0 L1043.8 266.0 L1044.7 286.0 L1045.4 312.0 L1046.3 339.0 L1047.2 372.0 L1047.6 393.0 L1048.1 424.0 L1048.7 452.0 L1049.4 479.0 L1049.8 504.0 L1050.2 534.0 L1050.3 589.5 L1054.6 589.5 L1054.7 531.5 L1055.1 501.5 L1055.6 476.5 L1056.3 449.5 L1057.0 421.5 L1057.4 390.5 L1057.9 369.5 L1058.8 336.5 L1059.8 309.5 L1060.5 283.5 L1061.4 263.5 L1062.2 246.5 L1062.9 237.0 L1063.8 230.5 L1064.8 225.5 L1065.9 222.5 L1067.0 221.5 L1068.1 222.5 L1069.2 225.5 L1070.2 230.5 L1071.0 237.0 L1071.7 246.5 L1072.5 263.5 L1073.4 283.5 L1074.2 309.5 L1075.2 336.5 L1076.1 369.5 L1076.5 390.5 L1077.0 421.5 L1077.7 449.5 L1078.3 476.5 L1078.8 501.5 L1079.2 531.5 L1079.3 589.7 L1083.7 589.7 L1083.8 537.3 L1084.2 507.3 L1084.7 482.3 L1085.3 455.3 L1086.0 427.3 L1086.5 396.3 L1086.9 375.3 L1087.8 342.3 L1088.8 315.3 L1089.6 289.3 L1090.5 269.3 L1091.3 252.3 L1092.0 242.8 L1092.8 236.3 L1093.8 231.3 L1094.9 228.3 L1096.0 227.3 L1097.1 228.3 L1098.2 231.3 L1099.1 236.3 L1099.9 242.8 L1100.6 252.3 L1101.4 269.3 L1102.3 289.3 L1103.0 315.3 L1103.9 342.3 L1104.8 375.3 L1105.3 396.3 L1105.7 427.3 L1106.4 455.3 L1107.0 482.3 L1107.5 507.3 L1107.8 537.3 L1107.9 596.0 L1112.4 596.0 L1112.5 543.6 L1112.9 513.6 L1113.4 488.6 L1114.1 461.6 L1114.8 433.6 L1115.3 402.6 L1115.8 381.6 L1116.7 348.6 L1117.7 321.6 L1118.5 295.6 L1119.4 275.6 L1120.3 258.6 L1121.0 249.1 L1121.8 242.6 L1122.9 237.6 L1124.0 234.6 L1125.2 233.6 L1126.2 234.6 L1127.2 237.6 L1128.2 242.6 L1128.9 249.1 L1129.6 258.6 L1130.3 275.6 L1131.2 295.6 L1131.9 321.6 L1132.7 348.6 L1133.6 381.6 L1134.0 402.6 L1134.4 433.6 L1135.1 461.6 L1135.7 488.6 L1136.1 513.6 L1136.5 543.6 L1136.6 601.0 L1140.9 601.0 L1141.0 537.3 L1141.4 507.3 L1141.9 482.3 L1142.6 455.3 L1143.3 427.3 L1143.8 396.3 L1144.3 375.3 L1145.2 342.3 L1146.2 315.3 L1147.0 289.3 L1147.9 269.3 L1148.8 252.3 L1149.5 242.8 L1150.3 236.3 L1151.4 231.3 L1152.5 228.3 L1153.7 227.3 L1154.8 228.3 L1155.9 231.3 L1157.0 236.3 L1157.8 242.8 L1158.5 252.3 L1159.3 269.3 L1160.2 289.3 L1161.0 315.3 L1162.0 342.3 L1162.9 375.3 L1163.3 396.3 L1163.8 427.3 L1164.5 455.3 L1165.2 482.3 L1165.7 507.3 L1166.1 537.3 L1166.2 596.4 L1170.6 596.4 L1170.7 538.5 L1171.0 508.5 L1171.5 483.5 L1172.2 456.5 L1172.9 428.5 L1173.4 397.5 L1173.8 376.5 L1174.7 343.5 L1175.7 316.5 L1176.4 290.5 L1177.3 270.5 L1178.1 253.5 L1178.8 244.0 L1179.6 237.5 L1180.6 232.5 L1181.7 229.5 L1182.8 228.5 L1183.9 229.5 L1185.0 232.5 L1186.0 237.5 L1186.8 244.0 L1187.5 253.5 L1188.3 270.5 L1189.2 290.5 L1190.0 316.5 L1191.0 343.5 L1191.9 376.5 L1192.3 397.5 L1192.8 428.5 L1193.5 456.5 L1194.1 483.5 L1194.6 508.5 L1195.0 538.5 L1195.1 602.0 L1199.5 602.0 L1199.6 548.5 L1200.0 518.5 L1200.5 493.5 L1201.2 466.5 L1201.9 438.5 L1202.4 407.5 L1202.8 386.5 L1203.7 353.5 L1204.7 326.5 L1205.5 300.5 L1206.4 280.5 L1207.2 263.5 L1207.9 254.0 L1208.7 247.5 L1209.8 242.5 L1210.9 239.5 L1212.0 238.5 L1213.1 239.5 L1214.1 242.5 L1215.1 247.5 L1215.9 254.0 L1216.6 263.5 L1217.3 280.5 L1218.2 300.5 L1219.0 326.5 L1219.9 353.5 L1220.8 386.5 L1221.2 407.5 L1221.6 438.5 L1222.3 466.5 L1222.9 493.5 L1223.4 518.5 L1223.8 548.5 L1223.9 611.0 L1228.2 611.0 L1228.3 551.9 L1228.6 521.9 L1229.1 496.9 L1229.7 469.9 L1230.4 441.9 L1230.9 410.9 L1231.3 389.9 L1232.2 356.9 L1233.1 329.9 L1233.9 303.9 L1234.8 283.9 L1235.6 266.9 L1236.3 257.4 L1237.0 250.9 L1238.0 245.9 L1239.1 242.9 L1240.2 241.9 L1241.3 242.9 L1242.5 245.9 L1243.5 250.9 L1244.3 257.4 L1245.1 266.9 L1245.9 283.9 L1246.8 303.9 L1247.6 329.9 L1248.6 356.9 L1249.5 389.9 L1250.0 410.9 L1250.4 441.9 L1251.2 469.9 L1251.8 496.9 L1252.4 521.9 L1252.7 551.9 L1252.8 617.7 L1257.3 617.7 L1257.4 567.5 L1257.7 537.5 L1258.2 512.5 L1258.8 485.5 L1259.5 457.5 L1260.0 426.5 L1260.4 405.5 L1261.3 372.5 L1262.2 345.5 L1263.0 319.5 L1263.9 299.5 L1264.7 282.5 L1265.4 273.0 L1266.1 266.5 L1267.1 261.5 L1268.2 258.5 L1269.3 257.5 L1270.4 258.5 L1271.4 261.5 L1272.4 266.5 L1273.1 273.0 L1273.8 282.5 L1274.6 299.5 L1275.4 319.5 L1276.2 345.5 L1277.1 372.5 L1277.9 405.5 L1278.4 426.5 L1278.8 457.5 L1279.5 485.5 L1280.1 512.5 L1280.6 537.5 L1280.9 567.5 L1281.0 623.3 L1285.3 623.3 L1285.4 556.2 L1285.8 526.2 L1286.3 501.2 L1287.0 474.2 L1287.7 446.2 L1288.1 415.2 L1288.6 394.2 L1289.5 361.2 L1290.5 334.2 L1291.2 308.2 L1292.1 288.2 L1292.9 271.2 L1293.6 261.7 L1294.5 255.2 L1295.5 250.2 L1296.6 247.2 L1297.7 246.2 L1298.8 247.2 L1299.9 250.2 L1300.9 255.2 L1301.8 261.7 L1302.5 271.2 L1303.3 288.2 L1304.2 308.2 L1304.9 334.2 L1305.9 361.2 L1306.8 394.2 L1307.3 415.2 L1307.7 446.2 L1308.4 474.2 L1309.1 501.2 L1309.6 526.2 L1310.0 556.2 L1310.1 627.8 L1314.5 627.8 L1314.6 575.5 L1314.9 545.5 L1315.4 520.5 L1316.1 493.5 L1316.8 465.5 L1317.2 434.5 L1317.7 413.5 L1318.6 380.5 L1319.5 353.5 L1320.2 327.5 L1321.1 307.5 L1321.9 290.5 L1322.6 281.0 L1323.4 274.5 L1324.4 269.5 L1325.5 266.5 L1326.6 265.5 L1327.7 266.5 L1328.8 269.5 L1329.7 274.5 L1330.5 281.0 L1331.2 290.5 L1332.0 307.5 L1332.9 327.5 L1333.6 353.5 L1334.5 380.5 L1335.4 413.5 L1335.9 434.5 L1336.3 465.5 L1337.0 493.5 L1337.6 520.5 L1338.1 545.5 L1338.4 575.5 L1338.5 635.6 L1342.9 635.6 L1343.0 577.9 L1343.4 547.9 L1343.9 522.9 L1344.6 495.9 L1345.3 467.9 L1345.7 436.9 L1346.2 415.9 L1347.1 382.9 L1348.1 355.9 L1348.8 329.9 L1349.7 309.9 L1350.5 292.9 L1351.2 283.4 L1352.1 276.9 L1353.1 271.9 L1354.2 268.9 L1355.3 267.9 L1356.5 268.9 L1357.6 271.9 L1358.7 276.9 L1359.5 283.4 L1360.3 292.9 L1361.1 309.9 L1362.1 329.9 L1362.8 355.9 L1363.8 382.9 L1364.8 415.9 L1365.3 436.9 L1365.8 467.9 L1366.5 495.9 L1367.2 522.9 L1367.7 547.9 L1368.1 577.9 L1368.2 647.5 L1372.7 647.5 L1372.8 591.3 L1373.1 561.3 L1373.6 536.3 L1374.2 509.3 L1374.9 481.3 L1375.4 450.3 L1375.8 429.3 L1376.7 396.3 L1377.6 369.3 L1378.4 343.3 L1379.3 323.3 L1380.1 306.3 L1380.8 296.8 L1381.5 290.3 L1382.5 285.3 L1383.6 282.3 L1384.7 281.3 L1385.8 282.3 L1387.0 285.3 L1388.0 290.3 L1388.8 296.8 L1389.6 306.3 L1390.4 323.3 L1391.3 343.3 L1392.1 369.3 L1393.1 396.3 L1394.0 429.3 L1394.5 450.3 L1394.9 481.3 L1395.7 509.3 L1396.3 536.3 L1396.9 561.3 L1397.2 591.3 L1397.3 664.0 L1401.8 664.0 L1401.9 611.3 L1402.3 581.3 L1402.8 556.3 L1403.4 529.3 L1404.1 501.3 L1404.6 470.3 L1405.0 449.3 L1405.9 416.3 L1406.9 389.3 L1407.7 363.3 L1408.6 343.3 L1409.4 326.3 L1410.1 316.8 L1410.9 310.3 L1411.9 305.3 L1413.0 302.3 L1414.1 301.3 L1415.2 302.3 L1416.3 305.3 L1417.2 310.3 L1418.0 316.8 L1418.7 326.3 L1419.5 343.3 L1420.4 363.3 L1421.1 389.3 L1422.0 416.3 L1422.9 449.3 L1423.4 470.3 L1423.8 501.3 L1424.5 529.3 L1425.1 556.3 L1425.6 581.3 L1425.9 611.3 L1426.0 676.2 L1430.4 676.2 L1430.5 614.9 L1430.8 584.9 L1431.3 559.9 L1431.9 532.9 L1432.6 504.9 L1433.1 473.9 L1433.5 452.9 L1434.4 419.9 L1435.3 392.9 L1436.1 366.9 L1437.0 346.9 L1437.8 329.9 L1438.5 320.4 L1439.2 313.9 L1440.2 308.9 L1441.3 305.9 L1442.4 304.9 L1443.5 305.9 L1444.7 308.9 L1445.7 313.9 L1446.6 320.4 L1447.3 329.9 L1448.1 346.9 L1449.1 366.9 L1449.8 392.9 L1450.8 419.9 L1451.8 452.9 L1452.2 473.9 L1452.7 504.9 L1453.4 532.9 L1454.1 559.9 L1454.6 584.9 L1455.0 614.9 L1455.1 683.0 L1459.6 683.0 L1459.7 629.0 L1460.0 599.0 L1460.5 574.0 L1461.2 547.0 L1461.9 519.0 L1462.4 488.0 L1462.8 467.0 L1463.7 434.0 L1464.7 407.0 L1465.4 381.0 L1466.3 361.0 L1467.1 344.0 L1467.8 334.5 L1468.6 328.0 L1469.6 323.0 L1470.7 320.0 L1471.8 319.0 L1472.9 320.0 L1474.0 323.0 L1475.1 328.0 L1475.9 334.5 L1476.6 344.0 L1477.4 361.0 L1478.3 381.0 L1479.1 407.0 L1480.1 434.0 L1481.0 467.0 L1481.4 488.0 L1481.9 519.0 L1482.6 547.0 L1483.3 574.0 L1483.8 599.0 L1484.2 629.0 L1484.3 700.4 L1488.6 700.4 L1488.7 661.9 L1489.0 631.9 L1489.5 606.9 L1490.1 579.9 L1490.7 551.9 L1491.1 520.9 L1491.6 499.9 L1492.4 466.9 L1493.3 439.9 L1494.0 413.9 L1494.8 393.9 L1495.6 376.9 L1496.2 367.4 L1497.0 360.9 L1497.9 355.9 L1499.0 352.9 L1500.0 351.9 L1501.2 352.9 L1502.4 355.9 L1503.5 360.9 L1504.3 367.4 L1505.1 376.9 L1506.0 393.9 L1506.9 413.9 L1507.7 439.9 L1508.8 466.9 L1509.8 499.9 L1510.2 520.9 L1510.7 551.9 L1511.5 579.9 L1512.2 606.9 L1512.7 631.9 L1513.1 661.9 L1513.2 731.7 L1517.6 731.7 L1517.7 670.1 L1518.0 640.1 L1518.5 615.1 L1519.1 588.1 L1519.7 560.1 L1520.1 529.1 L1520.5 508.1 L1521.4 475.1 L1522.2 448.1 L1522.9 422.1 L1523.8 402.1 L1524.5 385.1 L1525.1 375.6 L1525.9 369.1 L1526.8 364.1 L1527.8 361.1 L1528.8 360.1 L1530.0 361.1 L1531.2 364.1 L1532.3 369.1 L1533.1 375.6 L1533.9 385.1 L1534.8 402.1 L1535.7 422.1 L1536.5 448.1 L1537.6 475.1 L1538.5 508.1 L1539.0 529.1 L1539.5 560.1 L1540.3 588.1 L1541.0 615.1 L1541.5 640.1 L1541.9 670.1 L1542.0 757.5 L1546.6 757.5 L1546.7 707.8 L1547.0 677.8 L1547.5 652.8 L1548.1 625.8 L1548.8 597.8 L1549.3 566.8 L1549.7 545.8 L1550.6 512.8 L1551.5 485.8 L1552.3 459.8 L1553.2 439.8 L1554.0 422.8 L1554.7 413.3 L1555.4 406.8 L1556.4 401.8 L1557.5 398.8 L1558.6 397.8 L1559.7 398.8 L1560.9 401.8 L1561.9 406.8 L1562.8 413.3 L1563.5 422.8 L1564.3 439.8 L1565.3 459.8 L1566.0 485.8 L1567.0 512.8 L1568.0 545.8 L1568.4 566.8 L1568.9 597.8 L1569.6 625.8 L1570.3 652.8 L1570.8 677.8 L1571.2 707.8 L1571.3 774.6 L1575.7 774.6 L1575.8 715.9 L1576.2 685.9 L1576.7 660.9 L1577.3 633.9 L1578.0 605.9 L1578.4 574.9 L1578.8 553.9 L1579.7 520.9 L1580.6 493.9 L1581.4 467.9 L1582.3 447.9 L1583.0 430.9 L1583.7 421.4 L1584.5 414.9 L1585.5 409.9 L1586.5 406.9 L1587.6 405.9 L1588.7 406.9 L1589.8 409.9 L1590.8 414.9 L1591.6 421.4 L1592.3 430.9 L1593.1 447.9 L1594.0 467.9 L1594.8 493.9 L1595.7 520.9 L1596.6 553.9 L1597.0 574.9 L1597.5 605.9 L1598.2 633.9 L1598.8 660.9 L1599.3 685.9 L1599.7 715.9 L1599.8 813.0 L1604.2 813.0 L1604.3 732.8 L1604.6 702.8 L1605.1 677.8 L1605.7 650.8 L1606.4 622.8 L1606.9 591.8 L1607.3 570.8 L1608.2 537.8 L1609.1 510.8 L1609.9 484.8 L1610.8 464.8 L1611.6 447.8 L1612.3 438.3 L1613.0 431.8 L1614.0 426.8 L1615.1 423.8 L1616.2 422.8 L1617.3 423.8 L1618.5 426.8 L1619.5 431.8 L1620.4 438.3 L1621.1 447.8 L1621.9 464.8 L1622.9 484.8 L1623.6 510.8 L1624.6 537.8 L1625.6 570.8 L1626.0 591.8 L1626.5 622.8 L1627.2 650.8 L1627.9 677.8 L1628.4 702.8 L1628.8 732.8 L1628.9 828.0 L1633.3 828.0 L1633.4 768.1 L1633.7 738.1 L1634.2 713.1 L1634.8 686.1 L1635.5 658.1 L1635.9 627.1 L1636.3 606.1 L1637.2 573.1 L1638.0 546.1 L1638.8 520.1 L1639.6 500.1 L1640.4 483.1 L1641.0 473.6 L1641.8 467.1 L1642.7 462.1 L1643.8 459.1 L1644.8 458.1 L1646.0 459.1 L1647.2 462.1 L1648.3 467.1 L1649.2 473.6 L1650.0 483.1 L1650.8 500.1 L1651.8 520.1 L1652.6 546.1 L1653.7 573.1 L1654.7 606.1 L1655.2 627.1 L1655.7 658.1 L1656.4 686.1 L1657.1 713.1 L1657.7 738.1 L1658.1 768.1 L1658.2 828.0 L1662.6 828.0 L1662.7 797.8 L1663.0 767.8 L1663.4 742.8 L1664.0 715.8 L1664.7 687.8 L1665.1 656.8 L1665.5 635.8 L1666.3 602.8 L1667.1 575.8 L1667.8 549.8 L1668.6 529.8 L1669.4 512.8 L1670.0 503.3 L1670.7 496.8 L1671.6 491.8 L1672.6 488.8 L1673.6 487.8 L1674.8 488.8 L1676.0 491.8 L1677.1 496.8 L1678.0 503.3 L1678.8 512.8 L1679.7 529.8 L1680.7 549.8 L1681.5 575.8 L1682.5 602.8 L1683.5 635.8 L1684.0 656.8 L1684.5 687.8 L1685.3 715.8 L1686.0 742.8 L1686.6 767.8 L1687.0 797.8 L1687.1 828.0" stroke="#3698de" stroke-opacity="0.85" stroke-width="2.8"/></g></g>
<g filter="url(#bl)" fill="none" style="mix-blend-mode:multiply">
<line x1="291" y1="222.3" x2="1680" y2="217.8" stroke="#ffa6b4" stroke-width="8" opacity="0.35"/>
<line x1="291" y1="222.3" x2="1680" y2="217.8" stroke="#ff8096" stroke-width="7" stroke-dasharray="9.8 7.6" opacity="0.38"/>
<line x1="287.0" y1="311.20" x2="687.0" y2="309.93" stroke="#ff8a9c" stroke-width="7" opacity="0.275"/>
<line x1="287.0" y1="311.20" x2="687.0" y2="309.93" stroke="#ff6a86" stroke-width="6.4" stroke-dasharray="9.8 7.6" stroke-dashoffset="0.00" opacity="0.55"/>
<line x1="687.0" y1="309.93" x2="1456.0" y2="307.49" stroke="#ff8a9c" stroke-width="7" opacity="0.13"/>
<line x1="687.0" y1="309.93" x2="1456.0" y2="307.49" stroke="#ff6a86" stroke-width="6.4" stroke-dasharray="9.8 7.6" stroke-dashoffset="17.20" opacity="0.26"/>
<line x1="1456.0" y1="307.49" x2="1672.0" y2="306.80" stroke="#ff8a9c" stroke-width="7" opacity="0.25"/>
<line x1="1456.0" y1="307.49" x2="1672.0" y2="306.80" stroke="#ff6a86" stroke-width="6.4" stroke-dasharray="9.8 7.6" stroke-dashoffset="3.20" opacity="0.5"/>
</g>
<g filter="url(#bt)">
<text transform="translate(242.5 812.6) scale(1 1.12)" font-size="58" text-anchor="end">-55</text>
<text transform="translate(242.5 691.3) scale(1 1.12)" font-size="58" text-anchor="end">-50</text>
<text transform="translate(242.5 569.9) scale(1 1.12)" font-size="58" text-anchor="end">-45</text>
<text transform="translate(242.5 448.6) scale(1 1.12)" font-size="58" text-anchor="end">-40</text>
<text transform="translate(242.5 327.3) scale(1 1.12)" font-size="58" text-anchor="end">-35</text>
<text transform="translate(242.5 205.9) scale(1 1.12)" font-size="58" text-anchor="end">-30</text>
<text transform="translate(242.5 84.6) scale(1 1.12)" font-size="58" text-anchor="end">-25</text>
<text transform="translate(296.3 883) scale(1 1.14)" font-size="57" text-anchor="middle">1526</text>
<text transform="translate(574.9 883) scale(1 1.14)" font-size="57" text-anchor="middle">1528</text>
<text transform="translate(853.5 883) scale(1 1.14)" font-size="57" text-anchor="middle">1530</text>
<text transform="translate(1132.0 883) scale(1 1.14)" font-size="57" text-anchor="middle">1532</text>
<text transform="translate(1410.6 883) scale(1 1.14)" font-size="57" text-anchor="middle">1534</text>
<text transform="translate(1689.2 883) scale(1 1.14)" font-size="57" text-anchor="middle">1536</text>
<text transform="translate(454.5 292.8) scale(1 1.08)" font-size="58" text-anchor="middle">3dB</text>
<text class="b" transform="translate(991 959.3) scale(1 0.98)" font-size="59" text-anchor="middle">Wavelength (nm)</text>
<text class="b" transform="translate(119 432) rotate(-90) scale(1 1.03)" font-size="58.6" text-anchor="middle">Power (dBm)</text>
</g>
</svg></body></html>
